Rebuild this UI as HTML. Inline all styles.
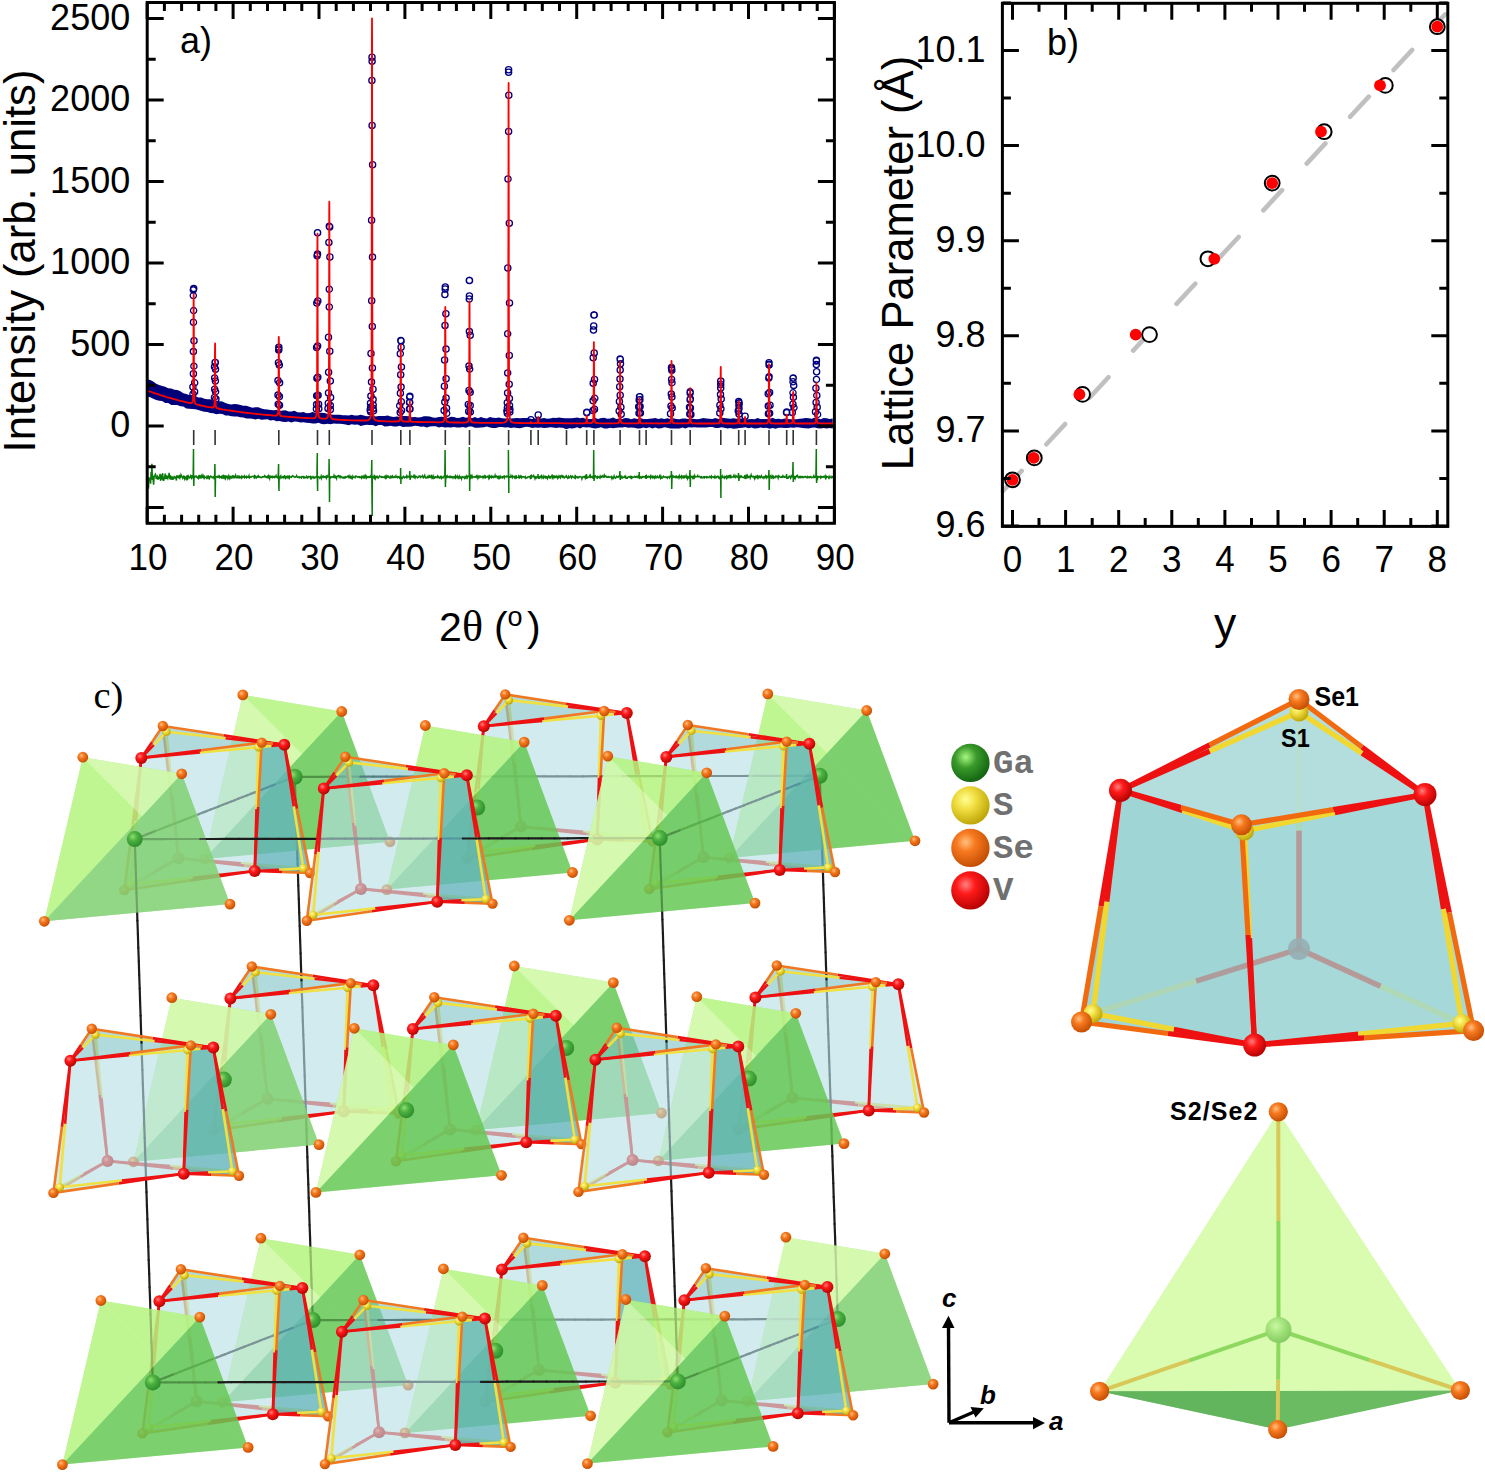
<!DOCTYPE html>
<html><head><meta charset="utf-8"><style>
html,body{margin:0;padding:0;background:#fff;}
svg{display:block;font-family:"Liberation Sans", sans-serif;}
</style></head><body>
<svg width="1485" height="1473" viewBox="0 0 1485 1473">
<defs>
<radialGradient id="gV" cx="0.38" cy="0.35" r="0.7"><stop offset="0" stop-color="#ff8080"/><stop offset="0.35" stop-color="#ff1a1a"/><stop offset="1" stop-color="#b00000"/></radialGradient>
<radialGradient id="gSe" cx="0.38" cy="0.35" r="0.7"><stop offset="0" stop-color="#ffc080"/><stop offset="0.35" stop-color="#f77a20"/><stop offset="1" stop-color="#c04a00"/></radialGradient>
<radialGradient id="gS" cx="0.38" cy="0.35" r="0.7"><stop offset="0" stop-color="#ffff90"/><stop offset="0.4" stop-color="#f0dc40"/><stop offset="1" stop-color="#b8a000"/></radialGradient>
<radialGradient id="gGa" cx="0.38" cy="0.35" r="0.7"><stop offset="0" stop-color="#8de070"/><stop offset="0.4" stop-color="#4cb040"/><stop offset="1" stop-color="#2a8a2a"/></radialGradient>
<radialGradient id="gGaL" cx="0.38" cy="0.35" r="0.7"><stop offset="0" stop-color="#a8f880"/><stop offset="0.4" stop-color="#3a9a2a"/><stop offset="1" stop-color="#106010"/></radialGradient>
<radialGradient id="gGaB" cx="0.4" cy="0.35" r="0.7"><stop offset="0" stop-color="#c8f8a0"/><stop offset="0.5" stop-color="#a0e078"/><stop offset="1" stop-color="#80c860"/></radialGradient>
</defs><g id="pa">
<path d="M147.2,379.2 L150.2,380.1 L153.2,381.6 L156.2,383.7 L159.2,385 L162.2,386.1 L165.2,386.7 L168.2,388.3 L171.3,388.6 L174.3,389.7 L177.3,390 L180.3,391.2 L183.3,393.3 L186.3,393.9 L189.3,395 L192.3,395.1 L195.3,396 L198.3,397.6 L201.3,397.4 L204.3,398.7 L207.3,399.2 L210.3,399.3 L213.3,400.8 L216.3,401 L219.4,401.3 L222.4,401.5 L225.4,402.9 L228.4,403.9 L231.4,404.6 L234.4,404 L237.4,404.3 L240.4,405 L243.4,405.7 L246.4,405.7 L249.4,406.7 L252.4,407.8 L255.4,407.2 L258.4,407.3 L261.4,408.4 L264.5,409.3 L267.5,409.5 L270.5,410 L273.5,410.2 L276.5,410.1 L279.5,410.9 L282.5,410.4 L285.5,410.2 L288.5,411.4 L291.5,411.5 L294.5,410.8 L297.5,412.3 L300.5,412.4 L303.5,412.1 L306.5,413.2 L309.6,412.9 L312.6,412.1 L315.6,413 L318.6,413 L321.6,412.8 L324.6,413 L327.6,413.9 L330.6,414.6 L333.6,414.8 L336.6,414.7 L339.6,414.7 L342.6,415.3 L345.6,415.3 L348.6,415.6 L351.6,414.8 L354.6,415.5 L357.7,415.4 L360.7,414.7 L363.7,415.5 L366.7,416.2 L369.7,415.9 L372.7,415.2 L375.7,416.6 L378.7,415.9 L381.7,415.9 L384.7,416 L387.7,415.6 L390.7,416.6 L393.7,416.9 L396.7,416.4 L399.7,416.8 L402.8,416.1 L405.8,416.1 L408.8,416.2 L411.8,417.2 L414.8,417 L417.8,417.6 L420.8,417.3 L423.8,416.3 L426.8,416.3 L429.8,416.4 L432.8,417.6 L435.8,417.7 L438.8,417 L441.8,416.7 L444.8,417.1 L447.9,418 L450.9,416.8 L453.9,417 L456.9,418 L459.9,417.8 L462.9,416.8 L465.9,417.7 L468.9,417.3 L471.9,418.3 L474.9,417 L477.9,418.3 L480.9,417 L483.9,418 L486.9,418.4 L489.9,417.1 L492.9,417.8 L496,418 L499,417.4 L502,418.3 L505,418.4 L508,418.3 L511,418.6 L514,418.2 L517,417.9 L520,418.2 L523,418.1 L526,418 L529,418.2 L532,418.9 L535,418.6 L538,417.8 L541.1,418.4 L544.1,418.1 L547.1,418.8 L550.1,418.6 L553.1,417.8 L556.1,418.1 L559.1,417.6 L562.1,418.1 L565.1,418.2 L568.1,418.3 L571.1,418.3 L574.1,418 L577.1,417.6 L580.1,418.2 L583.1,417.8 L586.1,418.9 L589.2,419 L592.2,419 L595.2,417.9 L598.2,418.9 L601.2,418.1 L604.2,417.7 L607.2,418.8 L610.2,418.5 L613.2,417.6 L616.2,418.9 L619.2,418.4 L622.2,418.9 L625.2,418 L628.2,418.3 L631.2,419.2 L634.3,418.2 L637.3,419.1 L640.3,418 L643.3,419.1 L646.3,419.2 L649.3,418.8 L652.3,418.6 L655.3,417.9 L658.3,419 L661.3,418.3 L664.3,419.1 L667.3,418.2 L670.3,419.1 L673.3,418.3 L676.3,419.1 L679.4,419.2 L682.4,418.5 L685.4,418.4 L688.4,418.9 L691.4,418.4 L694.4,419.1 L697.4,419.2 L700.4,418.8 L703.4,418.1 L706.4,418.5 L709.4,418.7 L712.4,418.9 L715.4,418.1 L718.4,419 L721.4,417.8 L724.4,418 L727.5,418.5 L730.5,418.7 L733.5,418.2 L736.5,418.8 L739.5,418.2 L742.5,418.7 L745.5,419.2 L748.5,419.2 L751.5,418.9 L754.5,419.2 L757.5,417.9 L760.5,418.9 L763.5,418.9 L766.5,419.1 L769.5,418.9 L772.6,417.8 L775.6,418.9 L778.6,418.8 L781.6,419.3 L784.6,418.6 L787.6,419 L790.6,419.3 L793.6,419.2 L796.6,419.3 L799.6,418.8 L802.6,418.4 L805.6,418.1 L808.6,418.2 L811.6,418.7 L814.6,417.8 L817.6,418.2 L820.7,419.3 L823.7,417.9 L826.7,418.2 L829.7,419.1 L832.7,418.5 L832.7,428.5 L829.7,428 L826.7,428.4 L823.7,428.1 L820.7,428.5 L817.6,428.2 L814.6,427.4 L811.6,427.7 L808.6,428.5 L805.6,428.2 L802.6,428 L799.6,427.5 L796.6,427.2 L793.6,427.8 L790.6,427.6 L787.6,427.9 L784.6,427.9 L781.6,427.7 L778.6,427.7 L775.6,428.7 L772.6,428 L769.5,428.7 L766.5,427.8 L763.5,427.9 L760.5,427.5 L757.5,428.2 L754.5,428.5 L751.5,427.4 L748.5,428.3 L745.5,427.3 L742.5,427.7 L739.5,428.1 L736.5,428.4 L733.5,428.7 L730.5,427.9 L727.5,428.4 L724.4,427.8 L721.4,427.3 L718.4,427.9 L715.4,428 L712.4,427.1 L709.4,427.1 L706.4,427.4 L703.4,427.6 L700.4,427.6 L697.4,427.4 L694.4,427.3 L691.4,427.5 L688.4,427.3 L685.4,428.6 L682.4,427.6 L679.4,428.5 L676.3,428.4 L673.3,428.4 L670.3,428.6 L667.3,427.7 L664.3,427.2 L661.3,428.2 L658.3,428.5 L655.3,427.5 L652.3,428.5 L649.3,427.3 L646.3,428.3 L643.3,427.5 L640.3,428.6 L637.3,428.6 L634.3,427.8 L631.2,427.6 L628.2,427.7 L625.2,427 L622.2,427.5 L619.2,427.5 L616.2,427.7 L613.2,428.3 L610.2,427.8 L607.2,428.5 L604.2,428.5 L601.2,427.2 L598.2,428.1 L595.2,428.4 L592.2,428 L589.2,427.3 L586.1,427.6 L583.1,427.1 L580.1,428.4 L577.1,427.3 L574.1,428.3 L571.1,428.4 L568.1,427.7 L565.1,428 L562.1,427.7 L559.1,427.6 L556.1,428.1 L553.1,427.6 L550.1,427.3 L547.1,427.7 L544.1,428.1 L541.1,427.6 L538,427.7 L535,427.5 L532,428 L529,427 L526,426.8 L523,427.6 L520,428.2 L517,428.1 L514,427.4 L511,428.1 L508,427.3 L505,427.5 L502,427.1 L499,426.9 L496,427.9 L492.9,428 L489.9,427.5 L486.9,426.5 L483.9,427.3 L480.9,427.5 L477.9,427.7 L474.9,427.7 L471.9,426.6 L468.9,426.6 L465.9,427.8 L462.9,426.9 L459.9,427.5 L456.9,427.5 L453.9,426.9 L450.9,427.4 L447.9,427.2 L444.8,427.4 L441.8,426.8 L438.8,427.4 L435.8,426.3 L432.8,426.3 L429.8,426.5 L426.8,427.4 L423.8,426.5 L420.8,426.8 L417.8,426.1 L414.8,425.7 L411.8,426.4 L408.8,426.7 L405.8,426.8 L402.8,427 L399.7,425.7 L396.7,426.5 L393.7,426.5 L390.7,425.7 L387.7,426.2 L384.7,426.6 L381.7,425 L378.7,425.1 L375.7,426.3 L372.7,425 L369.7,425.1 L366.7,424.7 L363.7,425.2 L360.7,425.9 L357.7,424.5 L354.6,424.7 L351.6,424.3 L348.6,425.3 L345.6,424.4 L342.6,424 L339.6,423.7 L336.6,423.7 L333.6,423.5 L330.6,424.2 L327.6,423.7 L324.6,424.2 L321.6,424.1 L318.6,422.7 L315.6,423.5 L312.6,423.4 L309.6,423.1 L306.5,422.7 L303.5,422.2 L300.5,422.4 L297.5,421.8 L294.5,421.5 L291.5,422.5 L288.5,421.5 L285.5,422 L282.5,421.8 L279.5,420.9 L276.5,421.3 L273.5,420.1 L270.5,420.6 L267.5,419.3 L264.5,419.6 L261.4,419.7 L258.4,418.7 L255.4,419.6 L252.4,418.8 L249.4,418.4 L246.4,418.5 L243.4,417.4 L240.4,417.2 L237.4,416.4 L234.4,416.4 L231.4,416.2 L228.4,415.5 L225.4,415.5 L222.4,414 L219.4,413.8 L216.3,414.3 L213.3,413.3 L210.3,413 L207.3,411.9 L204.3,411.8 L201.3,411 L198.3,410 L195.3,409.2 L192.3,409.1 L189.3,408.7 L186.3,408.5 L183.3,406.6 L180.3,406.2 L177.3,405.1 L174.3,404.9 L171.3,405 L168.2,403 L165.2,403.1 L162.2,401.1 L159.2,400.7 L156.2,399.9 L153.2,398.7 L150.2,397.2 L147.2,396.3Z" fill="#00007a" />
<path d="M189.9,393.9a3.1,3.1 0 1,0 6.2,0a3.1,3.1 0 1,0 -6.2,0M189.8,387a3.1,3.1 0 1,0 6.2,0a3.1,3.1 0 1,0 -6.2,0M190.3,373.7a3.1,3.1 0 1,0 6.2,0a3.1,3.1 0 1,0 -6.2,0M190.3,351.6a3.1,3.1 0 1,0 6.2,0a3.1,3.1 0 1,0 -6.2,0M190.4,322.3a3.1,3.1 0 1,0 6.2,0a3.1,3.1 0 1,0 -6.2,0M190.2,295.6a3.1,3.1 0 1,0 6.2,0a3.1,3.1 0 1,0 -6.2,0M190.2,290a3.1,3.1 0 1,0 6.2,0a3.1,3.1 0 1,0 -6.2,0M190.5,310.6a3.1,3.1 0 1,0 6.2,0a3.1,3.1 0 1,0 -6.2,0M190.9,340.7a3.1,3.1 0 1,0 6.2,0a3.1,3.1 0 1,0 -6.2,0M190.8,366.2a3.1,3.1 0 1,0 6.2,0a3.1,3.1 0 1,0 -6.2,0M191.6,382.8a3.1,3.1 0 1,0 6.2,0a3.1,3.1 0 1,0 -6.2,0M191.5,391.7a3.1,3.1 0 1,0 6.2,0a3.1,3.1 0 1,0 -6.2,0M190.6,288.6a3.1,3.1 0 1,0 6.2,0a3.1,3.1 0 1,0 -6.2,0M211.4,397.4a3.1,3.1 0 1,0 6.2,0a3.1,3.1 0 1,0 -6.2,0M211.6,389.2a3.1,3.1 0 1,0 6.2,0a3.1,3.1 0 1,0 -6.2,0M211.6,377.9a3.1,3.1 0 1,0 6.2,0a3.1,3.1 0 1,0 -6.2,0M211.4,366.7a3.1,3.1 0 1,0 6.2,0a3.1,3.1 0 1,0 -6.2,0M212.2,362.5a3.1,3.1 0 1,0 6.2,0a3.1,3.1 0 1,0 -6.2,0M212.4,369.2a3.1,3.1 0 1,0 6.2,0a3.1,3.1 0 1,0 -6.2,0M212.3,381a3.1,3.1 0 1,0 6.2,0a3.1,3.1 0 1,0 -6.2,0M212.5,391.7a3.1,3.1 0 1,0 6.2,0a3.1,3.1 0 1,0 -6.2,0M212.8,398.9a3.1,3.1 0 1,0 6.2,0a3.1,3.1 0 1,0 -6.2,0M212,362.4a3.1,3.1 0 1,0 6.2,0a3.1,3.1 0 1,0 -6.2,0M275.1,404.3a3.1,3.1 0 1,0 6.2,0a3.1,3.1 0 1,0 -6.2,0M274.9,395.1a3.1,3.1 0 1,0 6.2,0a3.1,3.1 0 1,0 -6.2,0M274.9,380.6a3.1,3.1 0 1,0 6.2,0a3.1,3.1 0 1,0 -6.2,0M275.3,362.7a3.1,3.1 0 1,0 6.2,0a3.1,3.1 0 1,0 -6.2,0M275.8,349a3.1,3.1 0 1,0 6.2,0a3.1,3.1 0 1,0 -6.2,0M275.6,350.1a3.1,3.1 0 1,0 6.2,0a3.1,3.1 0 1,0 -6.2,0M276.2,365a3.1,3.1 0 1,0 6.2,0a3.1,3.1 0 1,0 -6.2,0M276.5,382.8a3.1,3.1 0 1,0 6.2,0a3.1,3.1 0 1,0 -6.2,0M276.3,396.6a3.1,3.1 0 1,0 6.2,0a3.1,3.1 0 1,0 -6.2,0M276.4,405.2a3.1,3.1 0 1,0 6.2,0a3.1,3.1 0 1,0 -6.2,0M275.7,347.3a3.1,3.1 0 1,0 6.2,0a3.1,3.1 0 1,0 -6.2,0M313.3,408.9a3.1,3.1 0 1,0 6.2,0a3.1,3.1 0 1,0 -6.2,0M313.5,404.6a3.1,3.1 0 1,0 6.2,0a3.1,3.1 0 1,0 -6.2,0M313.6,395.8a3.1,3.1 0 1,0 6.2,0a3.1,3.1 0 1,0 -6.2,0M313.8,378.3a3.1,3.1 0 1,0 6.2,0a3.1,3.1 0 1,0 -6.2,0M313.5,347.5a3.1,3.1 0 1,0 6.2,0a3.1,3.1 0 1,0 -6.2,0M313.7,303a3.1,3.1 0 1,0 6.2,0a3.1,3.1 0 1,0 -6.2,0M314,255.8a3.1,3.1 0 1,0 6.2,0a3.1,3.1 0 1,0 -6.2,0M314.5,232.7a3.1,3.1 0 1,0 6.2,0a3.1,3.1 0 1,0 -6.2,0M314.4,254.1a3.1,3.1 0 1,0 6.2,0a3.1,3.1 0 1,0 -6.2,0M314.7,301a3.1,3.1 0 1,0 6.2,0a3.1,3.1 0 1,0 -6.2,0M314.5,345.9a3.1,3.1 0 1,0 6.2,0a3.1,3.1 0 1,0 -6.2,0M314.7,377.3a3.1,3.1 0 1,0 6.2,0a3.1,3.1 0 1,0 -6.2,0M315,395.3a3.1,3.1 0 1,0 6.2,0a3.1,3.1 0 1,0 -6.2,0M315.5,404.3a3.1,3.1 0 1,0 6.2,0a3.1,3.1 0 1,0 -6.2,0M315.7,408.7a3.1,3.1 0 1,0 6.2,0a3.1,3.1 0 1,0 -6.2,0M314.4,232.7a3.1,3.1 0 1,0 6.2,0a3.1,3.1 0 1,0 -6.2,0M324.9,408.4a3.1,3.1 0 1,0 6.2,0a3.1,3.1 0 1,0 -6.2,0M325.2,403.3a3.1,3.1 0 1,0 6.2,0a3.1,3.1 0 1,0 -6.2,0M325.4,392.9a3.1,3.1 0 1,0 6.2,0a3.1,3.1 0 1,0 -6.2,0M325.5,372.3a3.1,3.1 0 1,0 6.2,0a3.1,3.1 0 1,0 -6.2,0M325.4,337.3a3.1,3.1 0 1,0 6.2,0a3.1,3.1 0 1,0 -6.2,0M326.2,289.2a3.1,3.1 0 1,0 6.2,0a3.1,3.1 0 1,0 -6.2,0M325.8,242.4a3.1,3.1 0 1,0 6.2,0a3.1,3.1 0 1,0 -6.2,0M326.6,227a3.1,3.1 0 1,0 6.2,0a3.1,3.1 0 1,0 -6.2,0M326.8,257a3.1,3.1 0 1,0 6.2,0a3.1,3.1 0 1,0 -6.2,0M326.2,307a3.1,3.1 0 1,0 6.2,0a3.1,3.1 0 1,0 -6.2,0M326.7,351.3a3.1,3.1 0 1,0 6.2,0a3.1,3.1 0 1,0 -6.2,0M327.2,381a3.1,3.1 0 1,0 6.2,0a3.1,3.1 0 1,0 -6.2,0M327.5,397.4a3.1,3.1 0 1,0 6.2,0a3.1,3.1 0 1,0 -6.2,0M327.2,405.5a3.1,3.1 0 1,0 6.2,0a3.1,3.1 0 1,0 -6.2,0M327.3,409.6a3.1,3.1 0 1,0 6.2,0a3.1,3.1 0 1,0 -6.2,0M326.2,226.2a3.1,3.1 0 1,0 6.2,0a3.1,3.1 0 1,0 -6.2,0M367.5,411.8a3.1,3.1 0 1,0 6.2,0a3.1,3.1 0 1,0 -6.2,0M367.1,409.9a3.1,3.1 0 1,0 6.2,0a3.1,3.1 0 1,0 -6.2,0M367.5,407.2a3.1,3.1 0 1,0 6.2,0a3.1,3.1 0 1,0 -6.2,0M367.4,403.2a3.1,3.1 0 1,0 6.2,0a3.1,3.1 0 1,0 -6.2,0M367.8,396.1a3.1,3.1 0 1,0 6.2,0a3.1,3.1 0 1,0 -6.2,0M368.4,382.1a3.1,3.1 0 1,0 6.2,0a3.1,3.1 0 1,0 -6.2,0M367.9,353.5a3.1,3.1 0 1,0 6.2,0a3.1,3.1 0 1,0 -6.2,0M368.6,300.8a3.1,3.1 0 1,0 6.2,0a3.1,3.1 0 1,0 -6.2,0M368.5,220.2a3.1,3.1 0 1,0 6.2,0a3.1,3.1 0 1,0 -6.2,0M369,125.4a3.1,3.1 0 1,0 6.2,0a3.1,3.1 0 1,0 -6.2,0M369,61.3a3.1,3.1 0 1,0 6.2,0a3.1,3.1 0 1,0 -6.2,0M368.8,80.4a3.1,3.1 0 1,0 6.2,0a3.1,3.1 0 1,0 -6.2,0M369.5,164.8a3.1,3.1 0 1,0 6.2,0a3.1,3.1 0 1,0 -6.2,0M369.4,257.1a3.1,3.1 0 1,0 6.2,0a3.1,3.1 0 1,0 -6.2,0M369.2,326.4a3.1,3.1 0 1,0 6.2,0a3.1,3.1 0 1,0 -6.2,0M369.3,367.9a3.1,3.1 0 1,0 6.2,0a3.1,3.1 0 1,0 -6.2,0M369.9,389.2a3.1,3.1 0 1,0 6.2,0a3.1,3.1 0 1,0 -6.2,0M370,399.6a3.1,3.1 0 1,0 6.2,0a3.1,3.1 0 1,0 -6.2,0M370.1,405.1a3.1,3.1 0 1,0 6.2,0a3.1,3.1 0 1,0 -6.2,0M370.1,408.4a3.1,3.1 0 1,0 6.2,0a3.1,3.1 0 1,0 -6.2,0M370.4,410.8a3.1,3.1 0 1,0 6.2,0a3.1,3.1 0 1,0 -6.2,0M368.9,57.3a3.1,3.1 0 1,0 6.2,0a3.1,3.1 0 1,0 -6.2,0M397.1,412.5a3.1,3.1 0 1,0 6.2,0a3.1,3.1 0 1,0 -6.2,0M396.6,405.7a3.1,3.1 0 1,0 6.2,0a3.1,3.1 0 1,0 -6.2,0M397.3,393.3a3.1,3.1 0 1,0 6.2,0a3.1,3.1 0 1,0 -6.2,0M397.6,374.7a3.1,3.1 0 1,0 6.2,0a3.1,3.1 0 1,0 -6.2,0M397.2,353.7a3.1,3.1 0 1,0 6.2,0a3.1,3.1 0 1,0 -6.2,0M398,341a3.1,3.1 0 1,0 6.2,0a3.1,3.1 0 1,0 -6.2,0M398,347.3a3.1,3.1 0 1,0 6.2,0a3.1,3.1 0 1,0 -6.2,0M398.3,366.9a3.1,3.1 0 1,0 6.2,0a3.1,3.1 0 1,0 -6.2,0M398,387.1a3.1,3.1 0 1,0 6.2,0a3.1,3.1 0 1,0 -6.2,0M398.2,401.8a3.1,3.1 0 1,0 6.2,0a3.1,3.1 0 1,0 -6.2,0M398.4,410.5a3.1,3.1 0 1,0 6.2,0a3.1,3.1 0 1,0 -6.2,0M397.7,340.6a3.1,3.1 0 1,0 6.2,0a3.1,3.1 0 1,0 -6.2,0M406.4,409a3.1,3.1 0 1,0 6.2,0a3.1,3.1 0 1,0 -6.2,0M406.4,402.4a3.1,3.1 0 1,0 6.2,0a3.1,3.1 0 1,0 -6.2,0M406.6,397a3.1,3.1 0 1,0 6.2,0a3.1,3.1 0 1,0 -6.2,0M406.7,397a3.1,3.1 0 1,0 6.2,0a3.1,3.1 0 1,0 -6.2,0M406.7,402.3a3.1,3.1 0 1,0 6.2,0a3.1,3.1 0 1,0 -6.2,0M406.9,409a3.1,3.1 0 1,0 6.2,0a3.1,3.1 0 1,0 -6.2,0M406.8,396.2a3.1,3.1 0 1,0 6.2,0a3.1,3.1 0 1,0 -6.2,0M441,410.4a3.1,3.1 0 1,0 6.2,0a3.1,3.1 0 1,0 -6.2,0M441.7,402.1a3.1,3.1 0 1,0 6.2,0a3.1,3.1 0 1,0 -6.2,0M441.3,386.3a3.1,3.1 0 1,0 6.2,0a3.1,3.1 0 1,0 -6.2,0M441.5,360a3.1,3.1 0 1,0 6.2,0a3.1,3.1 0 1,0 -6.2,0M441.9,325.4a3.1,3.1 0 1,0 6.2,0a3.1,3.1 0 1,0 -6.2,0M441.8,294.6a3.1,3.1 0 1,0 6.2,0a3.1,3.1 0 1,0 -6.2,0M442.1,289a3.1,3.1 0 1,0 6.2,0a3.1,3.1 0 1,0 -6.2,0M442.8,313.8a3.1,3.1 0 1,0 6.2,0a3.1,3.1 0 1,0 -6.2,0M442.9,349.1a3.1,3.1 0 1,0 6.2,0a3.1,3.1 0 1,0 -6.2,0M443,378.8a3.1,3.1 0 1,0 6.2,0a3.1,3.1 0 1,0 -6.2,0M443,397.9a3.1,3.1 0 1,0 6.2,0a3.1,3.1 0 1,0 -6.2,0M443.4,408.3a3.1,3.1 0 1,0 6.2,0a3.1,3.1 0 1,0 -6.2,0M443.6,413.3a3.1,3.1 0 1,0 6.2,0a3.1,3.1 0 1,0 -6.2,0M442.2,287a3.1,3.1 0 1,0 6.2,0a3.1,3.1 0 1,0 -6.2,0M465.6,411.5a3.1,3.1 0 1,0 6.2,0a3.1,3.1 0 1,0 -6.2,0M465.2,404.5a3.1,3.1 0 1,0 6.2,0a3.1,3.1 0 1,0 -6.2,0M465.9,390.5a3.1,3.1 0 1,0 6.2,0a3.1,3.1 0 1,0 -6.2,0M465.9,366.1a3.1,3.1 0 1,0 6.2,0a3.1,3.1 0 1,0 -6.2,0M466.3,331.6a3.1,3.1 0 1,0 6.2,0a3.1,3.1 0 1,0 -6.2,0M466.3,296a3.1,3.1 0 1,0 6.2,0a3.1,3.1 0 1,0 -6.2,0M466.2,280.5a3.1,3.1 0 1,0 6.2,0a3.1,3.1 0 1,0 -6.2,0M466.2,299a3.1,3.1 0 1,0 6.2,0a3.1,3.1 0 1,0 -6.2,0M467.1,335.3a3.1,3.1 0 1,0 6.2,0a3.1,3.1 0 1,0 -6.2,0M466.6,369.1a3.1,3.1 0 1,0 6.2,0a3.1,3.1 0 1,0 -6.2,0M467.1,392.3a3.1,3.1 0 1,0 6.2,0a3.1,3.1 0 1,0 -6.2,0M467.1,405.5a3.1,3.1 0 1,0 6.2,0a3.1,3.1 0 1,0 -6.2,0M467.3,412a3.1,3.1 0 1,0 6.2,0a3.1,3.1 0 1,0 -6.2,0M466.4,280.4a3.1,3.1 0 1,0 6.2,0a3.1,3.1 0 1,0 -6.2,0M504.2,413.2a3.1,3.1 0 1,0 6.2,0a3.1,3.1 0 1,0 -6.2,0M503.8,411a3.1,3.1 0 1,0 6.2,0a3.1,3.1 0 1,0 -6.2,0M504.3,407.8a3.1,3.1 0 1,0 6.2,0a3.1,3.1 0 1,0 -6.2,0M504.2,402.7a3.1,3.1 0 1,0 6.2,0a3.1,3.1 0 1,0 -6.2,0M504.5,392.9a3.1,3.1 0 1,0 6.2,0a3.1,3.1 0 1,0 -6.2,0M504.6,372.9a3.1,3.1 0 1,0 6.2,0a3.1,3.1 0 1,0 -6.2,0M504.6,333.8a3.1,3.1 0 1,0 6.2,0a3.1,3.1 0 1,0 -6.2,0M504.7,267.9a3.1,3.1 0 1,0 6.2,0a3.1,3.1 0 1,0 -6.2,0M504.9,178.9a3.1,3.1 0 1,0 6.2,0a3.1,3.1 0 1,0 -6.2,0M505.7,95.2a3.1,3.1 0 1,0 6.2,0a3.1,3.1 0 1,0 -6.2,0M505.5,72.3a3.1,3.1 0 1,0 6.2,0a3.1,3.1 0 1,0 -6.2,0M505.5,131.5a3.1,3.1 0 1,0 6.2,0a3.1,3.1 0 1,0 -6.2,0M506.2,223.3a3.1,3.1 0 1,0 6.2,0a3.1,3.1 0 1,0 -6.2,0M506.4,302.9a3.1,3.1 0 1,0 6.2,0a3.1,3.1 0 1,0 -6.2,0M506.2,355.5a3.1,3.1 0 1,0 6.2,0a3.1,3.1 0 1,0 -6.2,0M506.1,384.2a3.1,3.1 0 1,0 6.2,0a3.1,3.1 0 1,0 -6.2,0M506.3,398.4a3.1,3.1 0 1,0 6.2,0a3.1,3.1 0 1,0 -6.2,0M506.4,405.5a3.1,3.1 0 1,0 6.2,0a3.1,3.1 0 1,0 -6.2,0M506.8,409.5a3.1,3.1 0 1,0 6.2,0a3.1,3.1 0 1,0 -6.2,0M506.7,412.1a3.1,3.1 0 1,0 6.2,0a3.1,3.1 0 1,0 -6.2,0M505.5,69.7a3.1,3.1 0 1,0 6.2,0a3.1,3.1 0 1,0 -6.2,0M527.8,419.8a3.1,3.1 0 1,0 6.2,0a3.1,3.1 0 1,0 -6.2,0M535.1,414.9a3.1,3.1 0 1,0 6.2,0a3.1,3.1 0 1,0 -6.2,0M563.4,425.2a3.1,3.1 0 1,0 6.2,0a3.1,3.1 0 1,0 -6.2,0M583.7,412.8a3.1,3.1 0 1,0 6.2,0a3.1,3.1 0 1,0 -6.2,0M583.6,412.5a3.1,3.1 0 1,0 6.2,0a3.1,3.1 0 1,0 -6.2,0M583.6,412.3a3.1,3.1 0 1,0 6.2,0a3.1,3.1 0 1,0 -6.2,0M589.9,410.5a3.1,3.1 0 1,0 6.2,0a3.1,3.1 0 1,0 -6.2,0M590,400.7a3.1,3.1 0 1,0 6.2,0a3.1,3.1 0 1,0 -6.2,0M590.1,383.3a3.1,3.1 0 1,0 6.2,0a3.1,3.1 0 1,0 -6.2,0M590.1,357.8a3.1,3.1 0 1,0 6.2,0a3.1,3.1 0 1,0 -6.2,0M590.4,330a3.1,3.1 0 1,0 6.2,0a3.1,3.1 0 1,0 -6.2,0M591.1,315.1a3.1,3.1 0 1,0 6.2,0a3.1,3.1 0 1,0 -6.2,0M590.6,326a3.1,3.1 0 1,0 6.2,0a3.1,3.1 0 1,0 -6.2,0M591.1,352.9a3.1,3.1 0 1,0 6.2,0a3.1,3.1 0 1,0 -6.2,0M591.4,379.4a3.1,3.1 0 1,0 6.2,0a3.1,3.1 0 1,0 -6.2,0M591.7,398.3a3.1,3.1 0 1,0 6.2,0a3.1,3.1 0 1,0 -6.2,0M591.4,409.2a3.1,3.1 0 1,0 6.2,0a3.1,3.1 0 1,0 -6.2,0M590.8,315a3.1,3.1 0 1,0 6.2,0a3.1,3.1 0 1,0 -6.2,0M616.1,411a3.1,3.1 0 1,0 6.2,0a3.1,3.1 0 1,0 -6.2,0M616.3,401.4a3.1,3.1 0 1,0 6.2,0a3.1,3.1 0 1,0 -6.2,0M616.6,386.8a3.1,3.1 0 1,0 6.2,0a3.1,3.1 0 1,0 -6.2,0M617.1,370.1a3.1,3.1 0 1,0 6.2,0a3.1,3.1 0 1,0 -6.2,0M617.2,359.5a3.1,3.1 0 1,0 6.2,0a3.1,3.1 0 1,0 -6.2,0M617.4,363.8a3.1,3.1 0 1,0 6.2,0a3.1,3.1 0 1,0 -6.2,0M616.9,379.1a3.1,3.1 0 1,0 6.2,0a3.1,3.1 0 1,0 -6.2,0M617.1,395.3a3.1,3.1 0 1,0 6.2,0a3.1,3.1 0 1,0 -6.2,0M617.8,407.2a3.1,3.1 0 1,0 6.2,0a3.1,3.1 0 1,0 -6.2,0M618.1,414.3a3.1,3.1 0 1,0 6.2,0a3.1,3.1 0 1,0 -6.2,0M617,359a3.1,3.1 0 1,0 6.2,0a3.1,3.1 0 1,0 -6.2,0M635.9,413.2a3.1,3.1 0 1,0 6.2,0a3.1,3.1 0 1,0 -6.2,0M635.6,406.8a3.1,3.1 0 1,0 6.2,0a3.1,3.1 0 1,0 -6.2,0M636.1,400a3.1,3.1 0 1,0 6.2,0a3.1,3.1 0 1,0 -6.2,0M636.7,396.7a3.1,3.1 0 1,0 6.2,0a3.1,3.1 0 1,0 -6.2,0M636.8,399.7a3.1,3.1 0 1,0 6.2,0a3.1,3.1 0 1,0 -6.2,0M637,406.4a3.1,3.1 0 1,0 6.2,0a3.1,3.1 0 1,0 -6.2,0M637.3,412.9a3.1,3.1 0 1,0 6.2,0a3.1,3.1 0 1,0 -6.2,0M636.4,396.7a3.1,3.1 0 1,0 6.2,0a3.1,3.1 0 1,0 -6.2,0M643,423.1a3.1,3.1 0 1,0 6.2,0a3.1,3.1 0 1,0 -6.2,0M667.4,413.7a3.1,3.1 0 1,0 6.2,0a3.1,3.1 0 1,0 -6.2,0M667.9,406a3.1,3.1 0 1,0 6.2,0a3.1,3.1 0 1,0 -6.2,0M668.2,394.1a3.1,3.1 0 1,0 6.2,0a3.1,3.1 0 1,0 -6.2,0M668.5,379.5a3.1,3.1 0 1,0 6.2,0a3.1,3.1 0 1,0 -6.2,0M668.5,368.8a3.1,3.1 0 1,0 6.2,0a3.1,3.1 0 1,0 -6.2,0M668.7,370.3a3.1,3.1 0 1,0 6.2,0a3.1,3.1 0 1,0 -6.2,0M668.9,382.7a3.1,3.1 0 1,0 6.2,0a3.1,3.1 0 1,0 -6.2,0M668.8,397a3.1,3.1 0 1,0 6.2,0a3.1,3.1 0 1,0 -6.2,0M669.1,408.1a3.1,3.1 0 1,0 6.2,0a3.1,3.1 0 1,0 -6.2,0M668.4,367.6a3.1,3.1 0 1,0 6.2,0a3.1,3.1 0 1,0 -6.2,0M686.7,414a3.1,3.1 0 1,0 6.2,0a3.1,3.1 0 1,0 -6.2,0M686.4,407.3a3.1,3.1 0 1,0 6.2,0a3.1,3.1 0 1,0 -6.2,0M687.2,399.1a3.1,3.1 0 1,0 6.2,0a3.1,3.1 0 1,0 -6.2,0M687.1,392.6a3.1,3.1 0 1,0 6.2,0a3.1,3.1 0 1,0 -6.2,0M687,393a3.1,3.1 0 1,0 6.2,0a3.1,3.1 0 1,0 -6.2,0M687,399.7a3.1,3.1 0 1,0 6.2,0a3.1,3.1 0 1,0 -6.2,0M687.3,407.9a3.1,3.1 0 1,0 6.2,0a3.1,3.1 0 1,0 -6.2,0M687.8,414.4a3.1,3.1 0 1,0 6.2,0a3.1,3.1 0 1,0 -6.2,0M687.1,391.8a3.1,3.1 0 1,0 6.2,0a3.1,3.1 0 1,0 -6.2,0M716.7,413a3.1,3.1 0 1,0 6.2,0a3.1,3.1 0 1,0 -6.2,0M716.8,405.2a3.1,3.1 0 1,0 6.2,0a3.1,3.1 0 1,0 -6.2,0M717.4,394.6a3.1,3.1 0 1,0 6.2,0a3.1,3.1 0 1,0 -6.2,0M717.6,384.4a3.1,3.1 0 1,0 6.2,0a3.1,3.1 0 1,0 -6.2,0M717.6,381.2a3.1,3.1 0 1,0 6.2,0a3.1,3.1 0 1,0 -6.2,0M717.6,388a3.1,3.1 0 1,0 6.2,0a3.1,3.1 0 1,0 -6.2,0M718.1,399a3.1,3.1 0 1,0 6.2,0a3.1,3.1 0 1,0 -6.2,0M717.8,408.7a3.1,3.1 0 1,0 6.2,0a3.1,3.1 0 1,0 -6.2,0M717.7,381a3.1,3.1 0 1,0 6.2,0a3.1,3.1 0 1,0 -6.2,0M735.2,410.9a3.1,3.1 0 1,0 6.2,0a3.1,3.1 0 1,0 -6.2,0M735.8,405.2a3.1,3.1 0 1,0 6.2,0a3.1,3.1 0 1,0 -6.2,0M735.7,401.7a3.1,3.1 0 1,0 6.2,0a3.1,3.1 0 1,0 -6.2,0M736.1,403.3a3.1,3.1 0 1,0 6.2,0a3.1,3.1 0 1,0 -6.2,0M735.9,408.6a3.1,3.1 0 1,0 6.2,0a3.1,3.1 0 1,0 -6.2,0M735.9,414.1a3.1,3.1 0 1,0 6.2,0a3.1,3.1 0 1,0 -6.2,0M735.6,401.6a3.1,3.1 0 1,0 6.2,0a3.1,3.1 0 1,0 -6.2,0M742,416.2a3.1,3.1 0 1,0 6.2,0a3.1,3.1 0 1,0 -6.2,0M765.3,413.8a3.1,3.1 0 1,0 6.2,0a3.1,3.1 0 1,0 -6.2,0M765.2,406.1a3.1,3.1 0 1,0 6.2,0a3.1,3.1 0 1,0 -6.2,0M765.1,393.7a3.1,3.1 0 1,0 6.2,0a3.1,3.1 0 1,0 -6.2,0M765.7,378a3.1,3.1 0 1,0 6.2,0a3.1,3.1 0 1,0 -6.2,0M766,365a3.1,3.1 0 1,0 6.2,0a3.1,3.1 0 1,0 -6.2,0M765.9,364.4a3.1,3.1 0 1,0 6.2,0a3.1,3.1 0 1,0 -6.2,0M766,376.8a3.1,3.1 0 1,0 6.2,0a3.1,3.1 0 1,0 -6.2,0M766.5,392.6a3.1,3.1 0 1,0 6.2,0a3.1,3.1 0 1,0 -6.2,0M766.9,405.3a3.1,3.1 0 1,0 6.2,0a3.1,3.1 0 1,0 -6.2,0M766.5,413.3a3.1,3.1 0 1,0 6.2,0a3.1,3.1 0 1,0 -6.2,0M765.9,362.8a3.1,3.1 0 1,0 6.2,0a3.1,3.1 0 1,0 -6.2,0M783.4,412.5a3.1,3.1 0 1,0 6.2,0a3.1,3.1 0 1,0 -6.2,0M783.7,412.6a3.1,3.1 0 1,0 6.2,0a3.1,3.1 0 1,0 -6.2,0M783.6,412.1a3.1,3.1 0 1,0 6.2,0a3.1,3.1 0 1,0 -6.2,0M789.2,412.4a3.1,3.1 0 1,0 6.2,0a3.1,3.1 0 1,0 -6.2,0M789.8,404.2a3.1,3.1 0 1,0 6.2,0a3.1,3.1 0 1,0 -6.2,0M789.9,392.8a3.1,3.1 0 1,0 6.2,0a3.1,3.1 0 1,0 -6.2,0M789.9,381.8a3.1,3.1 0 1,0 6.2,0a3.1,3.1 0 1,0 -6.2,0M789.9,378.3a3.1,3.1 0 1,0 6.2,0a3.1,3.1 0 1,0 -6.2,0M790.6,385.4a3.1,3.1 0 1,0 6.2,0a3.1,3.1 0 1,0 -6.2,0M790.3,397.2a3.1,3.1 0 1,0 6.2,0a3.1,3.1 0 1,0 -6.2,0M790.9,407.6a3.1,3.1 0 1,0 6.2,0a3.1,3.1 0 1,0 -6.2,0M790.1,378.1a3.1,3.1 0 1,0 6.2,0a3.1,3.1 0 1,0 -6.2,0M812.4,411.7a3.1,3.1 0 1,0 6.2,0a3.1,3.1 0 1,0 -6.2,0M813,402.4a3.1,3.1 0 1,0 6.2,0a3.1,3.1 0 1,0 -6.2,0M812.8,388.3a3.1,3.1 0 1,0 6.2,0a3.1,3.1 0 1,0 -6.2,0M813.5,371.8a3.1,3.1 0 1,0 6.2,0a3.1,3.1 0 1,0 -6.2,0M813.3,360.9a3.1,3.1 0 1,0 6.2,0a3.1,3.1 0 1,0 -6.2,0M813.2,364.6a3.1,3.1 0 1,0 6.2,0a3.1,3.1 0 1,0 -6.2,0M813.4,379.4a3.1,3.1 0 1,0 6.2,0a3.1,3.1 0 1,0 -6.2,0M813.7,395.4a3.1,3.1 0 1,0 6.2,0a3.1,3.1 0 1,0 -6.2,0M814.1,407.3a3.1,3.1 0 1,0 6.2,0a3.1,3.1 0 1,0 -6.2,0M814.5,414.4a3.1,3.1 0 1,0 6.2,0a3.1,3.1 0 1,0 -6.2,0M813.3,360.3a3.1,3.1 0 1,0 6.2,0a3.1,3.1 0 1,0 -6.2,0" fill="none" stroke="#000080" stroke-width="1.3"/>
<polyline points="147.2,390.5 149.3,391.3 151.5,392 153.6,392.8 155.8,393.5 157.9,394.2 160.1,395 162.2,395.6 164.4,396.3 166.5,397 168.7,397.6 170.8,398.2 173,398.8 175.1,399.4 177.3,400 179.4,400.6 181.6,401.1 183.7,401.6 185.9,402.1 188,402.6 190.1,403 191.1,403 191.2,403 191.2,403 191.3,403 191.4,403 191.4,402.9 191.5,402.9 191.5,402.9 191.6,402.9 191.7,402.9 191.7,402.8 191.8,402.8 191.9,402.8 191.9,402.7 192,402.6 192.1,402.6 192.1,402.5 192.2,402.4 192.3,402.3 192.3,402.3 192.3,402.2 192.4,402.1 192.4,401.9 192.5,401.8 192.6,401.5 192.6,401.3 192.7,401 192.8,400.6 192.8,400.2 192.9,399.6 193,398.8 193,397.6 193.1,395.9 193.2,393.1 193.2,388.4 193.3,381 193.3,370 193.4,354.9 193.5,336.4 193.5,316.8 193.6,300.7 193.7,294.3 193.7,300.8 193.8,316.9 193.9,336.5 193.9,355.1 194,370.2 194.1,381.2 194.1,388.6 194.2,393.3 194.3,396.2 194.3,397.9 194.4,399.1 194.4,399.9 194.5,400.5 194.6,401 194.6,401.4 194.7,401.7 194.8,402 194.8,402.3 194.9,402.5 195,402.7 195,402.8 195.1,403 195.2,403.1 195.2,403.2 195.3,403.3 195.3,403.4 195.4,403.5 195.5,403.5 195.5,403.6 195.6,403.7 195.7,403.7 195.7,403.8 195.8,403.8 195.9,403.9 195.9,403.9 196,404 196.1,404 196.1,404.1 196.2,404.1 196.2,404.1 196.6,404.3 198.7,405 200.9,405.5 203,405.9 205.2,406.3 207.3,406.8 209.5,407.1 211.6,407.4 212.5,407.5 212.5,407.5 212.6,407.5 212.7,407.5 212.7,407.5 212.8,407.5 212.9,407.5 212.9,407.5 213,407.4 213.1,407.4 213.1,407.4 213.2,407.4 213.3,407.4 213.3,407.4 213.4,407.3 213.5,407.3 213.5,407.3 213.6,407.2 213.6,407.2 213.7,407.1 213.8,407 213.8,406.9 213.9,406.8 214,406.7 214,406.6 214.1,406.4 214.2,406.2 214.2,405.9 214.3,405.5 214.4,405.1 214.4,404.4 214.5,403.4 214.5,401.7 214.6,399 214.7,394.6 214.7,388.1 214.8,379.2 214.9,368.3 214.9,356.7 215,347.2 215.1,343.4 215.1,347.2 215.2,356.7 215.3,368.3 215.3,379.3 215.4,388.2 215.4,394.7 215.5,399.1 215.6,401.9 215.6,403.6 215.7,404.6 215.8,405.3 215.8,405.8 215.9,406.2 215.9,406.3 216,406.5 216,406.7 216.1,406.9 216.2,407.1 216.2,407.2 216.3,407.4 216.3,407.5 216.4,407.6 216.5,407.6 216.5,407.7 216.6,407.8 216.7,407.9 216.7,407.9 216.8,408 216.9,408 216.9,408.1 217,408.1 217.1,408.1 217.1,408.2 217.2,408.2 217.3,408.2 217.3,408.3 217.4,408.3 217.4,408.3 217.5,408.3 217.6,408.4 217.6,408.4 218.1,408.5 220.2,409 222.4,409.4 224.5,409.7 226.7,410.1 228.8,410.4 231,410.7 233.1,411 235.2,411.3 237.4,411.6 239.5,411.9 241.7,412.2 243.8,412.5 246,412.7 248.1,413 250.3,413.2 252.4,413.5 254.6,413.7 256.7,414 258.9,414.2 261,414.4 263.2,414.6 265.3,414.8 267.5,415 269.6,415.2 271.8,415.4 273.9,415.6 276,415.6 276.2,415.6 276.3,415.6 276.4,415.5 276.4,415.5 276.5,415.5 276.5,415.5 276.6,415.5 276.7,415.5 276.7,415.4 276.8,415.4 276.9,415.4 276.9,415.4 277,415.3 277.1,415.3 277.1,415.2 277.2,415.2 277.3,415.1 277.3,415.1 277.4,415 277.4,414.9 277.5,414.8 277.6,414.7 277.6,414.6 277.7,414.4 277.8,414.2 277.8,414 277.9,413.7 278,413.4 278,412.9 278.1,412.4 278.2,411.5 278.2,410.8 278.2,410.3 278.3,408.2 278.3,404.9 278.4,399.5 278.5,391.6 278.5,380.7 278.6,367.3 278.7,353.1 278.7,341.5 278.8,336.8 278.9,341.5 278.9,353.1 279,367.3 279.1,380.7 279.1,391.6 279.2,399.6 279.2,405 279.3,408.3 279.4,410.4 279.4,411.7 279.5,412.5 279.6,413.1 279.6,413.5 279.7,413.9 279.8,414.1 279.8,414.4 279.9,414.6 280,414.8 280,414.9 280.1,415 280.2,415.1 280.2,415.2 280.3,415.3 280.3,415.4 280.4,415.5 280.5,415.5 280.5,415.6 280.6,415.6 280.7,415.7 280.7,415.7 280.8,415.8 280.9,415.8 280.9,415.8 281,415.9 281.1,415.9 281.1,415.9 281.2,415.9 281.2,416 281.3,416 281.4,416 282.5,416.2 284.6,416.5 286.8,416.7 288.9,416.9 291.1,417 293.2,417.2 295.4,417.4 297.5,417.5 299.7,417.6 301.8,417.8 304,417.9 306.1,418 308.3,418.1 310.4,418.2 312.6,418.3 314.7,418 314.9,417.9 314.9,417.9 315,417.8 315.1,417.8 315.1,417.7 315.2,417.7 315.3,417.6 315.3,417.6 315.4,417.5 315.5,417.5 315.5,417.4 315.6,417.3 315.6,417.2 315.7,417.1 315.8,417 315.8,416.9 315.9,416.7 316,416.6 316,416.4 316.1,416.2 316.2,415.9 316.2,415.7 316.3,415.3 316.4,415 316.4,414.5 316.5,413.9 316.6,413.3 316.6,412.5 316.7,411.5 316.7,410.1 316.8,408.2 316.9,406.4 316.9,405.2 316.9,400.4 317,392.6 317.1,380.1 317.1,361.5 317.2,336 317.3,304.8 317.3,271.7 317.4,244.5 317.5,233.6 317.5,244.5 317.6,271.7 317.6,304.8 317.7,336.1 317.8,361.5 317.8,380.1 317.9,392.6 318,400.5 318,405.3 318.1,408.3 318.2,410.2 318.2,411.5 318.3,412.6 318.4,413.4 318.4,414 318.5,414.6 318.5,415 318.6,415.4 318.7,415.8 318.7,416 318.8,416.3 318.9,416.5 318.9,416.7 319,416.9 319.1,417 319.1,417.1 319.2,417.3 319.3,417.4 319.3,417.5 319.4,417.5 319.5,417.6 319.5,417.7 319.6,417.8 319.6,417.8 319.7,417.9 319.8,417.9 319.8,418 319.9,418 320,418.1 320,418.1 321.1,418.5 323.3,418.7 325.4,418.7 326.7,418.3 326.8,418.3 326.9,418.3 326.9,418.2 327,418.2 327.1,418.1 327.1,418 327.2,418 327.2,417.9 327.3,417.8 327.4,417.7 327.4,417.7 327.5,417.5 327.6,417.4 327.6,417.4 327.6,417.3 327.7,417.1 327.8,417 327.8,416.8 327.9,416.6 328,416.3 328,416 328.1,415.7 328.1,415.3 328.2,414.9 328.3,414.4 328.3,413.7 328.4,413 328.5,412 328.5,410.8 328.6,409.2 328.7,407 328.7,403.5 328.8,397.8 328.9,388.6 328.9,373.9 329,352 329.1,322.1 329.1,285.4 329.2,246.4 329.2,214.5 329.3,201.7 329.4,214.5 329.4,246.4 329.5,285.4 329.6,322.1 329.6,352.1 329.7,374 329.7,384.5 329.8,388.7 329.8,397.9 329.9,403.5 330,407 330,409.3 330.1,410.9 330.1,412.1 330.2,413.1 330.3,413.8 330.3,414.5 330.4,415 330.5,415.5 330.5,415.9 330.6,416.2 330.7,416.5 330.7,416.8 330.8,417 330.9,417.2 330.9,417.3 331,417.5 331,417.6 331.1,417.8 331.2,417.9 331.2,418 331.3,418.1 331.4,418.2 331.4,418.2 331.5,418.3 331.6,418.4 331.6,418.4 331.7,418.5 331.8,418.5 331.8,418.6 331.9,418.6 334,419.3 336.2,419.5 338.3,419.7 340.5,419.8 342.6,419.9 344.8,420 346.9,420.1 349.1,420.2 351.2,420.3 353.4,420.3 355.5,420.4 357.7,420.5 359.8,420.5 361.9,420.5 364.1,420.5 366.2,420.5 368.4,420.1 369.4,419.4 369.5,419.3 369.6,419.2 369.6,419.1 369.7,419 369.7,418.9 369.8,418.8 369.9,418.7 369.9,418.5 370,418.4 370.1,418.2 370.1,418 370.2,417.8 370.3,417.6 370.3,417.4 370.4,417.1 370.5,416.8 370.5,416.4 370.5,416.3 370.6,416 370.6,415.5 370.7,415 370.8,414.4 370.8,413.7 370.9,412.9 371,411.9 371,410.7 371.1,409.3 371.2,407.5 371.2,405.3 371.3,402.4 371.4,398.2 371.4,391.7 371.5,381.3 371.5,364.2 371.6,337.1 371.7,296.6 371.7,241.2 371.8,173.3 371.9,101.3 371.9,42.2 372,18.5 372.1,42.2 372.1,101.3 372.2,173.3 372.3,241.2 372.3,296.6 372.4,337.1 372.5,364.3 372.5,381.4 372.6,391.8 372.6,398.2 372.7,401.2 372.7,402.4 372.8,405.4 372.8,407.6 372.9,409.3 373,410.8 373,411.9 373.1,412.9 373.2,413.8 373.2,414.5 373.3,415.1 373.4,415.6 373.4,416.1 373.5,416.5 373.5,416.9 373.6,417.2 373.7,417.5 373.7,417.7 373.8,417.9 373.9,418.2 373.9,418.3 374,418.5 374.1,418.7 374.1,418.8 374.2,418.9 374.3,419 374.3,419.2 374.4,419.3 374.4,419.3 374.5,419.4 374.6,419.5 374.8,419.8 377,420.7 379.1,421 381.3,421.1 383.4,421.2 385.6,421.3 387.7,421.4 389.9,421.4 392,421.5 394.2,421.5 396.3,421.5 398.2,421.3 398.3,421.3 398.3,421.3 398.4,421.3 398.5,421.3 398.5,421.2 398.6,421.2 398.7,421.2 398.7,421.2 398.8,421.1 398.8,421.1 398.9,421.1 399,421 399,421 399.1,421 399.2,420.9 399.2,420.8 399.3,420.8 399.4,420.7 399.4,420.6 399.5,420.5 399.6,420.4 399.6,420.3 399.7,420.1 399.7,419.9 399.8,419.7 399.9,419.4 399.9,419.1 400,418.7 400.1,418.1 400.1,417.3 400.2,416.1 400.3,414.1 400.3,410.8 400.4,405.6 400.5,397.9 400.5,387.3 400.6,374.4 400.6,369.7 400.6,360.6 400.7,349.3 400.8,344.8 400.8,349.3 400.9,360.6 401,374.4 401,387.4 401.1,397.9 401.2,405.7 401.2,410.8 401.3,414.1 401.4,416.1 401.4,417.3 401.5,418.1 401.5,418.7 401.6,419.1 401.7,419.5 401.7,419.7 401.8,420 401.9,420.1 401.9,420.3 402,420.4 402.1,420.6 402.1,420.7 402.2,420.8 402.3,420.8 402.3,420.9 402.4,421 402.5,421 402.5,421.1 402.6,421.1 402.6,421.2 402.7,421.2 402.8,421.2 402.8,421.2 402.8,421.3 402.9,421.3 403,421.3 403,421.3 403.1,421.4 403.2,421.4 403.2,421.4 403.3,421.4 403.4,421.4 404.9,421.6 407,421.7 407.3,421.7 407.4,421.7 407.4,421.7 407.5,421.7 407.6,421.7 407.6,421.7 407.7,421.7 407.8,421.7 407.8,421.7 407.9,421.7 407.9,421.6 408,421.6 408.1,421.6 408.1,421.6 408.2,421.6 408.3,421.6 408.3,421.6 408.4,421.6 408.5,421.5 408.5,421.5 408.6,421.5 408.7,421.5 408.7,421.4 408.8,421.4 408.9,421.4 408.9,421.3 409,421.2 409,421.1 409.1,421 409.2,420.9 409.2,420.8 409.2,420.7 409.3,420.3 409.4,419.8 409.4,419 409.5,417.6 409.6,415.6 409.6,412.8 409.7,409.3 409.8,405.7 409.8,402.7 409.9,401.5 409.9,402.7 410,405.7 410.1,409.3 410.1,412.8 410.2,415.6 410.3,417.6 410.3,419 410.4,419.8 410.5,420.4 410.5,420.7 410.6,420.9 410.7,421.1 410.7,421.2 410.8,421.3 410.8,421.3 410.9,421.4 411,421.5 411,421.5 411.1,421.5 411.2,421.6 411.2,421.6 411.3,421.6 411.3,421.6 411.4,421.6 411.4,421.7 411.5,421.7 411.6,421.7 411.6,421.7 411.7,421.7 411.8,421.7 411.8,421.7 411.9,421.8 411.9,421.8 412,421.8 412.1,421.8 412.1,421.8 412.2,421.8 412.3,421.8 412.3,421.8 412.4,421.8 412.5,421.8 413.5,421.9 415.6,421.9 417.8,422 419.9,422 422.1,422.1 424.2,422.1 426.4,422.1 428.5,422.2 430.7,422.2 432.8,422.2 435,422.2 437.1,422.3 439.3,422.3 441.4,422.2 442.7,421.9 442.8,421.9 442.8,421.9 442.9,421.9 443,421.9 443,421.8 443.1,421.8 443.1,421.8 443.2,421.7 443.3,421.7 443.3,421.6 443.4,421.6 443.5,421.5 443.5,421.5 443.6,421.4 443.6,421.4 443.7,421.3 443.7,421.2 443.8,421.1 443.9,421 443.9,420.9 444,420.7 444,420.5 444.1,420.3 444.2,420.1 444.2,419.8 444.3,419.5 444.4,419.1 444.4,418.6 444.5,417.9 444.6,417.1 444.6,415.9 444.7,414 444.8,411 444.8,406.2 444.9,398.4 445,386.8 445,370.9 445.1,351.4 445.1,330.7 445.2,313.8 445.3,307 445.3,313.8 445.4,330.7 445.5,351.4 445.5,370.9 445.6,386.8 445.7,398.4 445.7,403.9 445.7,406.2 445.8,411.1 445.9,414.1 445.9,415.9 446,417.1 446,418 446.1,418.6 446.2,419.1 446.2,419.5 446.3,419.8 446.4,420.1 446.4,420.4 446.5,420.6 446.6,420.7 446.6,420.9 446.7,421 446.8,421.1 446.8,421.3 446.9,421.3 446.9,421.4 447,421.5 447.1,421.6 447.1,421.6 447.2,421.7 447.3,421.7 447.3,421.8 447.4,421.8 447.5,421.8 447.5,421.9 447.6,421.9 447.7,421.9 447.7,422 447.8,422 447.8,422 450,422.3 452.1,422.4 454.3,422.5 456.4,422.5 458.6,422.5 460.7,422.6 462.9,422.6 465,422.5 466.9,422.2 467,422.2 467,422.2 467.1,422.1 467.2,422.1 467.2,422.1 467.3,422 467.4,422 467.4,422 467.5,421.9 467.6,421.9 467.6,421.8 467.7,421.7 467.8,421.7 467.8,421.6 467.9,421.5 468,421.4 468,421.3 468.1,421.2 468.1,421.1 468.2,420.9 468.3,420.7 468.3,420.5 468.4,420.2 468.5,420 468.5,419.6 468.6,419.2 468.7,418.6 468.7,418 468.8,417.1 468.9,415.8 468.9,413.9 469,410.7 469,405.6 469.1,397.4 469.2,385.2 469.2,368.5 469.3,348 469.3,340.7 469.4,326.3 469.4,308.4 469.5,301.3 469.6,308.4 469.6,326.3 469.7,348 469.8,368.5 469.8,385.2 469.9,397.4 469.9,405.6 470,410.7 470.1,413.9 470.1,415.8 470.2,417.1 470.3,418 470.3,418.7 470.4,419.2 470.5,419.6 470.5,420 470.6,420.3 470.7,420.5 470.7,420.7 470.8,420.9 470.8,421.1 470.9,421.2 471,421.3 471,421.5 471.1,421.6 471.2,421.6 471.2,421.7 471.3,421.8 471.4,421.8 471.4,421.9 471.5,421.9 471.5,422 471.6,422 471.6,422 471.7,422.1 471.8,422.1 471.8,422.2 471.9,422.2 471.9,422.2 472,422.2 472.1,422.3 473.6,422.5 475.8,422.7 477.9,422.7 480.1,422.8 482.2,422.8 484.4,422.8 486.5,422.8 488.7,422.9 490.8,422.9 492.9,422.9 495.1,422.9 497.2,422.9 499.4,422.8 501.5,422.8 503.7,422.6 505.8,421.9 506,421.7 506.1,421.6 506.1,421.6 506.2,421.5 506.3,421.4 506.3,421.3 506.4,421.2 506.5,421.1 506.5,421 506.6,420.9 506.6,420.7 506.7,420.6 506.8,420.4 506.8,420.2 506.9,420 507,419.8 507,419.5 507.1,419.2 507.2,418.9 507.2,418.5 507.3,418 507.4,417.5 507.4,416.9 507.5,416.2 507.6,415.4 507.6,414.4 507.7,413.2 507.7,411.7 507.8,409.8 507.9,407.3 507.9,403.8 508,400.4 508,398.3 508.1,389.5 508.1,375.1 508.2,352.2 508.3,318 508.3,271.2 508.4,213.8 508.5,153 508.5,103 508.6,83 508.6,103 508.7,153 508.8,213.8 508.8,271.2 508.9,318 509,352.2 509,375.1 509.1,389.5 509.2,398.4 509.2,403.8 509.3,407.3 509.4,409.8 509.4,411.7 509.5,413.2 509.5,414.4 509.6,415.4 509.7,416.2 509.7,416.9 509.8,417.5 509.9,418 509.9,418.5 510,418.9 510.1,419.2 510.1,419.5 510.2,419.8 510.3,420 510.3,420.2 510.4,420.4 510.4,420.6 510.5,420.8 510.6,420.9 510.6,421 510.7,421.1 510.8,421.3 510.8,421.4 510.9,421.4 511,421.5 511,421.6 511.1,421.7 511.2,421.7 512.3,422.4 514.4,422.8 516.6,422.9 518.7,423 520.9,423 523,423.1 525.2,423.1 527.3,423.1 528.3,423.1 528.4,423.1 528.5,423.1 528.5,423.1 528.6,423.1 528.7,423.1 528.7,423.1 528.8,423.1 528.9,423.1 528.9,423.1 529,423.1 529,423.1 529.1,423.1 529.2,423.1 529.2,423.1 529.3,423.1 529.4,423.1 529.4,423.1 529.5,423.1 529.5,423.1 529.6,423.1 529.6,423.1 529.7,423.1 529.8,423.1 529.8,423.1 529.9,423.1 529.9,423.1 530,423.1 530.1,423.1 530.1,423.1 530.2,423.1 530.3,423 530.3,423 530.4,423 530.5,422.9 530.5,422.9 530.6,422.7 530.7,422.6 530.7,422.4 530.8,422.2 530.9,422 530.9,421.9 531,422 531,422.2 531.1,422.4 531.2,422.6 531.2,422.8 531.3,422.9 531.4,423 531.4,423 531.5,423 531.6,423.1 531.6,423.1 531.6,423.1 531.7,423.1 531.8,423.1 531.8,423.1 531.9,423.1 531.9,423.1 532,423.1 532.1,423.1 532.1,423.1 532.2,423.1 532.3,423.1 532.3,423.1 532.4,423.1 532.5,423.1 532.5,423.1 532.6,423.1 532.7,423.1 532.7,423.1 532.8,423.1 532.8,423.1 532.9,423.1 533,423.1 533,423.1 533.1,423.1 533.2,423.1 533.2,423.1 533.3,423.1 533.4,423.1 533.4,423.1 533.5,423.1 533.8,423.1 535.6,423.1 535.7,423.1 535.8,423.1 535.8,423.1 535.9,423.1 536,423.1 536,423.1 536.1,423.1 536.2,423.1 536.2,423.1 536.3,423.1 536.3,423.1 536.4,423.1 536.5,423.1 536.5,423.1 536.6,423.1 536.7,423.1 536.7,423.1 536.8,423.1 536.9,423.1 536.9,423.1 537,423.1 537.1,423 537.1,423 537.2,423 537.3,423 537.3,423 537.4,422.9 537.4,422.9 537.5,422.9 537.6,422.8 537.6,422.7 537.7,422.6 537.8,422.3 537.8,421.9 537.9,421.3 538,420.4 538,419.4 538,419 538.1,418.3 538.2,417.4 538.2,417 538.3,417.4 538.3,418.3 538.4,419.4 538.5,420.4 538.5,421.3 538.6,421.9 538.7,422.3 538.7,422.6 538.8,422.7 538.9,422.8 538.9,422.9 539,422.9 539.1,423 539.1,423 539.2,423 539.2,423 539.3,423 539.4,423.1 539.4,423.1 539.5,423.1 539.6,423.1 539.6,423.1 539.7,423.1 539.8,423.1 539.8,423.1 539.9,423.1 540,423.1 540,423.1 540.1,423.1 540.1,423.1 540.2,423.1 540.2,423.1 540.3,423.1 540.3,423.1 540.4,423.1 540.5,423.1 540.5,423.1 540.6,423.1 540.7,423.1 540.7,423.1 540.8,423.1 542.3,423.2 544.5,423.2 546.6,423.2 548.8,423.2 550.9,423.2 553.1,423.2 555.2,423.2 557.4,423.2 559.5,423.2 561.7,423.2 563.8,423.3 563.9,423.3 564,423.3 564,423.3 564.1,423.3 564.2,423.3 564.2,423.3 564.3,423.3 564.4,423.3 564.4,423.3 564.5,423.3 564.5,423.3 564.6,423.3 564.7,423.3 564.7,423.3 564.8,423.3 564.9,423.3 564.9,423.3 565,423.3 565.1,423.3 565.1,423.3 565.2,423.3 565.3,423.3 565.3,423.3 565.4,423.3 565.4,423.3 565.5,423.3 565.6,423.3 565.6,423.3 565.7,423.3 565.8,423.3 565.8,423.3 565.9,423.3 566,423.3 566,423.3 566.1,423.3 566.2,423.3 566.2,423.3 566.3,423.3 566.3,423.3 566.4,423.3 566.5,423.3 566.5,423.3 566.6,423.3 566.7,423.3 566.7,423.3 566.8,423.3 566.9,423.3 566.9,423.3 567,423.3 567.1,423.3 567.1,423.3 567.2,423.3 567.3,423.3 567.3,423.3 567.4,423.3 567.4,423.3 567.5,423.3 567.6,423.3 567.6,423.3 567.7,423.3 567.8,423.3 567.8,423.3 567.9,423.3 568,423.3 568,423.3 568.1,423.3 568.1,423.3 568.2,423.3 568.2,423.3 568.3,423.3 568.3,423.3 568.4,423.3 568.5,423.3 568.5,423.3 568.6,423.3 568.7,423.3 568.7,423.3 568.8,423.3 568.9,423.3 568.9,423.3 569,423.3 569.1,423.3 570.3,423.3 572.4,423.3 574.6,423.3 576.7,423.3 578.8,423.3 581,423.3 583.1,423.3 584.1,423.3 584.2,423.3 584.2,423.3 584.3,423.3 584.3,423.3 584.4,423.3 584.5,423.3 584.5,423.3 584.6,423.3 584.7,423.2 584.7,423.2 584.8,423.2 584.9,423.2 584.9,423.2 585,423.2 585.1,423.2 585.1,423.2 585.2,423.2 585.2,423.2 585.3,423.2 585.3,423.2 585.4,423.2 585.4,423.2 585.5,423.2 585.6,423.1 585.6,423.1 585.7,423.1 585.8,423.1 585.8,423 585.9,423 586,422.9 586,422.9 586.1,422.8 586.1,422.6 586.2,422.2 586.3,421.7 586.3,421 586.4,420 586.5,418.7 586.5,417.4 586.6,416.3 586.7,415.9 586.7,416.3 586.8,417.4 586.9,418.7 586.9,420 587,421 587.1,421.7 587.1,422.2 587.2,422.5 587.2,422.7 587.3,422.9 587.4,422.9 587.4,423 587.5,423 587.6,423.1 587.6,423.1 587.7,423.1 587.8,423.1 587.8,423.1 587.9,423.2 588,423.2 588,423.2 588.1,423.2 588.1,423.2 588.2,423.2 588.3,423.2 588.3,423.2 588.4,423.2 588.5,423.2 588.5,423.2 588.6,423.2 588.7,423.2 588.7,423.2 588.8,423.2 588.9,423.2 588.9,423.2 589,423.2 589,423.2 589.1,423.2 589.2,423.2 589.2,423.2 589.6,423.2 591.3,423 591.4,423 591.4,423 591.5,423 591.6,423 591.6,422.9 591.7,422.9 591.7,422.9 591.8,422.9 591.8,422.9 591.9,422.8 591.9,422.8 592,422.8 592.1,422.7 592.1,422.7 592.2,422.6 592.3,422.6 592.3,422.5 592.4,422.4 592.5,422.3 592.5,422.3 592.6,422.1 592.7,422 592.7,421.9 592.8,421.7 592.8,421.5 592.9,421.3 593,421 593,420.6 593.1,420.2 593.2,419.6 593.2,418.7 593.3,417.4 593.4,415.3 593.4,411.9 593.5,406.4 593.6,398.2 593.6,387 593.7,373.3 593.8,358.8 593.8,346.8 593.9,342.1 593.9,346.8 594,358.8 594.1,373.3 594.1,387 594.2,398.2 594.3,406.4 594.3,411.9 594.4,415.3 594.5,417.4 594.5,418.7 594.6,419.6 594.7,420.2 594.7,420.6 594.8,421 594.8,421.3 594.9,421.5 595,421.7 595,421.9 595.1,422 595.2,422.2 595.2,422.3 595.3,422.4 595.4,422.4 595.4,422.5 595.5,422.6 595.6,422.6 595.6,422.7 595.7,422.7 595.7,422.8 595.8,422.8 595.9,422.8 595.9,422.9 596,422.9 596,422.9 596.1,422.9 596.1,422.9 596.2,423 596.3,423 596.3,423 596.4,423 596.5,423 598.2,423.2 600.3,423.3 602.5,423.3 604.6,423.3 606.8,423.4 608.9,423.4 611.1,423.4 613.2,423.4 615.4,423.3 617.5,423.2 617.6,423.1 617.6,423.1 617.7,423.1 617.8,423.1 617.8,423.1 617.9,423.1 618,423.1 618,423 618.1,423 618.1,423 618.2,423 618.3,422.9 618.3,422.9 618.4,422.9 618.5,422.8 618.5,422.8 618.6,422.7 618.7,422.6 618.7,422.6 618.8,422.5 618.9,422.4 618.9,422.3 619,422.2 619,422 619.1,421.8 619.2,421.6 619.2,421.3 619.3,421 619.4,420.5 619.4,419.9 619.5,418.9 619.6,417.3 619.6,414.7 619.6,413.5 619.7,410.5 619.8,404.3 619.8,395.7 619.9,385.3 620,374.2 620,365.1 620.1,361.5 620.1,365.1 620.2,374.2 620.3,385.3 620.3,395.7 620.4,404.3 620.5,410.5 620.5,414.7 620.6,417.3 620.7,418.9 620.7,419.9 620.8,420.5 620.9,421 620.9,421.3 621,421.6 621,421.8 621.1,422 621.2,422.2 621.2,422.3 621.3,422.4 621.4,422.5 621.4,422.6 621.5,422.6 621.6,422.7 621.6,422.8 621.7,422.8 621.8,422.9 621.8,422.9 621.8,422.9 621.9,422.9 621.9,423 622,423 622.1,423 622.1,423 622.2,423.1 622.3,423.1 622.3,423.1 622.4,423.1 622.5,423.1 622.5,423.1 622.6,423.2 622.7,423.2 623.9,423.3 626.1,423.4 628.2,423.4 630.4,423.4 632.5,423.4 634.7,423.4 636.8,423.3 636.9,423.3 637,423.3 637,423.3 637.1,423.3 637.2,423.3 637.2,423.3 637.3,423.3 637.4,423.3 637.4,423.3 637.5,423.3 637.6,423.3 637.6,423.2 637.7,423.2 637.8,423.2 637.8,423.2 637.9,423.2 637.9,423.2 638,423.1 638.1,423.1 638.1,423.1 638.2,423.1 638.3,423 638.3,423 638.4,422.9 638.5,422.9 638.5,422.8 638.6,422.7 638.7,422.6 638.7,422.5 638.8,422.3 638.8,422 638.9,421.6 639,421 639,419.9 639.1,418.2 639.2,415.7 639.2,412.3 639.3,408.1 639.4,403.6 639.4,399.9 639.5,398.5 639.6,399.9 639.6,403.6 639.7,408.1 639.8,412.3 639.8,415.7 639.9,418.2 639.9,419.9 640,421 640.1,421.6 640.1,422 640.2,422.3 640.3,422.5 640.3,422.6 640.4,422.7 640.5,422.8 640.5,422.9 640.6,422.9 640.7,423 640.7,423 640.8,423.1 640.8,423.1 640.9,423.1 641,423.2 641,423.2 641.1,423.2 641.1,423.2 641.2,423.2 641.2,423.2 641.3,423.2 641.4,423.3 641.4,423.3 641.5,423.3 641.6,423.3 641.6,423.3 641.7,423.3 641.7,423.3 641.8,423.3 641.9,423.3 641.9,423.3 642,423.3 642.1,423.3 643.3,423.4 643.5,423.4 643.6,423.4 643.7,423.4 643.7,423.4 643.8,423.4 643.9,423.4 643.9,423.4 644,423.4 644,423.4 644.1,423.4 644.2,423.4 644.2,423.4 644.3,423.4 644.4,423.4 644.4,423.4 644.5,423.4 644.6,423.4 644.6,423.4 644.7,423.4 644.8,423.4 644.8,423.4 644.9,423.4 644.9,423.4 645,423.4 645.1,423.4 645.1,423.4 645.2,423.4 645.3,423.4 645.3,423.4 645.4,423.4 645.4,423.4 645.5,423.4 645.5,423.4 645.6,423.4 645.7,423.4 645.7,423.3 645.8,423.3 645.8,423.3 645.9,423.2 646,423.1 646,423.1 646.1,423.1 646.2,423.1 646.2,423.1 646.3,423.2 646.4,423.3 646.4,423.3 646.5,423.3 646.6,423.4 646.6,423.4 646.7,423.4 646.8,423.4 646.8,423.4 646.9,423.4 646.9,423.4 647,423.4 647.1,423.4 647.1,423.4 647.2,423.4 647.3,423.4 647.3,423.4 647.4,423.4 647.5,423.4 647.5,423.4 647.6,423.4 647.6,423.4 647.7,423.4 647.7,423.4 647.8,423.4 647.8,423.4 647.9,423.4 648,423.4 648,423.4 648.1,423.4 648.2,423.4 648.2,423.4 648.3,423.4 648.4,423.4 648.4,423.4 648.5,423.4 648.6,423.4 648.6,423.4 648.7,423.4 649.7,423.4 651.9,423.4 654,423.4 656.2,423.4 658.3,423.5 660.5,423.4 662.6,423.4 664.7,423.4 666.9,423.4 669,423.2 669,423.2 669,423.2 669.1,423.2 669.1,423.2 669.2,423.2 669.3,423.2 669.3,423.1 669.4,423.1 669.5,423.1 669.5,423.1 669.6,423.1 669.7,423 669.7,423 669.8,423 669.9,422.9 669.9,422.9 670,422.8 670.1,422.8 670.1,422.7 670.2,422.6 670.2,422.6 670.3,422.5 670.4,422.3 670.4,422.2 670.5,422.1 670.6,421.9 670.6,421.7 670.7,421.4 670.8,421 670.8,420.6 670.9,419.9 671,418.9 671,417.3 671.1,414.7 671.1,410.4 671.2,406.5 671.2,404.2 671.3,395.6 671.3,385 671.4,373.8 671.5,364.6 671.5,361 671.6,364.6 671.7,373.8 671.7,385 671.8,395.6 671.9,404.2 671.9,410.4 672,414.7 672,417.3 672.1,418.9 672.2,419.9 672.2,420.6 672.3,421 672.4,421.4 672.4,421.7 672.5,421.9 672.6,422.1 672.6,422.2 672.7,422.3 672.8,422.5 672.8,422.6 672.9,422.6 673,422.7 673,422.8 673.1,422.8 673.1,422.9 673.2,422.9 673.3,423 673.3,423 673.4,423 673.5,423.1 673.5,423.1 673.6,423.1 673.7,423.1 673.7,423.1 673.8,423.2 673.9,423.2 673.9,423.2 674,423.2 674,423.2 674.1,423.2 675.5,423.4 677.6,423.4 679.8,423.4 681.9,423.4 684.1,423.4 686.2,423.4 687.6,423.3 687.7,423.3 687.7,423.3 687.8,423.3 687.9,423.3 687.9,423.3 688,423.3 688,423.3 688.1,423.3 688.2,423.3 688.2,423.2 688.3,423.2 688.4,423.2 688.4,423.2 688.5,423.2 688.6,423.1 688.6,423.1 688.7,423.1 688.8,423.1 688.8,423 688.9,423 688.9,422.9 689,422.8 689.1,422.8 689.1,422.7 689.2,422.6 689.3,422.5 689.3,422.3 689.4,422.1 689.5,421.9 689.5,421.5 689.6,420.9 689.7,420 689.7,418.5 689.8,416.1 689.9,412.6 689.9,407.7 690,401.8 690,395.4 690.1,390.3 690.2,388.2 690.2,390.3 690.3,395.4 690.4,401.8 690.4,407.7 690.5,412.6 690.5,413.9 690.6,416.1 690.6,418.5 690.7,420 690.8,420.9 690.8,421.5 690.9,421.9 690.9,422.1 691,422.3 691.1,422.5 691.1,422.6 691.2,422.7 691.3,422.8 691.3,422.9 691.4,422.9 691.5,423 691.5,423 691.6,423.1 691.7,423.1 691.7,423.1 691.8,423.2 691.8,423.2 691.9,423.2 692,423.2 692,423.2 692.1,423.3 692.2,423.3 692.2,423.3 692.3,423.3 692.4,423.3 692.4,423.3 692.5,423.3 692.6,423.3 692.6,423.3 692.7,423.3 692.7,423.3 692.8,423.4 694.8,423.4 697,423.5 699.1,423.5 701.3,423.5 703.4,423.5 705.5,423.5 707.7,423.5 709.8,423.5 712,423.5 714.1,423.5 716.3,423.4 718.2,423.3 718.2,423.3 718.3,423.3 718.4,423.3 718.4,423.2 718.5,423.2 718.6,423.2 718.6,423.2 718.7,423.2 718.8,423.2 718.8,423.1 718.9,423.1 719,423.1 719,423 719.1,423 719.1,423 719.2,422.9 719.3,422.9 719.3,422.8 719.4,422.7 719.5,422.7 719.5,422.6 719.6,422.5 719.7,422.4 719.7,422.2 719.8,422.1 719.9,421.9 719.9,421.6 720,421.3 720,420.9 720.1,420.3 720.2,419.4 720.2,417.9 720.3,415.5 720.4,411.7 720.4,406 720.5,398.2 720.6,388.6 720.6,385.2 720.6,378.5 720.7,370.2 720.8,366.8 720.8,370.2 720.9,378.5 720.9,388.6 721,398.2 721.1,406 721.1,411.7 721.2,415.5 721.3,417.9 721.3,419.4 721.4,420.3 721.5,420.9 721.5,421.3 721.6,421.6 721.7,421.9 721.7,422.1 721.8,422.2 721.8,422.4 721.9,422.5 722,422.6 722,422.7 722.1,422.8 722.2,422.8 722.2,422.9 722.3,422.9 722.4,423 722.4,423 722.5,423 722.6,423.1 722.6,423.1 722.7,423.1 722.7,423.1 722.8,423.2 722.8,423.2 722.9,423.2 722.9,423.2 723,423.2 723.1,423.2 723.1,423.3 723.2,423.3 723.3,423.3 723.3,423.3 724.9,423.4 727,423.5 729.2,423.5 731.3,423.5 733.5,423.5 735.6,423.5 736.1,423.4 736.2,423.4 736.3,423.4 736.3,423.4 736.4,423.4 736.5,423.4 736.5,423.4 736.6,423.4 736.6,423.4 736.7,423.4 736.8,423.4 736.8,423.4 736.9,423.3 737,423.3 737,423.3 737.1,423.3 737.2,423.3 737.2,423.3 737.3,423.2 737.4,423.2 737.4,423.2 737.5,423.2 737.5,423.1 737.6,423.1 737.7,423 737.7,423 737.8,422.9 737.8,422.9 737.9,422.8 737.9,422.7 738,422.5 738.1,422.3 738.1,421.9 738.2,421.3 738.3,420.4 738.3,418.9 738.4,416.7 738.4,413.7 738.5,410 738.6,406.1 738.6,402.8 738.7,401.5 738.8,402.8 738.8,406.1 738.9,410 739,413.7 739,416.7 739.1,418.9 739.2,420.4 739.2,421.3 739.3,421.9 739.4,422.3 739.4,422.5 739.5,422.7 739.5,422.8 739.6,422.9 739.7,423 739.7,423 739.8,423.1 739.9,423.1 739.9,423.1 739.9,423.2 740,423.2 740.1,423.2 740.1,423.2 740.2,423.3 740.3,423.3 740.3,423.3 740.4,423.3 740.4,423.3 740.5,423.3 740.6,423.4 740.6,423.4 740.7,423.4 740.8,423.4 740.8,423.4 740.9,423.4 741,423.4 741,423.4 741.1,423.4 741.2,423.4 741.2,423.4 741.3,423.4 742.1,423.4 742.5,423.5 742.6,423.5 742.6,423.5 742.7,423.5 742.7,423.5 742.8,423.5 742.9,423.5 742.9,423.4 743,423.4 743.1,423.4 743.1,423.4 743.2,423.4 743.3,423.4 743.3,423.4 743.4,423.4 743.5,423.4 743.5,423.4 743.6,423.4 743.6,423.4 743.7,423.4 743.8,423.4 743.8,423.4 743.9,423.4 744,423.4 744,423.4 744.1,423.3 744.2,423.3 744.2,423.3 744.2,423.3 744.3,423.2 744.4,423.2 744.4,423.1 744.5,423 744.5,422.9 744.6,422.6 744.7,422.2 744.7,421.5 744.8,420.6 744.9,419.5 744.9,418.4 745,417.4 745.1,417 745.1,417.4 745.2,418.4 745.3,419.5 745.3,420.6 745.4,421.5 745.5,422.2 745.5,422.6 745.6,422.9 745.6,423 745.7,423.1 745.8,423.2 745.8,423.3 745.9,423.3 746,423.3 746,423.3 746.1,423.4 746.2,423.4 746.2,423.4 746.3,423.4 746.4,423.4 746.4,423.4 746.5,423.4 746.5,423.4 746.6,423.4 746.7,423.4 746.7,423.5 746.8,423.5 746.9,423.5 746.9,423.5 747,423.5 747.1,423.5 747.1,423.5 747.2,423.5 747.3,423.5 747.3,423.5 747.4,423.5 747.4,423.5 747.5,423.5 747.6,423.5 747.6,423.5 748.5,423.5 750.6,423.5 752.8,423.5 754.9,423.5 757.1,423.5 759.2,423.5 761.4,423.5 763.5,423.5 765.7,423.4 766.5,423.3 766.5,423.3 766.6,423.3 766.6,423.3 766.7,423.3 766.8,423.2 766.8,423.2 766.9,423.2 767,423.2 767,423.2 767.1,423.1 767.2,423.1 767.2,423.1 767.3,423 767.4,423 767.4,423 767.5,422.9 767.5,422.9 767.6,422.8 767.7,422.7 767.7,422.7 767.8,422.6 767.8,422.5 767.9,422.5 767.9,422.3 768,422.2 768.1,422 768.1,421.8 768.2,421.5 768.3,421.2 768.3,420.8 768.4,420.2 768.5,419.2 768.5,417.7 768.6,415.1 768.6,411.1 768.7,405.2 768.8,397 768.8,386.9 768.9,376.3 769,367.6 769,364.1 769.1,367.6 769.2,376.3 769.2,386.9 769.3,397 769.4,405.2 769.4,411.1 769.5,415.1 769.5,417.7 769.6,419.2 769.7,420.2 769.7,420.8 769.8,421.2 769.9,421.5 769.9,421.8 770,422 770,422 770.1,422.2 770.1,422.3 770.2,422.5 770.3,422.6 770.3,422.7 770.4,422.7 770.4,422.8 770.5,422.9 770.6,422.9 770.6,423 770.7,423 770.8,423 770.8,423.1 770.9,423.1 771,423.1 771,423.2 771.1,423.2 771.2,423.2 771.2,423.2 771.3,423.2 771.3,423.3 771.4,423.3 771.5,423.3 771.5,423.3 771.6,423.3 772.1,423.4 774.3,423.5 776.4,423.5 778.6,423.5 780.7,423.5 782.9,423.5 784.1,423.5 784.2,423.5 784.3,423.5 784.3,423.5 784.4,423.5 784.5,423.5 784.5,423.5 784.6,423.5 784.7,423.5 784.7,423.5 784.8,423.5 784.9,423.5 784.9,423.5 785,423.4 785,423.4 785.1,423.4 785.1,423.4 785.2,423.4 785.2,423.4 785.3,423.4 785.4,423.4 785.4,423.4 785.5,423.4 785.6,423.4 785.6,423.3 785.7,423.3 785.8,423.3 785.8,423.3 785.9,423.2 786,423.2 786,423.1 786.1,423 786.1,422.9 786.2,422.6 786.3,422.3 786.3,421.7 786.4,420.8 786.5,419.5 786.5,418 786.6,416.4 786.7,415.1 786.7,414.6 786.8,415.1 786.9,416.4 786.9,418 787,419.5 787,420.7 787.1,421.6 787.2,422.1 787.2,422.2 787.2,422.6 787.3,422.9 787.4,423 787.4,423.1 787.5,423.2 787.6,423.2 787.6,423.2 787.7,423.3 787.8,423.3 787.8,423.3 787.9,423.3 787.9,423.4 788,423.4 788.1,423.4 788.1,423.4 788.2,423.4 788.3,423.4 788.3,423.4 788.4,423.4 788.5,423.4 788.5,423.4 788.6,423.4 788.7,423.4 788.7,423.4 788.8,423.4 788.9,423.4 788.9,423.4 789,423.4 789,423.4 789.1,423.4 789.2,423.4 789.2,423.4 789.3,423.4 790.6,423.4 790.7,423.4 790.7,423.4 790.8,423.4 790.8,423.4 790.9,423.4 791,423.4 791,423.3 791.1,423.3 791.2,423.3 791.2,423.3 791.3,423.3 791.4,423.3 791.4,423.3 791.5,423.3 791.5,423.2 791.6,423.2 791.6,423.2 791.7,423.2 791.8,423.1 791.8,423.1 791.9,423.1 791.9,423 792,423 792.1,422.9 792.1,422.8 792.2,422.7 792.3,422.6 792.3,422.5 792.4,422.3 792.5,422.1 792.5,421.7 792.6,421.2 792.7,420.4 792.7,419.1 792.8,416.9 792.8,413.7 792.9,409.3 793,404 793,398.3 793.1,393.6 793.2,391.8 793.2,393.6 793.3,398.3 793.4,404 793.4,409.3 793.5,413.7 793.6,416.9 793.6,418.4 793.6,419.1 793.7,420.4 793.7,421.2 793.8,421.7 793.9,422.1 793.9,422.3 794,422.5 794.1,422.6 794.1,422.7 794.2,422.8 794.3,422.9 794.3,423 794.4,423 794.5,423.1 794.5,423.1 794.6,423.1 794.6,423.2 794.7,423.2 794.8,423.2 794.8,423.3 794.9,423.3 795,423.3 795,423.3 795.1,423.3 795.2,423.3 795.2,423.3 795.3,423.4 795.4,423.4 795.4,423.4 795.5,423.4 795.6,423.4 795.6,423.4 795.7,423.4 795.7,423.4 797.9,423.5 800,423.5 802.2,423.5 804.3,423.5 806.5,423.5 808.6,423.5 810.8,423.5 812.9,423.5 813.9,423.4 813.9,423.4 814,423.4 814.1,423.4 814.1,423.3 814.2,423.3 814.3,423.3 814.3,423.3 814.4,423.3 814.4,423.3 814.5,423.3 814.6,423.2 814.6,423.2 814.7,423.2 814.8,423.2 814.8,423.2 814.9,423.1 815,423.1 815,423 815.1,423 815.1,423 815.2,422.9 815.2,422.9 815.3,422.8 815.4,422.7 815.4,422.6 815.5,422.5 815.5,422.4 815.6,422.2 815.7,422 815.7,421.7 815.8,421.2 815.9,420.6 815.9,419.5 816,417.8 816.1,415.1 816.1,411 816.2,405.3 816.3,398.5 816.3,391.2 816.4,385.2 816.4,382.8 816.5,385.2 816.6,391.2 816.6,398.5 816.7,405.3 816.8,411 816.8,415.1 816.9,417.8 817,419.5 817,420.6 817.1,421.2 817.2,421.7 817.2,422 817.3,422.2 817.3,422.4 817.4,422.5 817.5,422.6 817.5,422.7 817.6,422.8 817.7,422.9 817.7,422.9 817.8,423 817.9,423 817.9,423.1 818,423.1 818.1,423.2 818.1,423.2 818.2,423.2 818.3,423.2 818.3,423.2 818.4,423.3 818.4,423.3 818.5,423.3 818.6,423.3 818.6,423.3 818.7,423.3 818.8,423.4 818.8,423.4 818.9,423.4 819,423.4 819,423.4 819.4,423.4 821.5,423.5 823.7,423.5 825.8,423.5 828,423.5 830.1,423.5 832.3,423.5 834.4,423.5" fill="none" stroke="#ff0000" stroke-width="1.8" stroke-linejoin="round"/>
<path d="M193.7,430V445M215.1,430V445M278.8,430V445M317.5,430V445M329.3,430V445M372,430V445M400.8,430V445M409.9,430V445M445.3,430V445M469.5,430V445M508.6,430V445M530.9,430V445M538.2,430V445M566.5,430V445M586.7,430V445M593.9,430V445M620.1,430V445M639.5,430V445M646.1,430V445M671.5,430V445M690.2,430V445M720.8,430V445M738.7,430V445M745.1,430V445M769,430V445M786.7,430V445M793.2,430V445M816.4,430V445" stroke="#333" stroke-width="1.6"/>
<polyline points="147.2,479.9 147.6,480.7 148.1,479.8 148.5,488.7 148.9,477.9 149.3,478.1 149.8,480.9 150.2,478.5 150.6,483.7 151.1,472.1 151.5,475.5 151.9,463.8 152.4,480 152.8,475.6 153.2,480.3 153.6,484.6 154.1,477 154.5,476.1 154.9,475.3 155.4,474.2 155.8,475 156.2,479 156.6,477.1 157.1,477.2 157.5,476.5 157.9,479.7 158.4,478.4 158.8,476.6 159.2,478.9 159.7,476.6 160.1,473.9 160.5,480.8 160.9,478.2 161.4,474.6 161.8,479.7 162.2,477.9 162.7,473.2 163.1,480.8 163.5,477.8 164,479.1 164.4,477.4 164.8,476.7 165.2,473.6 165.7,479.1 166.1,477.1 166.5,476.4 167,477.7 167.4,477.2 167.8,478.3 168.2,476.3 168.7,476.9 169.1,472.9 169.5,476.2 170,478.2 170.4,479.4 170.8,476.3 171.3,476.8 171.7,479.7 172.1,476.4 172.5,478.2 173,479.8 173.4,477.1 173.8,479 174.3,475.9 174.7,477.3 175.1,476.9 175.5,477.2 176,478.7 176.4,480.5 176.8,476 177.3,476.2 177.7,477.7 178.1,475.5 178.6,477.7 179,477.8 179.4,476.6 179.8,477.7 180.3,475 180.7,478 181.1,475 181.6,476.1 182,476.3 182.4,476.5 182.8,478.1 183.3,477.1 183.7,476.5 184.1,477.6 184.6,478.9 185,477 185.4,477.4 185.9,478.4 186.3,477.3 186.7,475.6 187.1,479.7 187.6,479.4 188,474.9 188.4,477 188.9,477.4 189.3,478 189.7,477.7 190.2,476.7 190.6,475.9 191,477.1 191.4,478 191.9,475.9 192.3,476 192.7,477 193.2,475.1 193.5,449 193.6,476.8 193.8,486 194,476.6 194.4,477.4 194.9,476.3 195.3,476.2 195.7,476.6 196.2,477 196.6,476.4 197,477 197.5,477.7 197.9,478.1 198.3,478.5 198.7,476.3 199.2,476.6 199.6,474.9 200,478.6 200.5,476.4 200.9,477 201.3,477.4 201.7,475.9 202.2,477.4 202.6,477 203,475.5 203.5,477.2 203.9,478 204.3,475.5 204.8,477.6 205.2,477.2 205.6,477.4 206,477.3 206.5,478 206.9,476.8 207.3,477.7 207.8,476.7 208.2,477.6 208.6,476.4 209,476.9 209.5,478.3 209.9,477.3 210.3,476.9 210.8,476.1 211.2,476.4 211.6,477.1 212.1,477.7 212.5,477.3 212.9,477.4 213.3,477 213.8,478 214.2,476.7 214.6,476.6 214.9,464 215.1,477.6 215.2,497 215.5,477 215.9,476.8 216.3,476.6 216.8,476.8 217.2,477.4 217.6,477.2 218.1,476.2 218.5,477.3 218.9,477.1 219.4,476.3 219.8,477.5 220.2,476.8 220.6,476.8 221.1,477.5 221.5,477.9 221.9,476.5 222.4,477.3 222.8,476.4 223.2,478.6 223.7,476.7 224.1,477.8 224.5,476.6 224.9,477.5 225.4,478.5 225.8,475.3 226.2,476.7 226.7,477.3 227.1,476.9 227.5,476.6 227.9,478.4 228.4,477.1 228.8,475.9 229.2,477.6 229.7,475.9 230.1,477.8 230.5,476.6 231,477.1 231.4,477.8 231.8,477.1 232.2,476.1 232.7,475.9 233.1,477.8 233.5,477.5 234,476.5 234.4,477.6 234.8,477.3 235.2,477.4 235.7,475.5 236.1,476.8 236.5,477.6 237,477.5 237.4,477.6 237.8,475.4 238.3,477.1 238.7,477.3 239.1,478.6 239.5,476.4 240,476.8 240.4,477 240.8,477.6 241.3,476.7 241.7,477.7 242.1,476.5 242.5,477.2 243,476.7 243.4,477.1 243.8,476.6 244.3,476 244.7,477.7 245.1,477.2 245.6,476.6 246,477.1 246.4,477.6 246.8,476.4 247.3,476.9 247.7,477.3 248.1,477.3 248.6,476.8 249,475.7 249.4,477.8 249.9,477.2 250.3,477 250.7,476.8 251.1,477.2 251.6,476.7 252,476.4 252.4,476.5 252.9,476.6 253.3,476.6 253.7,476.3 254.1,477.4 254.6,476.2 255,477.4 255.4,476.4 255.9,477.2 256.3,477.8 256.7,477.1 257.2,476.5 257.6,477 258,477.1 258.4,475.9 258.9,476.6 259.3,477.1 259.7,476.7 260.2,477 260.6,477.5 261,477.5 261.4,477.6 261.9,477.4 262.3,476.8 262.7,477 263.2,476.8 263.6,476.8 264,476.9 264.5,475.9 264.9,476.8 265.3,477 265.7,476.4 266.2,477 266.6,477.3 267,476.9 267.5,478.3 267.9,475.4 268.3,476.9 268.7,475.9 269.2,477.6 269.6,478.6 270,475.5 270.5,477.1 270.9,477.3 271.3,476.8 271.8,477.3 272.2,475.6 272.6,477.5 273,477.2 273.5,477 273.9,476.6 274.3,477.4 274.8,476.7 275.2,477.1 275.6,476.7 276.1,475.6 276.5,477 276.9,477.1 277.3,477.5 277.8,476.5 278.2,477 278.6,464 278.6,477.4 279,491 279.1,477.1 279.5,477.8 279.9,478.2 280.3,476.4 280.8,475.8 281.2,477.5 281.6,477.9 282.1,477.6 282.5,477.5 282.9,476.6 283.4,476.6 283.8,477.5 284.2,476.4 284.6,475.9 285.1,476.4 285.5,478.5 285.9,478.2 286.4,476.6 286.8,476.6 287.2,477.1 287.6,476.5 288.1,477.8 288.5,477 288.9,476.3 289.4,477.8 289.8,476.6 290.2,477.1 290.7,477 291.1,476.8 291.5,477.2 291.9,476.6 292.4,475.9 292.8,475.7 293.2,476.2 293.7,476.5 294.1,477 294.5,477 294.9,477.3 295.4,477.1 295.8,476.5 296.2,476.6 296.7,475.7 297.1,476.9 297.5,477.3 298,477.3 298.4,476.9 298.8,476.9 299.2,477.6 299.7,477 300.1,477.4 300.5,477.4 301,477.1 301.4,477.8 301.8,476.7 302.2,476.8 302.7,476.5 303.1,476.5 303.5,477.9 304,478.1 304.4,477 304.8,477.3 305.3,477.7 305.7,477.5 306.1,477.7 306.5,476.2 307,476.6 307.4,477.3 307.8,477.9 308.3,477.1 308.7,476.5 309.1,476.8 309.6,476.6 310,476.5 310.4,477.9 310.8,476.6 311.3,477 311.7,478.3 312.1,477.7 312.6,477.2 313,476.6 313.4,477.2 313.8,478 314.3,477.4 314.7,477.8 315.1,477.1 315.6,477.3 316,476.9 316.4,477.3 316.9,477.8 317.3,453 317.3,476.1 317.6,491 317.7,477 318.1,477.1 318.6,476.7 319,476.8 319.4,477.5 319.9,478.2 320.3,477.4 320.7,477.2 321.1,476.1 321.6,478.2 322,477 322.4,477 322.9,476.3 323.3,477 323.7,476.3 324.2,477 324.6,477.3 325,477 325.4,477.2 325.9,476.5 326.3,477.9 326.7,476.6 327.2,475.9 327.6,476.9 328,476.5 328.4,476.4 328.9,476.8 329.1,459 329.3,477.2 329.5,502 329.7,476.3 330.2,476.9 330.6,477.9 331,477.4 331.5,476.9 331.9,477.1 332.3,476.9 332.7,477 333.2,477.4 333.6,476.9 334,475.5 334.5,477 334.9,476.5 335.3,477.4 335.8,476.6 336.2,477.1 336.6,478.3 337,476.4 337.5,476.3 337.9,476.1 338.3,475.6 338.8,475.9 339.2,477.2 339.6,476.6 340,475.9 340.5,476.1 340.9,477.4 341.3,476.5 341.8,476.8 342.2,477.2 342.6,477.8 343.1,478.2 343.5,477.6 343.9,477.1 344.3,477.1 344.8,478.1 345.2,477.9 345.6,476.8 346.1,477.3 346.5,477.2 346.9,477 347.3,476.7 347.8,476.2 348.2,476.7 348.6,476.1 349.1,477.7 349.5,477.3 349.9,476.3 350.4,477.8 350.8,477.5 351.2,475.8 351.6,478.1 352.1,477.5 352.5,478.2 352.9,476.3 353.4,477.3 353.8,477.3 354.2,477.1 354.6,477.1 355.1,477.6 355.5,476.1 355.9,476.2 356.4,476.2 356.8,476.7 357.2,476.6 357.7,477.2 358.1,477.2 358.5,477 358.9,476.6 359.4,476.7 359.8,477.6 360.2,477.5 360.7,477.1 361.1,476.8 361.5,477.9 362,476.6 362.4,477.4 362.8,477.7 363.2,476.8 363.7,477.5 364.1,476.3 364.5,477.6 365,477.1 365.4,476 365.8,477.4 366.2,476.5 366.7,477.8 367.1,476.6 367.5,476.9 368,477.2 368.4,476.8 368.8,477.2 369.3,476.7 369.7,477.4 370.1,477 370.5,477.1 371,475.3 371.4,477.7 371.8,460 371.8,477 372.2,516 372.3,475.9 372.7,477.1 373.1,477.3 373.5,477.6 374,476.3 374.4,477.9 374.8,476.9 375.3,478.4 375.7,476.9 376.1,477.4 376.6,476.8 377,476.3 377.4,477.7 377.8,477.5 378.3,477.9 378.7,477.5 379.1,476.7 379.6,476 380,476.6 380.4,476.6 380.8,476.5 381.3,477.4 381.7,477.2 382.1,476.8 382.6,477.1 383,476.9 383.4,477.1 383.9,477.5 384.3,477.6 384.7,476.6 385.1,476.1 385.6,477.9 386,477.1 386.4,477.7 386.9,476 387.3,476.8 387.7,477 388.1,476.1 388.6,476.7 389,477.4 389.4,477.7 389.9,478 390.3,476.5 390.7,476.2 391.2,477.3 391.6,477.6 392,477.1 392.4,476.2 392.9,477.5 393.3,477.5 393.7,477.3 394.2,476.7 394.6,477.2 395,477.5 395.5,476.7 395.9,475.9 396.3,477.2 396.7,477.3 397.2,477 397.6,477.5 398,476.6 398.5,477 398.9,476.8 399.3,477.3 399.7,478 400.2,476.8 400.6,478.2 400.6,468 400.9,484 401,477.9 401.5,477.5 401.9,477.4 402.3,478.1 402.8,476.9 403.2,476.9 403.6,476.4 404,477.3 404.5,477.8 404.9,477.3 405.3,477.3 405.8,476.9 406.2,477.1 406.6,476.1 407,477.6 407.5,476.8 407.9,476.3 408.3,476.5 408.8,476.5 409.2,477.5 409.6,477.6 409.7,471 410.1,476.2 410.1,480 410.5,477.6 410.9,477.5 411.3,476.6 411.8,476.1 412.2,476.5 412.6,476.6 413.1,477.2 413.5,476.8 413.9,475.8 414.3,477.1 414.8,476.1 415.2,477.5 415.6,476.3 416.1,476.6 416.5,476.5 416.9,476.7 417.4,477.8 417.8,477.5 418.2,477.4 418.6,477.2 419.1,476.1 419.5,476.7 419.9,476.7 420.4,476.4 420.8,477.3 421.2,476.6 421.7,476.6 422.1,476.4 422.5,475.8 422.9,477.4 423.4,477.8 423.8,477.1 424.2,476.4 424.7,475.4 425.1,477.1 425.5,477.7 425.9,477.2 426.4,477.6 426.8,477.9 427.2,477.7 427.7,476.7 428.1,477.6 428.5,477.5 429,476.1 429.4,476.8 429.8,476.1 430.2,476.9 430.7,477.3 431.1,476.4 431.5,475.8 432,477.8 432.4,477.2 432.8,477.9 433.2,476.2 433.7,477.6 434.1,478.3 434.5,478.2 435,476.9 435.4,477.2 435.8,476.9 436.3,477.6 436.7,477.6 437.1,477.1 437.5,476.2 438,477.4 438.4,476.7 438.8,477.4 439.3,477.2 439.7,478 440.1,477.7 440.5,476.7 441,477.2 441.4,478.1 441.8,476.7 442.3,477.3 442.7,477.7 443.1,477.8 443.6,477.3 444,476.2 444.4,476.2 444.8,477.1 445.1,450 445.3,477.2 445.4,487 445.7,478.5 446.1,476.5 446.6,477.7 447,477.5 447.4,476 447.8,476.5 448.3,477.1 448.7,476.7 449.1,476.9 449.6,477.3 450,476.5 450.4,477.3 450.9,476.6 451.3,476.7 451.7,477.3 452.1,476.7 452.6,477.2 453,478 453.4,477 453.9,476.9 454.3,477.4 454.7,476.8 455.2,477.7 455.6,476.2 456,477.4 456.4,476.7 456.9,476.5 457.3,478.1 457.7,476.5 458.2,478.1 458.6,477.4 459,477.9 459.4,476.4 459.9,477.7 460.3,477.9 460.7,476.9 461.2,476.9 461.6,478.5 462,477.1 462.5,476.7 462.9,476.6 463.3,477.3 463.7,477.2 464.2,477.1 464.6,478 465,476.8 465.5,477.3 465.9,477.9 466.3,476.4 466.7,477.6 467.2,478.1 467.6,476.2 468,476.3 468.5,476.4 468.9,475.9 469.3,477.3 469.3,447 469.7,491 469.8,475.9 470.2,477.3 470.6,477.9 471,476 471.5,476.8 471.9,475.8 472.3,477.5 472.8,476.6 473.2,476.8 473.6,477 474,477.3 474.5,476.8 474.9,477 475.3,476.7 475.8,477.1 476.2,476.3 476.6,477 477.1,475.8 477.5,476.7 477.9,478.2 478.3,477 478.8,476.2 479.2,477.2 479.6,476.4 480.1,476 480.5,476.6 480.9,477.4 481.4,477.2 481.8,476.9 482.2,476.4 482.6,476.3 483.1,477.8 483.5,477.1 483.9,476.4 484.4,475.7 484.8,476.2 485.2,478.5 485.6,476.3 486.1,477 486.5,477.1 486.9,476.9 487.4,476.8 487.8,476.2 488.2,476.4 488.7,478 489.1,476.5 489.5,477.5 489.9,476 490.4,476.8 490.8,477.2 491.2,477.6 491.7,476.3 492.1,477.4 492.5,477.2 492.9,476.6 493.4,477.3 493.8,476.5 494.2,476.5 494.7,477 495.1,475.4 495.5,476.9 496,476.4 496.4,476.1 496.8,476.7 497.2,477.5 497.7,476.8 498.1,477.8 498.5,476.3 499,476.2 499.4,477.9 499.8,477.2 500.2,477.6 500.7,476.5 501.1,477.5 501.5,477.2 502,477.4 502.4,477 502.8,477.7 503.3,476.6 503.7,476.4 504.1,476.1 504.5,477.7 505,476.6 505.4,476.4 505.8,476.4 506.3,476.7 506.7,476.2 507.1,476.8 507.6,476.6 508,476.7 508.4,476.4 508.4,450 508.8,493 508.8,477 509.3,476.7 509.7,477.1 510.1,477.2 510.6,477.2 511,475.7 511.4,476.7 511.8,476.5 512.3,477.5 512.7,476 513.1,476.6 513.6,476.8 514,476.8 514.4,477.6 514.9,476.7 515.3,477.6 515.7,476.1 516.1,475.9 516.6,477.7 517,477.3 517.4,477.3 517.9,477.1 518.3,477.3 518.7,476.3 519.1,477.6 519.6,476.7 520,477.6 520.4,477.1 520.9,475.8 521.3,476.2 521.7,477.7 522.2,476.9 522.6,476.8 523,477.1 523.4,476.7 523.9,476.7 524.3,477.1 524.7,477.1 525.2,477.9 525.6,477 526,478.1 526.4,478.1 526.9,478 527.3,477.6 527.7,477.1 528.2,477.1 528.6,476.9 529,476.6 529.5,477 529.9,476.6 530.3,478 530.7,477.3 530.7,475 531.1,479 531.2,476.7 531.6,475.8 532,477 532.5,476.7 532.9,476.3 533.3,476.3 533.7,475.6 534.2,477.3 534.6,477 535,478.6 535.5,477 535.9,476.9 536.3,477.9 536.8,477.1 537.2,477.1 537.6,476.8 538,476.6 538,474 538.4,479 538.5,477.9 538.9,477.6 539.3,478 539.8,476.8 540.2,477 540.6,476.5 541.1,477.6 541.5,476.2 541.9,477.3 542.3,477.7 542.8,477.9 543.2,476.4 543.6,477.7 544.1,476.6 544.5,476.5 544.9,476.2 545.3,477.7 545.8,478 546.2,476.6 546.6,476.5 547.1,476.8 547.5,478.5 547.9,477.6 548.4,476.7 548.8,475.9 549.2,476.6 549.6,477.7 550.1,478.1 550.5,476.8 550.9,476.6 551.4,476.7 551.8,475.9 552.2,477.5 552.6,476.3 553.1,477.6 553.5,476 553.9,476.2 554.4,477.2 554.8,476.5 555.2,477.5 555.7,477 556.1,476.3 556.5,477.4 556.9,477.5 557.4,475.8 557.8,478.1 558.2,477.3 558.7,477.5 559.1,475.9 559.5,476.6 559.9,476.8 560.4,477.7 560.8,476.1 561.2,476.5 561.7,475.8 562.1,476.9 562.5,477.2 563,476 563.4,476.6 563.8,477.3 564.2,478 564.7,477.4 565.1,476.8 565.5,476.3 566,476.4 566.3,476 566.4,476.6 566.6,478 566.8,477.1 567.3,477 567.7,478 568.1,477.2 568.5,476.4 569,477.9 569.4,477.6 569.8,477.1 570.3,476.6 570.7,475.9 571.1,476.4 571.5,477.6 572,476.5 572.4,476.2 572.8,477.1 573.3,477.1 573.7,477.4 574.1,477.4 574.6,477.9 575,476.5 575.4,477.6 575.8,476.4 576.3,477.4 576.7,477.1 577.1,477.1 577.6,477.6 578,477 578.4,477.7 578.8,477.5 579.3,477.1 579.7,476.7 580.1,476.5 580.6,476.7 581,476.9 581.4,477 581.9,478.8 582.3,477.4 582.7,477.5 583.1,476.5 583.6,476.6 584,476.8 584.4,477.1 584.9,476.4 585.3,478 585.7,476.7 586.1,477.7 586.5,474 586.6,475.6 586.8,479 587,477 587.4,477.2 587.9,477.1 588.3,477.4 588.7,477.2 589.2,477.1 589.6,475.9 590,476.6 590.4,475.6 590.9,477.4 591.3,477.2 591.7,476.9 592.2,476.5 592.6,476.6 593,478.1 593.5,478 593.7,450 593.9,477 594.1,481 594.3,477.8 594.7,476 595.2,475.8 595.6,476.7 596,476.5 596.5,476.7 596.9,477.1 597.3,478.8 597.7,476.6 598.2,477 598.6,477.2 599,477 599.5,477.6 599.9,478.1 600.3,476.2 600.8,477.1 601.2,476.8 601.6,477.2 602,476.1 602.5,475.9 602.9,475.6 603.3,477.3 603.8,477.1 604.2,477 604.6,475.6 605,476.8 605.5,476.5 605.9,476.1 606.3,476.4 606.8,477.4 607.2,477.3 607.6,477 608.1,477.3 608.5,476.6 608.9,477 609.3,477 609.8,477.3 610.2,477 610.6,476.9 611.1,476.9 611.5,476.6 611.9,478.4 612.3,477.3 612.8,477.3 613.2,478.4 613.6,477.8 614.1,476.1 614.5,477.4 614.9,477.5 615.4,478.1 615.8,477.8 616.2,477.5 616.6,476.3 617.1,476.5 617.5,477.2 617.9,477.3 618.4,476.4 618.8,476.8 619.2,476.8 619.6,477 619.9,471 620.1,477.2 620.3,480 620.5,476.8 620.9,476.3 621.4,477.8 621.8,478 622.2,476.9 622.7,477.6 623.1,477.3 623.5,477.4 623.9,477.3 624.4,476.5 624.8,477.3 625.2,477.6 625.7,476.5 626.1,478.2 626.5,478.3 627,478.1 627.4,478.2 627.8,477.4 628.2,476.8 628.7,476.6 629.1,476.5 629.5,477.1 630,477 630.4,477.4 630.8,475.8 631.2,478.4 631.7,478.4 632.1,477 632.5,477.4 633,477.3 633.4,477.2 633.8,476.9 634.3,476.9 634.7,476.5 635.1,477.1 635.5,477 636,477.2 636.4,476.5 636.8,477 637.3,477 637.7,477.4 638.1,476.4 638.5,477.3 639,477.6 639.3,472 639.4,477.4 639.7,479 639.8,476.8 640.3,476.7 640.7,476.9 641.1,477.4 641.6,477.9 642,476.9 642.4,476.6 642.8,477.2 643.3,477.1 643.7,476.5 644.1,476.6 644.6,476.9 645,477.4 645.4,476.3 645.8,476.4 645.9,475 646.3,477.3 646.3,479 646.7,476.3 647.1,477.1 647.6,477.2 648,476.9 648.4,476.4 648.9,477 649.3,476.8 649.7,477.2 650.1,476.5 650.6,477.7 651,476 651.4,476.9 651.9,477 652.3,477.6 652.7,476.6 653.2,477.3 653.6,476.7 654,477.4 654.4,478.1 654.9,476.8 655.3,477.3 655.7,476.4 656.2,477.6 656.6,477.7 657,477 657.4,476.3 657.9,477.2 658.3,477.7 658.7,477.7 659.2,477.5 659.6,475.9 660,476.6 660.5,477.9 660.9,476.3 661.3,477.7 661.7,478.1 662.2,477.5 662.6,477.7 663,476.8 663.5,476.3 663.9,476.9 664.3,476.9 664.7,477 665.2,477.4 665.6,476.9 666,477.1 666.5,477.3 666.9,477 667.3,478.1 667.8,477.3 668.2,477.1 668.6,476.9 669,476.6 669.5,477.8 669.9,477.1 670.3,476.3 670.8,476.7 671.2,476.9 671.4,471 671.6,476.7 671.7,489 672,477.7 672.5,476.3 672.9,477.3 673.3,477.1 673.8,476.3 674.2,477 674.6,476.9 675.1,477.3 675.5,476.7 675.9,477.2 676.3,476 676.8,476.3 677.2,477.5 677.6,477.6 678.1,477 678.5,476.6 678.9,477.7 679.4,475.7 679.8,476.5 680.2,477.4 680.6,477.4 681.1,476.4 681.5,475.9 681.9,477.9 682.4,477.1 682.8,476.5 683.2,477 683.6,477.5 684.1,475.4 684.5,477.7 684.9,477.4 685.4,475.7 685.8,477.5 686.2,475.9 686.7,477.7 687.1,477.2 687.5,478.4 687.9,476.6 688.4,477 688.8,477.6 689.2,476.6 689.7,476.6 690,470 690.1,476.8 690.3,487 690.5,477 690.9,476.3 691.4,477.3 691.8,477.3 692.2,477 692.7,478 693.1,476.8 693.5,477.8 694,476.7 694.4,477.5 694.8,475.8 695.2,477.1 695.7,476.9 696.1,476.7 696.5,476.6 697,476.8 697.4,476.6 697.8,475.7 698.2,476.6 698.7,476.7 699.1,476.7 699.5,476.4 700,476.9 700.4,477.5 700.8,476.8 701.3,476.7 701.7,477.8 702.1,477.6 702.5,477.6 703,477.7 703.4,476.8 703.8,476.9 704.3,477.7 704.7,476.7 705.1,476.9 705.5,477.2 706,477.2 706.4,476.8 706.8,477.6 707.3,476.9 707.7,477.4 708.1,477.6 708.6,477.4 709,477.4 709.4,476.3 709.8,476.2 710.3,476.6 710.7,477.3 711.1,477.9 711.6,476.3 712,477.2 712.4,476.5 712.9,476.6 713.3,476.8 713.7,477.4 714.1,477.1 714.6,477.7 715,476.4 715.4,477.5 715.9,477.6 716.3,477 716.7,477.3 717.1,476.7 717.6,476.3 718,476.8 718.4,476.6 718.9,478.7 719.3,476.7 719.7,478 720.2,477.1 720.6,477.2 720.6,469 720.9,498 721,477.4 721.4,476.5 721.9,477.6 722.3,477.2 722.7,476.1 723.2,477.4 723.6,477.3 724,477.3 724.4,478 724.9,476.7 725.3,477.3 725.7,477.5 726.2,476.5 726.6,477.7 727,476.1 727.5,476.2 727.9,477.3 728.3,476.3 728.7,476.9 729.2,476 729.6,477 730,476.3 730.5,477.2 730.9,476.1 731.3,477.3 731.7,476.8 732.2,477 732.6,477 733,477.1 733.5,476.2 733.9,475.4 734.3,477 734.8,476.4 735.2,476.7 735.6,477.3 736,475.8 736.5,476.5 736.9,476.6 737.3,476.4 737.8,477.2 738.2,476.9 738.5,473 738.6,476.5 738.9,481 739.1,476.4 739.5,477.5 739.9,476.6 740.3,477.4 740.8,477.3 741.2,475.9 741.6,476.3 742.1,477 742.5,477.2 742.9,477.5 743.3,477.5 743.8,477.6 744.2,476.8 744.6,476.9 744.9,475 745.1,477.5 745.2,479 745.5,476.7 745.9,477.6 746.4,476 746.8,477.4 747.2,476.9 747.6,475.8 748.1,477.6 748.5,477.2 748.9,477 749.4,476.3 749.8,476.7 750.2,477.9 750.6,476.5 751.1,474.9 751.5,476.5 751.9,476.3 752.4,476.9 752.8,476.8 753.2,476.4 753.7,476.5 754.1,477.6 754.5,476.1 754.9,478.2 755.4,476.7 755.8,476.3 756.2,477.5 756.7,477.3 757.1,476.4 757.5,477.5 757.9,475.9 758.4,476.4 758.8,477.7 759.2,476.8 759.7,476.2 760.1,477.3 760.5,477.6 761,477 761.4,475.9 761.8,476.8 762.2,477.3 762.7,477.5 763.1,478.1 763.5,476.8 764,476.7 764.4,477 764.8,477.7 765.3,476.4 765.7,477.8 766.1,475.3 766.5,477.5 767,476.6 767.4,477.3 767.8,477.4 768.3,476.3 768.7,476.9 768.9,470 769.1,477.1 769.2,490 769.5,477.4 770,476.4 770.4,476.4 770.8,475.8 771.3,478.5 771.7,476.9 772.1,476.9 772.6,476.1 773,477.6 773.4,476.7 773.8,477.9 774.3,477.5 774.7,477 775.1,477.4 775.6,476.3 776,476.8 776.4,476.7 776.8,476.2 777.3,477 777.7,476.9 778.1,477.9 778.6,475 779,476.6 779.4,476.4 779.9,476.7 780.3,477.3 780.7,477.2 781.1,477 781.6,476.7 782,477.3 782.4,477.2 782.9,475.9 783.3,476.8 783.7,476.2 784.1,476.3 784.6,477.1 785,477 785.4,477.1 785.9,476.5 786.3,476.9 786.6,474 786.7,476.4 786.9,479 787.2,477.2 787.6,477.4 788,478.1 788.4,477.8 788.9,476.5 789.3,476.7 789.7,476.4 790.2,477.2 790.6,478.2 791,477.4 791.4,475.7 791.9,476.2 792.3,476.2 792.7,477.3 793,462 793.2,477 793.3,482 793.6,477.2 794,478.1 794.5,476.5 794.9,476.5 795.3,478.2 795.7,477.2 796.2,476.5 796.6,475.8 797,476.1 797.5,475.5 797.9,477 798.3,477 798.8,477.6 799.2,476.9 799.6,476.6 800,476.6 800.5,478.2 800.9,475.9 801.3,477.1 801.8,477 802.2,477.4 802.6,476.8 803,477.3 803.5,477.5 803.9,476.9 804.3,476.7 804.8,476.9 805.2,476.4 805.6,476.9 806.1,476.8 806.5,477.1 806.9,477.8 807.3,477.8 807.8,476.7 808.2,477.4 808.6,477.2 809.1,477.5 809.5,477 809.9,477.2 810.3,476.7 810.8,476.5 811.2,477.5 811.6,477.8 812.1,477.4 812.5,477.3 812.9,477.2 813.4,476.7 813.8,475.9 814.2,477.4 814.6,477.1 815.1,476.7 815.5,476.4 815.9,477.8 816.3,449 816.4,475.9 816.6,483 816.8,478.1 817.2,477.4 817.6,478.4 818.1,476.6 818.5,477 818.9,476.7 819.4,477.1 819.8,476.9 820.2,476.5 820.7,477.7 821.1,476.5 821.5,476.7 821.9,477.3 822.4,476.7 822.8,476.7 823.2,477.2 823.7,476.8 824.1,476.2 824.5,476.9 825,476.9 825.4,478 825.8,476.3 826.2,477.6 826.7,476.5 827.1,476.8 827.5,476.8 828,477.2 828.4,477.5 828.8,478.1 829.2,476.6 829.7,477.8 830.1,477.6 830.5,477.5 831,476.5 831.4,477.5 831.8,476.9 832.3,477.2 832.7,476.8 833.1,477.4 833.5,477.7 834,477.7 834.4,476.9" fill="none" stroke="#0a7a0a" stroke-width="1.5"/>
<path d="M147.2,523.3V506.8M147.2,2.5V19M164.4,523.3V514.8M164.4,2.5V11M181.6,523.3V514.8M181.6,2.5V11M198.7,523.3V514.8M198.7,2.5V11M215.9,523.3V514.8M215.9,2.5V11M233.1,523.3V506.8M233.1,2.5V19M250.3,523.3V514.8M250.3,2.5V11M267.5,523.3V514.8M267.5,2.5V11M284.6,523.3V514.8M284.6,2.5V11M301.8,523.3V514.8M301.8,2.5V11M319,523.3V506.8M319,2.5V19M336.2,523.3V514.8M336.2,2.5V11M353.4,523.3V514.8M353.4,2.5V11M370.5,523.3V514.8M370.5,2.5V11M387.7,523.3V514.8M387.7,2.5V11M404.9,523.3V506.8M404.9,2.5V19M422.1,523.3V514.8M422.1,2.5V11M439.3,523.3V514.8M439.3,2.5V11M456.4,523.3V514.8M456.4,2.5V11M473.6,523.3V514.8M473.6,2.5V11M490.8,523.3V506.8M490.8,2.5V19M508,523.3V514.8M508,2.5V11M525.2,523.3V514.8M525.2,2.5V11M542.3,523.3V514.8M542.3,2.5V11M559.5,523.3V514.8M559.5,2.5V11M576.7,523.3V506.8M576.7,2.5V19M593.9,523.3V514.8M593.9,2.5V11M611.1,523.3V514.8M611.1,2.5V11M628.2,523.3V514.8M628.2,2.5V11M645.4,523.3V514.8M645.4,2.5V11M662.6,523.3V506.8M662.6,2.5V19M679.8,523.3V514.8M679.8,2.5V11M697,523.3V514.8M697,2.5V11M714.1,523.3V514.8M714.1,2.5V11M731.3,523.3V514.8M731.3,2.5V11M748.5,523.3V506.8M748.5,2.5V19M765.7,523.3V514.8M765.7,2.5V11M782.9,523.3V514.8M782.9,2.5V11M800,523.3V514.8M800,2.5V11M817.2,523.3V514.8M817.2,2.5V11M834.4,523.3V506.8M834.4,2.5V19M147.2,507.5H163.7M834.4,507.5H817.9M147.2,466.8H155.7M834.4,466.8H825.9M147.2,426H163.7M834.4,426H817.9M147.2,385.2H155.7M834.4,385.2H825.9M147.2,344.5H163.7M834.4,344.5H817.9M147.2,303.8H155.7M834.4,303.8H825.9M147.2,263H163.7M834.4,263H817.9M147.2,222.2H155.7M834.4,222.2H825.9M147.2,181.5H163.7M834.4,181.5H817.9M147.2,140.8H155.7M834.4,140.8H825.9M147.2,100H163.7M834.4,100H817.9M147.2,59.2H155.7M834.4,59.2H825.9M147.2,18.5H163.7M834.4,18.5H817.9" stroke="#000" stroke-width="3"/>
<rect x="147.2" y="2.5" width="687.2" height="520.8" fill="none" stroke="#000" stroke-width="3"/>
<text transform="translate(130.2,437.2) scale(1,1.05)" text-anchor="end" font-size="36">0</text>
<text transform="translate(130.2,355.7) scale(1,1.05)" text-anchor="end" font-size="36">500</text>
<text transform="translate(130.2,274.2) scale(1,1.05)" text-anchor="end" font-size="36">1000</text>
<text transform="translate(130.2,192.7) scale(1,1.05)" text-anchor="end" font-size="36">1500</text>
<text transform="translate(130.2,111.2) scale(1,1.05)" text-anchor="end" font-size="36">2000</text>
<text transform="translate(130.2,29.7) scale(1,1.05)" text-anchor="end" font-size="36">2500</text>
<text transform="translate(148,569.8) scale(1,1.05)" text-anchor="middle" font-size="35">10</text>
<text transform="translate(233.9,569.8) scale(1,1.05)" text-anchor="middle" font-size="35">20</text>
<text transform="translate(319.8,569.8) scale(1,1.05)" text-anchor="middle" font-size="35">30</text>
<text transform="translate(405.7,569.8) scale(1,1.05)" text-anchor="middle" font-size="35">40</text>
<text transform="translate(491.6,569.8) scale(1,1.05)" text-anchor="middle" font-size="35">50</text>
<text transform="translate(577.5,569.8) scale(1,1.05)" text-anchor="middle" font-size="35">60</text>
<text transform="translate(663.4,569.8) scale(1,1.05)" text-anchor="middle" font-size="35">70</text>
<text transform="translate(749.3,569.8) scale(1,1.05)" text-anchor="middle" font-size="35">80</text>
<text transform="translate(835.2,569.8) scale(1,1.05)" text-anchor="middle" font-size="35">90</text>
<text x="180" y="52.5" font-size="36">a)</text>
<text transform="translate(34.5,261) rotate(-90)" text-anchor="middle" font-size="43.6">Intensity (arb. units)</text>
<text x="439" y="640.5" font-size="41">2</text><text x="462" y="640.5" font-size="44" font-family="Liberation Serif">θ</text><text x="494" y="640.5" font-size="41">(</text><text x="507.5" y="626" font-size="27">o</text><text x="527" y="640.5" font-size="41">)</text>
</g>
<g id="pb">
<line x1="1003" y1="491" x2="1445" y2="14.5" stroke="#c0c0c0" stroke-width="4.6" stroke-linecap="round" stroke-dasharray="27.5,36.3"/>
<circle cx="1012.5" cy="479.8" r="7.4" fill="#fff" stroke="#000" stroke-width="2"/>
<circle cx="1034.3" cy="457.9" r="7.4" fill="#fff" stroke="#000" stroke-width="2"/>
<circle cx="1082.6" cy="394.4" r="7.4" fill="#fff" stroke="#000" stroke-width="2"/>
<circle cx="1149.5" cy="334.6" r="7.4" fill="#fff" stroke="#000" stroke-width="2"/>
<circle cx="1207.9" cy="258.8" r="7.4" fill="#fff" stroke="#000" stroke-width="2"/>
<circle cx="1272.2" cy="183.1" r="7.4" fill="#fff" stroke="#000" stroke-width="2"/>
<circle cx="1324.2" cy="131.7" r="7.4" fill="#fff" stroke="#000" stroke-width="2"/>
<circle cx="1385.3" cy="85.4" r="7.4" fill="#fff" stroke="#000" stroke-width="2"/>
<circle cx="1437.3" cy="26.7" r="7.4" fill="#fff" stroke="#000" stroke-width="2"/>
<circle cx="1012.5" cy="479.8" r="5.9" fill="#f00"/>
<circle cx="1033.7" cy="457.9" r="5.9" fill="#f00"/>
<circle cx="1079.4" cy="394.4" r="5.9" fill="#f00"/>
<circle cx="1135.7" cy="334.6" r="5.9" fill="#f00"/>
<circle cx="1214.3" cy="258.8" r="5.9" fill="#f00"/>
<circle cx="1272.2" cy="183.1" r="5.9" fill="#f00"/>
<circle cx="1321" cy="131.7" r="5.9" fill="#f00"/>
<circle cx="1380" cy="85.4" r="5.9" fill="#f00"/>
<circle cx="1437.3" cy="26.7" r="5.9" fill="#f00"/>
<path d="M1012.5,526.4V509.9M1012.5,3.3V19.8M1039,526.4V517.9M1039,3.3V11.8M1065.6,526.4V509.9M1065.6,3.3V19.8M1092.2,526.4V517.9M1092.2,3.3V11.8M1118.7,526.4V509.9M1118.7,3.3V19.8M1145.2,526.4V517.9M1145.2,3.3V11.8M1171.8,526.4V509.9M1171.8,3.3V19.8M1198.3,526.4V517.9M1198.3,3.3V11.8M1224.9,526.4V509.9M1224.9,3.3V19.8M1251.5,526.4V517.9M1251.5,3.3V11.8M1278,526.4V509.9M1278,3.3V19.8M1304.5,526.4V517.9M1304.5,3.3V11.8M1331.1,526.4V509.9M1331.1,3.3V19.8M1357.7,526.4V517.9M1357.7,3.3V11.8M1384.2,526.4V509.9M1384.2,3.3V19.8M1410.8,526.4V517.9M1410.8,3.3V11.8M1437.3,526.4V509.9M1437.3,3.3V19.8M1002.4,526H1018.9M1447.8,526H1431.3M1002.4,478.4H1010.9M1447.8,478.4H1439.3M1002.4,430.9H1018.9M1447.8,430.9H1431.3M1002.4,383.3H1010.9M1447.8,383.3H1439.3M1002.4,335.8H1018.9M1447.8,335.8H1431.3M1002.4,288.2H1010.9M1447.8,288.2H1439.3M1002.4,240.7H1018.9M1447.8,240.7H1431.3M1002.4,193.2H1010.9M1447.8,193.2H1439.3M1002.4,145.6H1018.9M1447.8,145.6H1431.3M1002.4,98.1H1010.9M1447.8,98.1H1439.3M1002.4,50.5H1018.9M1447.8,50.5H1431.3M1002.4,2.9H1010.9M1447.8,2.9H1439.3" stroke="#000" stroke-width="3"/>
<rect x="1002.4" y="3.3" width="445.4" height="523.1" fill="none" stroke="#000" stroke-width="3"/>
<text transform="translate(985.5,537.2) scale(1,1.05)" text-anchor="end" font-size="36">9.6</text>
<text transform="translate(985.5,442.1) scale(1,1.05)" text-anchor="end" font-size="36">9.7</text>
<text transform="translate(985.5,347) scale(1,1.05)" text-anchor="end" font-size="36">9.8</text>
<text transform="translate(985.5,251.9) scale(1,1.05)" text-anchor="end" font-size="36">9.9</text>
<text transform="translate(985.5,156.8) scale(1,1.05)" text-anchor="end" font-size="36">10.0</text>
<text transform="translate(985.5,61.7) scale(1,1.05)" text-anchor="end" font-size="36">10.1</text>
<text transform="translate(1012.5,571.8) scale(1,1.05)" text-anchor="middle" font-size="35">0</text>
<text transform="translate(1065.6,571.8) scale(1,1.05)" text-anchor="middle" font-size="35">1</text>
<text transform="translate(1118.7,571.8) scale(1,1.05)" text-anchor="middle" font-size="35">2</text>
<text transform="translate(1171.8,571.8) scale(1,1.05)" text-anchor="middle" font-size="35">3</text>
<text transform="translate(1224.9,571.8) scale(1,1.05)" text-anchor="middle" font-size="35">4</text>
<text transform="translate(1278,571.8) scale(1,1.05)" text-anchor="middle" font-size="35">5</text>
<text transform="translate(1331.1,571.8) scale(1,1.05)" text-anchor="middle" font-size="35">6</text>
<text transform="translate(1384.2,571.8) scale(1,1.05)" text-anchor="middle" font-size="35">7</text>
<text transform="translate(1437.3,571.8) scale(1,1.05)" text-anchor="middle" font-size="35">8</text>
<text x="1047" y="54.5" font-size="36">b)</text>
<text transform="translate(913,263) rotate(-90)" text-anchor="middle" font-size="43.6">Lattice Parameter (Å)</text>
<text x="1225" y="638.5" text-anchor="middle" font-size="44.5">y</text>
</g>
<g id="pc">
<polygon points="260.9,1238.2 359.8,1254.8 408.1,1385.1" fill="#69da44" fill-opacity="0.5"/>
<polygon points="260.9,1238.2 408.1,1385.1 222.4,1402.3" fill="#69da44" fill-opacity="0.5"/>
<g opacity="0.9"><line x1="267.6" y1="1098.7" x2="261.5" y2="1035.5" stroke="#ee1111" stroke-width="2.6"/><line x1="261.5" y1="1035.5" x2="255.5" y2="972.3" stroke="#f0e040" stroke-width="2.6"/><line x1="267.6" y1="1098.7" x2="259.7" y2="1032.6" stroke="#ee1111" stroke-width="2.6"/><line x1="259.7" y1="1032.6" x2="251.8" y2="966.5" stroke="#f07820" stroke-width="2.6"/><line x1="267.6" y1="1098.7" x2="330" y2="1103.8" stroke="#ee1111" stroke-width="2.6"/><line x1="330" y1="1103.8" x2="392.4" y2="1108.9" stroke="#f0e040" stroke-width="2.6"/><line x1="267.6" y1="1098.7" x2="333.3" y2="1106.1" stroke="#ee1111" stroke-width="2.6"/><line x1="333.3" y1="1106.1" x2="399" y2="1113.5" stroke="#f07820" stroke-width="2.6"/><line x1="267.6" y1="1098.7" x2="243.6" y2="1111.8" stroke="#ee1111" stroke-width="2.6"/><line x1="243.6" y1="1111.8" x2="219.7" y2="1124.9" stroke="#f0e040" stroke-width="2.6"/><line x1="267.6" y1="1098.7" x2="240.5" y2="1114.7" stroke="#ee1111" stroke-width="2.6"/><line x1="240.5" y1="1114.7" x2="213.4" y2="1130.6" stroke="#f07820" stroke-width="2.6"/></g>
<circle cx="267.6" cy="1098.7" r="6" fill="url(#gV)"/>
<line x1="310.1" y1="1238.6" x2="310.5" y2="1252.2" stroke="#1c1c1c" stroke-width="2.2" stroke-linecap="round"/>
<line x1="309.6" y1="1225" x2="310.1" y2="1238.6" stroke="#1c1c1c" stroke-width="2.2" stroke-linecap="round"/>
<line x1="309.2" y1="1211.4" x2="309.6" y2="1225" stroke="#1c1c1c" stroke-width="2.2" stroke-linecap="round"/>
<line x1="308.7" y1="1197.9" x2="309.2" y2="1211.4" stroke="#1c1c1c" stroke-width="2.2" stroke-linecap="round"/>
<line x1="308.3" y1="1184.3" x2="308.7" y2="1197.9" stroke="#1c1c1c" stroke-width="2.2" stroke-linecap="round"/>
<line x1="307.8" y1="1170.7" x2="308.3" y2="1184.3" stroke="#1c1c1c" stroke-width="2.2" stroke-linecap="round"/>
<line x1="307.4" y1="1157.1" x2="307.8" y2="1170.7" stroke="#1c1c1c" stroke-width="2.2" stroke-linecap="round"/>
<line x1="306.9" y1="1143.5" x2="307.4" y2="1157.1" stroke="#1c1c1c" stroke-width="2.2" stroke-linecap="round"/>
<line x1="312.8" y1="1320.1" x2="325.9" y2="1320.1" stroke="#1c1c1c" stroke-width="2.2" stroke-linecap="round"/>
<line x1="325.9" y1="1320.1" x2="339.1" y2="1320.1" stroke="#1c1c1c" stroke-width="2.2" stroke-linecap="round"/>
<line x1="339.1" y1="1320.1" x2="352.2" y2="1320" stroke="#1c1c1c" stroke-width="2.2" stroke-linecap="round"/>
<line x1="352.2" y1="1320" x2="365.3" y2="1320" stroke="#1c1c1c" stroke-width="2.2" stroke-linecap="round"/>
<line x1="365.3" y1="1320" x2="378.4" y2="1320" stroke="#1c1c1c" stroke-width="2.2" stroke-linecap="round"/>
<line x1="292.8" y1="1327.9" x2="296.8" y2="1326.3" stroke="#1c1c1c" stroke-width="2.2" stroke-linecap="round"/>
<line x1="296.8" y1="1326.3" x2="300.8" y2="1324.8" stroke="#1c1c1c" stroke-width="2.2" stroke-linecap="round"/>
<line x1="300.8" y1="1324.8" x2="304.8" y2="1323.2" stroke="#1c1c1c" stroke-width="2.2" stroke-linecap="round"/>
<line x1="304.8" y1="1323.2" x2="308.8" y2="1321.7" stroke="#1c1c1c" stroke-width="2.2" stroke-linecap="round"/>
<line x1="308.8" y1="1321.7" x2="312.8" y2="1320.1" stroke="#1c1c1c" stroke-width="2.2" stroke-linecap="round"/>
<line x1="310.5" y1="1252.2" x2="311" y2="1265.8" stroke="#1c1c1c" stroke-width="2.2" stroke-linecap="round"/>
<line x1="311" y1="1265.8" x2="311.4" y2="1279.4" stroke="#1c1c1c" stroke-width="2.2" stroke-linecap="round"/>
<line x1="311.4" y1="1279.4" x2="311.9" y2="1292.9" stroke="#1c1c1c" stroke-width="2.2" stroke-linecap="round"/>
<line x1="311.9" y1="1292.9" x2="312.3" y2="1306.5" stroke="#1c1c1c" stroke-width="2.2" stroke-linecap="round"/>
<line x1="312.3" y1="1306.5" x2="312.8" y2="1320.1" stroke="#1c1c1c" stroke-width="2.2" stroke-linecap="round"/>
<polygon points="260.9,1238.2 359.8,1254.8 222.4,1402.3" fill="#c4fb8b" fill-opacity="0.7"/>
<polygon points="359.8,1254.8 408.1,1385.1 222.4,1402.3" fill="#65c458" fill-opacity="0.7"/>
<line x1="306.5" y1="1129.9" x2="306.9" y2="1143.5" stroke="#1c1c1c" stroke-width="2.2" stroke-linecap="round"/>
<line x1="378.4" y1="1320" x2="391.6" y2="1320" stroke="#1c1c1c" stroke-width="2.2" stroke-linecap="round"/>
<polygon points="260.9,1238.2 222.4,1402.3 320.2,1297.4" fill="#f4ffe0" fill-opacity="0.38"/>
<line x1="306" y1="1116.4" x2="306.5" y2="1129.9" stroke="#1c1c1c" stroke-width="2.2" stroke-linecap="round"/>
<circle cx="312.8" cy="1320.1" r="8" fill="url(#gGa)"/>
<line x1="391.6" y1="1320" x2="404.7" y2="1319.9" stroke="#1c1c1c" stroke-width="2.2" stroke-linecap="round"/>
<circle cx="260.9" cy="1238.2" r="5.4" fill="url(#gSe)"/>
<circle cx="408.1" cy="1385.1" r="5.4" fill="url(#gSe)"/>
<line x1="404.7" y1="1319.9" x2="417.8" y2="1319.9" stroke="#1c1c1c" stroke-width="2.2" stroke-linecap="round"/>
<g opacity="0.9"><line x1="539.1" y1="1369.9" x2="533.1" y2="1306.7" stroke="#ee1111" stroke-width="2.6"/><line x1="533.1" y1="1306.7" x2="527" y2="1243.4" stroke="#f0e040" stroke-width="2.6"/><line x1="539.1" y1="1369.9" x2="531.2" y2="1303.8" stroke="#ee1111" stroke-width="2.6"/><line x1="531.2" y1="1303.8" x2="523.4" y2="1237.7" stroke="#f07820" stroke-width="2.6"/><line x1="539.1" y1="1369.9" x2="601.5" y2="1375" stroke="#ee1111" stroke-width="2.6"/><line x1="601.5" y1="1375" x2="663.9" y2="1380.1" stroke="#f0e040" stroke-width="2.6"/><line x1="539.1" y1="1369.9" x2="604.8" y2="1377.3" stroke="#ee1111" stroke-width="2.6"/><line x1="604.8" y1="1377.3" x2="670.6" y2="1384.6" stroke="#f07820" stroke-width="2.6"/><line x1="539.1" y1="1369.9" x2="515.2" y2="1383" stroke="#ee1111" stroke-width="2.6"/><line x1="515.2" y1="1383" x2="491.3" y2="1396" stroke="#f0e040" stroke-width="2.6"/><line x1="539.1" y1="1369.9" x2="512" y2="1385.8" stroke="#ee1111" stroke-width="2.6"/><line x1="512" y1="1385.8" x2="484.9" y2="1401.8" stroke="#f07820" stroke-width="2.6"/></g>
<circle cx="539.1" cy="1369.9" r="6" fill="url(#gV)"/>
<line x1="417.8" y1="1319.9" x2="430.9" y2="1319.9" stroke="#1c1c1c" stroke-width="2.2" stroke-linecap="round"/>
<line x1="301.5" y1="980.5" x2="301.9" y2="994.1" stroke="#1c1c1c" stroke-width="2.2" stroke-linecap="round"/>
<line x1="301.9" y1="994.1" x2="302.4" y2="1007.7" stroke="#1c1c1c" stroke-width="2.2" stroke-linecap="round"/>
<line x1="302.4" y1="1007.7" x2="302.8" y2="1021.3" stroke="#1c1c1c" stroke-width="2.2" stroke-linecap="round"/>
<line x1="302.8" y1="1021.3" x2="303.3" y2="1034.9" stroke="#1c1c1c" stroke-width="2.2" stroke-linecap="round"/>
<line x1="303.3" y1="1034.9" x2="303.8" y2="1048.5" stroke="#1c1c1c" stroke-width="2.2" stroke-linecap="round"/>
<line x1="303.8" y1="1048.5" x2="304.2" y2="1062" stroke="#1c1c1c" stroke-width="2.2" stroke-linecap="round"/>
<line x1="304.2" y1="1062" x2="304.7" y2="1075.6" stroke="#1c1c1c" stroke-width="2.2" stroke-linecap="round"/>
<line x1="304.7" y1="1075.6" x2="305.1" y2="1089.2" stroke="#1c1c1c" stroke-width="2.2" stroke-linecap="round"/>
<line x1="305.1" y1="1089.2" x2="305.6" y2="1102.8" stroke="#1c1c1c" stroke-width="2.2" stroke-linecap="round"/>
<line x1="305.6" y1="1102.8" x2="306" y2="1116.4" stroke="#1c1c1c" stroke-width="2.2" stroke-linecap="round"/>
<polygon points="230.4,998.4 350.8,983.1 343.7,1111.5 213.4,1130.6" fill="#b4dfe4" fill-opacity="0.62"/>
<polygon points="350.8,983.1 373.3,985.2 399,1113.5 343.7,1111.5" fill="#b4dfe4" fill-opacity="0.62"/>
<polygon points="230.4,998.4 350.8,983.1 373.3,985.2 251.8,966.5" fill="#7bc1c3" fill-opacity="0.6"/>
<line x1="430.9" y1="1319.9" x2="444.1" y2="1319.8" stroke="#1c1c1c" stroke-width="2.2" stroke-linecap="round"/>
<line x1="301" y1="967" x2="301.5" y2="980.5" stroke="#1c1c1c" stroke-width="2.2" stroke-linecap="round"/>
<line x1="444.1" y1="1319.8" x2="457.2" y2="1319.8" stroke="#1c1c1c" stroke-width="2.2" stroke-linecap="round"/>
<line x1="300.6" y1="953.4" x2="301" y2="967" stroke="#1c1c1c" stroke-width="2.2" stroke-linecap="round"/>
<polygon points="242.8,694.9 341.7,711.5 390,841.8" fill="#69da44" fill-opacity="0.5"/>
<line x1="343.7" y1="1111.5" x2="345.6" y2="1049.6" stroke="#ee1111" stroke-width="2.6"/><line x1="345.6" y1="1049.6" x2="347.5" y2="987.7" stroke="#f0e040" stroke-width="2.6"/><line x1="343.7" y1="1111.5" x2="347.2" y2="1047.3" stroke="#ee1111" stroke-width="2.6"/><line x1="347.2" y1="1047.3" x2="350.8" y2="983.1" stroke="#f07820" stroke-width="2.6"/><line x1="343.7" y1="1111.5" x2="368" y2="1110.2" stroke="#ee1111" stroke-width="2.6"/><line x1="368" y1="1110.2" x2="392.4" y2="1108.9" stroke="#f0e040" stroke-width="2.6"/><line x1="343.7" y1="1111.5" x2="371.4" y2="1112.5" stroke="#ee1111" stroke-width="2.6"/><line x1="371.4" y1="1112.5" x2="399" y2="1113.5" stroke="#f07820" stroke-width="2.6"/><line x1="343.7" y1="1111.5" x2="281.7" y2="1118.2" stroke="#ee1111" stroke-width="2.6"/><line x1="281.7" y1="1118.2" x2="219.7" y2="1124.9" stroke="#f0e040" stroke-width="2.6"/><line x1="343.7" y1="1111.5" x2="278.6" y2="1121.1" stroke="#ee1111" stroke-width="2.6"/><line x1="278.6" y1="1121.1" x2="213.4" y2="1130.6" stroke="#f07820" stroke-width="2.6"/><line x1="230.4" y1="998.4" x2="242.9" y2="985.3" stroke="#ee1111" stroke-width="2.6"/><line x1="242.9" y1="985.3" x2="255.5" y2="972.3" stroke="#f0e040" stroke-width="2.6"/><line x1="230.4" y1="998.4" x2="241.1" y2="982.4" stroke="#ee1111" stroke-width="2.6"/><line x1="241.1" y1="982.4" x2="251.8" y2="966.5" stroke="#f07820" stroke-width="2.6"/><line x1="230.4" y1="998.4" x2="288.9" y2="993" stroke="#ee1111" stroke-width="2.6"/><line x1="288.9" y1="993" x2="347.5" y2="987.7" stroke="#f0e040" stroke-width="2.6"/><line x1="230.4" y1="998.4" x2="290.6" y2="990.8" stroke="#ee1111" stroke-width="2.6"/><line x1="290.6" y1="990.8" x2="350.8" y2="983.1" stroke="#f07820" stroke-width="2.6"/><line x1="230.4" y1="998.4" x2="225.1" y2="1061.6" stroke="#ee1111" stroke-width="2.6"/><line x1="225.1" y1="1061.6" x2="219.7" y2="1124.9" stroke="#f0e040" stroke-width="2.6"/><line x1="230.4" y1="998.4" x2="221.9" y2="1064.5" stroke="#ee1111" stroke-width="2.6"/><line x1="221.9" y1="1064.5" x2="213.4" y2="1130.6" stroke="#f07820" stroke-width="2.6"/><line x1="373.3" y1="985.2" x2="314.4" y2="978.7" stroke="#ee1111" stroke-width="2.6"/><line x1="314.4" y1="978.7" x2="255.5" y2="972.3" stroke="#f0e040" stroke-width="2.6"/><line x1="373.3" y1="985.2" x2="312.6" y2="975.8" stroke="#ee1111" stroke-width="2.6"/><line x1="312.6" y1="975.8" x2="251.8" y2="966.5" stroke="#f07820" stroke-width="2.6"/><line x1="373.3" y1="985.2" x2="360.4" y2="986.4" stroke="#ee1111" stroke-width="2.6"/><line x1="360.4" y1="986.4" x2="347.5" y2="987.7" stroke="#f0e040" stroke-width="2.6"/><line x1="373.3" y1="985.2" x2="362" y2="984.1" stroke="#ee1111" stroke-width="2.6"/><line x1="362" y1="984.1" x2="350.8" y2="983.1" stroke="#f07820" stroke-width="2.6"/><line x1="373.3" y1="985.2" x2="382.8" y2="1047" stroke="#ee1111" stroke-width="2.6"/><line x1="382.8" y1="1047" x2="392.4" y2="1108.9" stroke="#f0e040" stroke-width="2.6"/><line x1="373.3" y1="985.2" x2="386.2" y2="1049.3" stroke="#ee1111" stroke-width="2.6"/><line x1="386.2" y1="1049.3" x2="399" y2="1113.5" stroke="#f07820" stroke-width="2.6"/>
<polygon points="242.8,694.9 390,841.8 204.3,859" fill="#69da44" fill-opacity="0.5"/>
<line x1="300.1" y1="939.8" x2="300.6" y2="953.4" stroke="#1c1c1c" stroke-width="2.2" stroke-linecap="round"/>
<circle cx="222.4" cy="1402.3" r="5.4" fill="url(#gSe)"/>
<line x1="299.7" y1="926.2" x2="300.1" y2="939.8" stroke="#1c1c1c" stroke-width="2.2" stroke-linecap="round"/>
<line x1="457.2" y1="1319.8" x2="470.3" y2="1319.8" stroke="#1c1c1c" stroke-width="2.2" stroke-linecap="round"/>
<line x1="299.2" y1="912.6" x2="299.7" y2="926.2" stroke="#1c1c1c" stroke-width="2.2" stroke-linecap="round"/>
<circle cx="255.5" cy="972.3" r="4.3" fill="url(#gS)"/><circle cx="347.5" cy="987.7" r="4.3" fill="url(#gS)"/><circle cx="392.4" cy="1108.9" r="4.3" fill="url(#gS)"/><circle cx="219.7" cy="1124.9" r="4.3" fill="url(#gS)"/><circle cx="251.8" cy="966.5" r="5.2" fill="url(#gSe)"/><circle cx="350.8" cy="983.1" r="5.2" fill="url(#gSe)"/><circle cx="399" cy="1113.5" r="5.2" fill="url(#gSe)"/><circle cx="213.4" cy="1130.6" r="5.2" fill="url(#gSe)"/><circle cx="343.7" cy="1111.5" r="6" fill="url(#gV)"/><circle cx="230.4" cy="998.4" r="6" fill="url(#gV)"/><circle cx="373.3" cy="985.2" r="6" fill="url(#gV)"/>
<line x1="298.8" y1="899" x2="299.2" y2="912.6" stroke="#1c1c1c" stroke-width="2.2" stroke-linecap="round"/>
<line x1="470.3" y1="1319.8" x2="483.4" y2="1319.8" stroke="#1c1c1c" stroke-width="2.2" stroke-linecap="round"/>
<line x1="298.3" y1="885.5" x2="298.8" y2="899" stroke="#1c1c1c" stroke-width="2.2" stroke-linecap="round"/>
<line x1="297.9" y1="871.9" x2="298.3" y2="885.5" stroke="#1c1c1c" stroke-width="2.2" stroke-linecap="round"/>
<line x1="297.4" y1="858.3" x2="297.9" y2="871.9" stroke="#1c1c1c" stroke-width="2.2" stroke-linecap="round"/>
<line x1="483.4" y1="1319.8" x2="496.6" y2="1319.8" stroke="#1c1c1c" stroke-width="2.2" stroke-linecap="round"/>
<line x1="297" y1="844.7" x2="297.4" y2="858.3" stroke="#1c1c1c" stroke-width="2.2" stroke-linecap="round"/>
<line x1="496.6" y1="1319.8" x2="509.7" y2="1319.7" stroke="#1c1c1c" stroke-width="2.2" stroke-linecap="round"/>
<line x1="288.8" y1="1329.4" x2="292.8" y2="1327.9" stroke="#1c1c1c" stroke-width="2.2" stroke-linecap="round"/>
<line x1="294.7" y1="776.8" x2="307.8" y2="776.8" stroke="#1c1c1c" stroke-width="2.2" stroke-linecap="round"/>
<line x1="307.8" y1="776.8" x2="320.9" y2="776.8" stroke="#1c1c1c" stroke-width="2.2" stroke-linecap="round"/>
<line x1="320.9" y1="776.8" x2="334.1" y2="776.7" stroke="#1c1c1c" stroke-width="2.2" stroke-linecap="round"/>
<line x1="334.1" y1="776.7" x2="347.2" y2="776.7" stroke="#1c1c1c" stroke-width="2.2" stroke-linecap="round"/>
<line x1="347.2" y1="776.7" x2="360.3" y2="776.7" stroke="#1c1c1c" stroke-width="2.2" stroke-linecap="round"/>
<line x1="509.7" y1="1319.7" x2="522.8" y2="1319.7" stroke="#1c1c1c" stroke-width="2.2" stroke-linecap="round"/>
<line x1="522.8" y1="1319.7" x2="535.9" y2="1319.7" stroke="#1c1c1c" stroke-width="2.2" stroke-linecap="round"/>
<line x1="535.9" y1="1319.7" x2="549.1" y2="1319.7" stroke="#1c1c1c" stroke-width="2.2" stroke-linecap="round"/>
<line x1="549.1" y1="1319.7" x2="562.2" y2="1319.6" stroke="#1c1c1c" stroke-width="2.2" stroke-linecap="round"/>
<line x1="562.2" y1="1319.6" x2="575.3" y2="1319.6" stroke="#1c1c1c" stroke-width="2.2" stroke-linecap="round"/>
<line x1="575.3" y1="1319.6" x2="588.4" y2="1319.6" stroke="#1c1c1c" stroke-width="2.2" stroke-linecap="round"/>
<line x1="588.4" y1="1319.6" x2="601.6" y2="1319.6" stroke="#1c1c1c" stroke-width="2.2" stroke-linecap="round"/>
<line x1="601.6" y1="1319.6" x2="614.7" y2="1319.5" stroke="#1c1c1c" stroke-width="2.2" stroke-linecap="round"/>
<line x1="614.7" y1="1319.5" x2="627.8" y2="1319.5" stroke="#1c1c1c" stroke-width="2.2" stroke-linecap="round"/>
<line x1="627.8" y1="1319.5" x2="640.9" y2="1319.5" stroke="#1c1c1c" stroke-width="2.2" stroke-linecap="round"/>
<line x1="274.7" y1="784.6" x2="278.7" y2="783" stroke="#1c1c1c" stroke-width="2.2" stroke-linecap="round"/>
<line x1="278.7" y1="783" x2="282.7" y2="781.5" stroke="#1c1c1c" stroke-width="2.2" stroke-linecap="round"/>
<line x1="282.7" y1="781.5" x2="286.7" y2="779.9" stroke="#1c1c1c" stroke-width="2.2" stroke-linecap="round"/>
<line x1="286.7" y1="779.9" x2="290.7" y2="778.4" stroke="#1c1c1c" stroke-width="2.2" stroke-linecap="round"/>
<line x1="290.7" y1="778.4" x2="294.7" y2="776.8" stroke="#1c1c1c" stroke-width="2.2" stroke-linecap="round"/>
<line x1="294.7" y1="776.8" x2="295.2" y2="790.4" stroke="#1c1c1c" stroke-width="2.2" stroke-linecap="round"/>
<line x1="295.2" y1="790.4" x2="295.6" y2="804" stroke="#1c1c1c" stroke-width="2.2" stroke-linecap="round"/>
<line x1="295.6" y1="804" x2="296.1" y2="817.5" stroke="#1c1c1c" stroke-width="2.2" stroke-linecap="round"/>
<line x1="296.1" y1="817.5" x2="296.5" y2="831.1" stroke="#1c1c1c" stroke-width="2.2" stroke-linecap="round"/>
<line x1="296.5" y1="831.1" x2="297" y2="844.7" stroke="#1c1c1c" stroke-width="2.2" stroke-linecap="round"/>
<polygon points="242.8,694.9 341.7,711.5 204.3,859" fill="#c4fb8b" fill-opacity="0.7"/>
<polygon points="341.7,711.5 390,841.8 204.3,859" fill="#65c458" fill-opacity="0.7"/>
<polygon points="501.9,1269.5 622.3,1254.3 615.3,1382.7 484.9,1401.8" fill="#b4dfe4" fill-opacity="0.62"/>
<polygon points="622.3,1254.3 644.9,1256.3 670.6,1384.6 615.3,1382.7" fill="#62b4bc" fill-opacity="0.8"/>
<polygon points="501.9,1269.5 622.3,1254.3 644.9,1256.3 523.4,1237.7" fill="#7bc1c3" fill-opacity="0.6"/>
<line x1="360.3" y1="776.7" x2="373.4" y2="776.7" stroke="#1c1c1c" stroke-width="2.2" stroke-linecap="round"/>
<polygon points="242.8,694.9 204.3,859 302.1,754.1" fill="#f4ffe0" fill-opacity="0.38"/>
<circle cx="294.7" cy="776.8" r="8" fill="url(#gGa)"/>
<line x1="284.8" y1="1331" x2="288.8" y2="1329.4" stroke="#1c1c1c" stroke-width="2.2" stroke-linecap="round"/>
<line x1="373.4" y1="776.7" x2="386.6" y2="776.6" stroke="#1c1c1c" stroke-width="2.2" stroke-linecap="round"/>
<polygon points="514.3,966 613.3,982.6 661.5,1113" fill="#69da44" fill-opacity="0.5"/>
<circle cx="242.8" cy="694.9" r="5.4" fill="url(#gSe)"/>
<circle cx="390" cy="841.8" r="5.4" fill="url(#gSe)"/>
<line x1="615.3" y1="1382.7" x2="617.1" y2="1320.8" stroke="#ee1111" stroke-width="2.6"/><line x1="617.1" y1="1320.8" x2="619" y2="1258.9" stroke="#f0e040" stroke-width="2.6"/><line x1="615.3" y1="1382.7" x2="618.8" y2="1318.5" stroke="#ee1111" stroke-width="2.6"/><line x1="618.8" y1="1318.5" x2="622.3" y2="1254.3" stroke="#f07820" stroke-width="2.6"/><line x1="615.3" y1="1382.7" x2="639.6" y2="1381.4" stroke="#ee1111" stroke-width="2.6"/><line x1="639.6" y1="1381.4" x2="663.9" y2="1380.1" stroke="#f0e040" stroke-width="2.6"/><line x1="615.3" y1="1382.7" x2="642.9" y2="1383.7" stroke="#ee1111" stroke-width="2.6"/><line x1="642.9" y1="1383.7" x2="670.6" y2="1384.6" stroke="#f07820" stroke-width="2.6"/><line x1="615.3" y1="1382.7" x2="553.3" y2="1389.4" stroke="#ee1111" stroke-width="2.6"/><line x1="553.3" y1="1389.4" x2="491.3" y2="1396" stroke="#f0e040" stroke-width="2.6"/><line x1="615.3" y1="1382.7" x2="550.1" y2="1392.2" stroke="#ee1111" stroke-width="2.6"/><line x1="550.1" y1="1392.2" x2="484.9" y2="1401.8" stroke="#f07820" stroke-width="2.6"/><line x1="501.9" y1="1269.5" x2="514.5" y2="1256.5" stroke="#ee1111" stroke-width="2.6"/><line x1="514.5" y1="1256.5" x2="527" y2="1243.4" stroke="#f0e040" stroke-width="2.6"/><line x1="501.9" y1="1269.5" x2="512.7" y2="1253.6" stroke="#ee1111" stroke-width="2.6"/><line x1="512.7" y1="1253.6" x2="523.4" y2="1237.7" stroke="#f07820" stroke-width="2.6"/><line x1="501.9" y1="1269.5" x2="560.5" y2="1264.2" stroke="#ee1111" stroke-width="2.6"/><line x1="560.5" y1="1264.2" x2="619" y2="1258.9" stroke="#f0e040" stroke-width="2.6"/><line x1="501.9" y1="1269.5" x2="562.1" y2="1261.9" stroke="#ee1111" stroke-width="2.6"/><line x1="562.1" y1="1261.9" x2="622.3" y2="1254.3" stroke="#f07820" stroke-width="2.6"/><line x1="501.9" y1="1269.5" x2="496.6" y2="1332.8" stroke="#ee1111" stroke-width="2.6"/><line x1="496.6" y1="1332.8" x2="491.3" y2="1396" stroke="#f0e040" stroke-width="2.6"/><line x1="501.9" y1="1269.5" x2="493.4" y2="1335.7" stroke="#ee1111" stroke-width="2.6"/><line x1="493.4" y1="1335.7" x2="484.9" y2="1401.8" stroke="#f07820" stroke-width="2.6"/><line x1="644.9" y1="1256.3" x2="586" y2="1249.9" stroke="#ee1111" stroke-width="2.6"/><line x1="586" y1="1249.9" x2="527" y2="1243.4" stroke="#f0e040" stroke-width="2.6"/><line x1="644.9" y1="1256.3" x2="584.1" y2="1247" stroke="#ee1111" stroke-width="2.6"/><line x1="584.1" y1="1247" x2="523.4" y2="1237.7" stroke="#f07820" stroke-width="2.6"/><line x1="644.9" y1="1256.3" x2="631.9" y2="1257.6" stroke="#ee1111" stroke-width="2.6"/><line x1="631.9" y1="1257.6" x2="619" y2="1258.9" stroke="#f0e040" stroke-width="2.6"/><line x1="644.9" y1="1256.3" x2="633.6" y2="1255.3" stroke="#ee1111" stroke-width="2.6"/><line x1="633.6" y1="1255.3" x2="622.3" y2="1254.3" stroke="#f07820" stroke-width="2.6"/><line x1="644.9" y1="1256.3" x2="654.4" y2="1318.2" stroke="#ee1111" stroke-width="2.6"/><line x1="654.4" y1="1318.2" x2="663.9" y2="1380.1" stroke="#f0e040" stroke-width="2.6"/><line x1="644.9" y1="1256.3" x2="657.7" y2="1320.5" stroke="#ee1111" stroke-width="2.6"/><line x1="657.7" y1="1320.5" x2="670.6" y2="1384.6" stroke="#f07820" stroke-width="2.6"/>
<polygon points="514.3,966 661.5,1113 475.9,1130.1" fill="#69da44" fill-opacity="0.5"/>
<line x1="386.6" y1="776.6" x2="399.7" y2="776.6" stroke="#1c1c1c" stroke-width="2.2" stroke-linecap="round"/>
<g opacity="0.9"><line x1="521" y1="826.6" x2="515" y2="763.4" stroke="#ee1111" stroke-width="2.6"/><line x1="515" y1="763.4" x2="508.9" y2="700.1" stroke="#f0e040" stroke-width="2.6"/><line x1="521" y1="826.6" x2="513.1" y2="760.5" stroke="#ee1111" stroke-width="2.6"/><line x1="513.1" y1="760.5" x2="505.3" y2="694.4" stroke="#f07820" stroke-width="2.6"/><line x1="521" y1="826.6" x2="583.4" y2="831.7" stroke="#ee1111" stroke-width="2.6"/><line x1="583.4" y1="831.7" x2="645.8" y2="836.8" stroke="#f0e040" stroke-width="2.6"/><line x1="521" y1="826.6" x2="586.7" y2="834" stroke="#ee1111" stroke-width="2.6"/><line x1="586.7" y1="834" x2="652.5" y2="841.3" stroke="#f07820" stroke-width="2.6"/><line x1="521" y1="826.6" x2="497.1" y2="839.7" stroke="#ee1111" stroke-width="2.6"/><line x1="497.1" y1="839.7" x2="473.2" y2="852.7" stroke="#f0e040" stroke-width="2.6"/><line x1="521" y1="826.6" x2="493.9" y2="842.5" stroke="#ee1111" stroke-width="2.6"/><line x1="493.9" y1="842.5" x2="466.8" y2="858.5" stroke="#f07820" stroke-width="2.6"/></g>
<circle cx="527" cy="1243.4" r="4.3" fill="url(#gS)"/><circle cx="619" cy="1258.9" r="4.3" fill="url(#gS)"/><circle cx="663.9" cy="1380.1" r="4.3" fill="url(#gS)"/><circle cx="491.3" cy="1396" r="4.3" fill="url(#gS)"/><circle cx="523.4" cy="1237.7" r="5.2" fill="url(#gSe)"/><circle cx="622.3" cy="1254.3" r="5.2" fill="url(#gSe)"/><circle cx="670.6" cy="1384.6" r="5.2" fill="url(#gSe)"/><circle cx="484.9" cy="1401.8" r="5.2" fill="url(#gSe)"/><circle cx="615.3" cy="1382.7" r="6" fill="url(#gV)"/><circle cx="501.9" cy="1269.5" r="6" fill="url(#gV)"/><circle cx="644.9" cy="1256.3" r="6" fill="url(#gV)"/>
<circle cx="521" cy="826.6" r="6" fill="url(#gV)"/>
<line x1="399.7" y1="776.6" x2="412.8" y2="776.6" stroke="#1c1c1c" stroke-width="2.2" stroke-linecap="round"/>
<line x1="412.8" y1="776.6" x2="425.9" y2="776.6" stroke="#1c1c1c" stroke-width="2.2" stroke-linecap="round"/>
<line x1="640.9" y1="1319.5" x2="654.1" y2="1319.5" stroke="#1c1c1c" stroke-width="2.2" stroke-linecap="round"/>
<line x1="280.8" y1="1332.6" x2="284.8" y2="1331" stroke="#1c1c1c" stroke-width="2.2" stroke-linecap="round"/>
<circle cx="359.8" cy="1254.8" r="5.4" fill="url(#gSe)"/>
<line x1="425.9" y1="776.6" x2="439.1" y2="776.5" stroke="#1c1c1c" stroke-width="2.2" stroke-linecap="round"/>
<line x1="654.1" y1="1319.5" x2="667.2" y2="1319.4" stroke="#1c1c1c" stroke-width="2.2" stroke-linecap="round"/>
<circle cx="204.3" cy="859" r="5.4" fill="url(#gSe)"/>
<line x1="439.1" y1="776.5" x2="452.2" y2="776.5" stroke="#1c1c1c" stroke-width="2.2" stroke-linecap="round"/>
<line x1="667.2" y1="1319.4" x2="680.3" y2="1319.4" stroke="#1c1c1c" stroke-width="2.2" stroke-linecap="round"/>
<line x1="452.2" y1="776.5" x2="465.3" y2="776.5" stroke="#1c1c1c" stroke-width="2.2" stroke-linecap="round"/>
<line x1="680.3" y1="1319.4" x2="693.4" y2="1319.4" stroke="#1c1c1c" stroke-width="2.2" stroke-linecap="round"/>
<line x1="276.8" y1="1334.1" x2="280.8" y2="1332.6" stroke="#1c1c1c" stroke-width="2.2" stroke-linecap="round"/>
<line x1="465.3" y1="776.5" x2="478.4" y2="776.5" stroke="#1c1c1c" stroke-width="2.2" stroke-linecap="round"/>
<line x1="693.4" y1="1319.4" x2="706.6" y2="1319.3" stroke="#1c1c1c" stroke-width="2.2" stroke-linecap="round"/>
<line x1="478.4" y1="776.5" x2="491.6" y2="776.4" stroke="#1c1c1c" stroke-width="2.2" stroke-linecap="round"/>
<line x1="706.6" y1="1319.3" x2="719.7" y2="1319.3" stroke="#1c1c1c" stroke-width="2.2" stroke-linecap="round"/>
<line x1="719.7" y1="1319.3" x2="732.8" y2="1319.3" stroke="#1c1c1c" stroke-width="2.2" stroke-linecap="round"/>
<line x1="732.8" y1="1319.3" x2="745.9" y2="1319.3" stroke="#1c1c1c" stroke-width="2.2" stroke-linecap="round"/>
<line x1="272.8" y1="1335.7" x2="276.8" y2="1334.1" stroke="#1c1c1c" stroke-width="2.2" stroke-linecap="round"/>
<polygon points="514.3,966 613.3,982.6 475.9,1130.1" fill="#c4fb8b" fill-opacity="0.7"/>
<polygon points="613.3,982.6 661.5,1113 475.9,1130.1" fill="#65c458" fill-opacity="0.7"/>
<line x1="745.9" y1="1319.3" x2="759.1" y2="1319.2" stroke="#1c1c1c" stroke-width="2.2" stroke-linecap="round"/>
<polygon points="514.3,966 613.3,982.6 573.6,1025.2" fill="#f4ffe0" fill-opacity="0.38"/>
<circle cx="566.2" cy="1048" r="8" fill="url(#gGa)"/>
<line x1="759.1" y1="1319.2" x2="772.2" y2="1319.2" stroke="#1c1c1c" stroke-width="2.2" stroke-linecap="round"/>
<circle cx="514.3" cy="966" r="5.4" fill="url(#gSe)"/>
<circle cx="661.5" cy="1113" r="5.4" fill="url(#gSe)"/>
<polygon points="785.9,1237.2 884.8,1253.8 933.1,1384.1" fill="#69da44" fill-opacity="0.5"/>
<polygon points="785.9,1237.2 933.1,1384.1 747.4,1401.3" fill="#69da44" fill-opacity="0.5"/>
<line x1="270.7" y1="786.1" x2="274.7" y2="784.6" stroke="#1c1c1c" stroke-width="2.2" stroke-linecap="round"/>
<g opacity="0.9"><line x1="792.6" y1="1097.7" x2="786.5" y2="1034.5" stroke="#ee1111" stroke-width="2.6"/><line x1="786.5" y1="1034.5" x2="780.5" y2="971.3" stroke="#f0e040" stroke-width="2.6"/><line x1="792.6" y1="1097.7" x2="784.7" y2="1031.6" stroke="#ee1111" stroke-width="2.6"/><line x1="784.7" y1="1031.6" x2="776.8" y2="965.5" stroke="#f07820" stroke-width="2.6"/><line x1="792.6" y1="1097.7" x2="855" y2="1102.8" stroke="#ee1111" stroke-width="2.6"/><line x1="855" y1="1102.8" x2="917.4" y2="1107.9" stroke="#f0e040" stroke-width="2.6"/><line x1="792.6" y1="1097.7" x2="858.3" y2="1105.1" stroke="#ee1111" stroke-width="2.6"/><line x1="858.3" y1="1105.1" x2="924" y2="1112.5" stroke="#f07820" stroke-width="2.6"/><line x1="792.6" y1="1097.7" x2="768.6" y2="1110.8" stroke="#ee1111" stroke-width="2.6"/><line x1="768.6" y1="1110.8" x2="744.7" y2="1123.9" stroke="#f0e040" stroke-width="2.6"/><line x1="792.6" y1="1097.7" x2="765.5" y2="1113.7" stroke="#ee1111" stroke-width="2.6"/><line x1="765.5" y1="1113.7" x2="738.4" y2="1129.6" stroke="#f07820" stroke-width="2.6"/></g>
<line x1="268.8" y1="1337.2" x2="272.8" y2="1335.7" stroke="#1c1c1c" stroke-width="2.2" stroke-linecap="round"/>
<circle cx="792.6" cy="1097.7" r="6" fill="url(#gV)"/>
<line x1="491.6" y1="776.4" x2="504.7" y2="776.4" stroke="#1c1c1c" stroke-width="2.2" stroke-linecap="round"/>
<line x1="504.7" y1="776.4" x2="517.8" y2="776.4" stroke="#1c1c1c" stroke-width="2.2" stroke-linecap="round"/>
<line x1="517.8" y1="776.4" x2="531" y2="776.4" stroke="#1c1c1c" stroke-width="2.2" stroke-linecap="round"/>
<line x1="531" y1="776.4" x2="544.1" y2="776.3" stroke="#1c1c1c" stroke-width="2.2" stroke-linecap="round"/>
<line x1="544.1" y1="776.3" x2="557.2" y2="776.3" stroke="#1c1c1c" stroke-width="2.2" stroke-linecap="round"/>
<line x1="557.2" y1="776.3" x2="570.3" y2="776.3" stroke="#1c1c1c" stroke-width="2.2" stroke-linecap="round"/>
<line x1="570.3" y1="776.3" x2="583.5" y2="776.3" stroke="#1c1c1c" stroke-width="2.2" stroke-linecap="round"/>
<line x1="583.5" y1="776.3" x2="596.6" y2="776.2" stroke="#1c1c1c" stroke-width="2.2" stroke-linecap="round"/>
<line x1="596.6" y1="776.2" x2="609.7" y2="776.2" stroke="#1c1c1c" stroke-width="2.2" stroke-linecap="round"/>
<line x1="609.7" y1="776.2" x2="622.8" y2="776.2" stroke="#1c1c1c" stroke-width="2.2" stroke-linecap="round"/>
<polygon points="483.8,726.2 604.2,711 597.2,839.4 466.8,858.5" fill="#b4dfe4" fill-opacity="0.62"/>
<polygon points="604.2,711 626.8,713 652.5,841.3 597.2,839.4" fill="#b4dfe4" fill-opacity="0.62"/>
<polygon points="483.8,726.2 604.2,711 626.8,713 505.3,694.4" fill="#7bc1c3" fill-opacity="0.6"/>
<line x1="266.7" y1="787.7" x2="270.7" y2="786.1" stroke="#1c1c1c" stroke-width="2.2" stroke-linecap="round"/>
<line x1="597.2" y1="839.4" x2="599" y2="777.5" stroke="#ee1111" stroke-width="2.6"/><line x1="599" y1="777.5" x2="600.9" y2="715.6" stroke="#f0e040" stroke-width="2.6"/><line x1="597.2" y1="839.4" x2="600.7" y2="775.2" stroke="#ee1111" stroke-width="2.6"/><line x1="600.7" y1="775.2" x2="604.2" y2="711" stroke="#f07820" stroke-width="2.6"/><line x1="597.2" y1="839.4" x2="621.5" y2="838.1" stroke="#ee1111" stroke-width="2.6"/><line x1="621.5" y1="838.1" x2="645.8" y2="836.8" stroke="#f0e040" stroke-width="2.6"/><line x1="597.2" y1="839.4" x2="624.8" y2="840.4" stroke="#ee1111" stroke-width="2.6"/><line x1="624.8" y1="840.4" x2="652.5" y2="841.3" stroke="#f07820" stroke-width="2.6"/><line x1="597.2" y1="839.4" x2="535.2" y2="846.1" stroke="#ee1111" stroke-width="2.6"/><line x1="535.2" y1="846.1" x2="473.2" y2="852.7" stroke="#f0e040" stroke-width="2.6"/><line x1="597.2" y1="839.4" x2="532" y2="848.9" stroke="#ee1111" stroke-width="2.6"/><line x1="532" y1="848.9" x2="466.8" y2="858.5" stroke="#f07820" stroke-width="2.6"/><line x1="483.8" y1="726.2" x2="496.4" y2="713.2" stroke="#ee1111" stroke-width="2.6"/><line x1="496.4" y1="713.2" x2="508.9" y2="700.1" stroke="#f0e040" stroke-width="2.6"/><line x1="483.8" y1="726.2" x2="494.6" y2="710.3" stroke="#ee1111" stroke-width="2.6"/><line x1="494.6" y1="710.3" x2="505.3" y2="694.4" stroke="#f07820" stroke-width="2.6"/><line x1="483.8" y1="726.2" x2="542.4" y2="720.9" stroke="#ee1111" stroke-width="2.6"/><line x1="542.4" y1="720.9" x2="600.9" y2="715.6" stroke="#f0e040" stroke-width="2.6"/><line x1="483.8" y1="726.2" x2="544" y2="718.6" stroke="#ee1111" stroke-width="2.6"/><line x1="544" y1="718.6" x2="604.2" y2="711" stroke="#f07820" stroke-width="2.6"/><line x1="483.8" y1="726.2" x2="478.5" y2="789.5" stroke="#ee1111" stroke-width="2.6"/><line x1="478.5" y1="789.5" x2="473.2" y2="852.7" stroke="#f0e040" stroke-width="2.6"/><line x1="483.8" y1="726.2" x2="475.3" y2="792.4" stroke="#ee1111" stroke-width="2.6"/><line x1="475.3" y1="792.4" x2="466.8" y2="858.5" stroke="#f07820" stroke-width="2.6"/><line x1="626.8" y1="713" x2="567.9" y2="706.6" stroke="#ee1111" stroke-width="2.6"/><line x1="567.9" y1="706.6" x2="508.9" y2="700.1" stroke="#f0e040" stroke-width="2.6"/><line x1="626.8" y1="713" x2="566" y2="703.7" stroke="#ee1111" stroke-width="2.6"/><line x1="566" y1="703.7" x2="505.3" y2="694.4" stroke="#f07820" stroke-width="2.6"/><line x1="626.8" y1="713" x2="613.8" y2="714.3" stroke="#ee1111" stroke-width="2.6"/><line x1="613.8" y1="714.3" x2="600.9" y2="715.6" stroke="#f0e040" stroke-width="2.6"/><line x1="626.8" y1="713" x2="615.5" y2="712" stroke="#ee1111" stroke-width="2.6"/><line x1="615.5" y1="712" x2="604.2" y2="711" stroke="#f07820" stroke-width="2.6"/><line x1="626.8" y1="713" x2="636.3" y2="774.9" stroke="#ee1111" stroke-width="2.6"/><line x1="636.3" y1="774.9" x2="645.8" y2="836.8" stroke="#f0e040" stroke-width="2.6"/><line x1="626.8" y1="713" x2="639.6" y2="777.2" stroke="#ee1111" stroke-width="2.6"/><line x1="639.6" y1="777.2" x2="652.5" y2="841.3" stroke="#f07820" stroke-width="2.6"/>
<circle cx="475.9" cy="1130.1" r="5.4" fill="url(#gSe)"/>
<line x1="264.8" y1="1338.8" x2="268.8" y2="1337.2" stroke="#1c1c1c" stroke-width="2.2" stroke-linecap="round"/>
<circle cx="508.9" cy="700.1" r="4.3" fill="url(#gS)"/><circle cx="600.9" cy="715.6" r="4.3" fill="url(#gS)"/><circle cx="645.8" cy="836.8" r="4.3" fill="url(#gS)"/><circle cx="473.2" cy="852.7" r="4.3" fill="url(#gS)"/><circle cx="505.3" cy="694.4" r="5.2" fill="url(#gSe)"/><circle cx="604.2" cy="711" r="5.2" fill="url(#gSe)"/><circle cx="652.5" cy="841.3" r="5.2" fill="url(#gSe)"/><circle cx="466.8" cy="858.5" r="5.2" fill="url(#gSe)"/><circle cx="597.2" cy="839.4" r="6" fill="url(#gV)"/><circle cx="483.8" cy="726.2" r="6" fill="url(#gV)"/><circle cx="626.8" cy="713" r="6" fill="url(#gV)"/>
<line x1="622.8" y1="776.2" x2="636" y2="776.2" stroke="#1c1c1c" stroke-width="2.2" stroke-linecap="round"/>
<line x1="262.7" y1="789.3" x2="266.7" y2="787.7" stroke="#1c1c1c" stroke-width="2.2" stroke-linecap="round"/>
<line x1="835.1" y1="1237.6" x2="835.5" y2="1251.2" stroke="#1c1c1c" stroke-width="2.2" stroke-linecap="round"/>
<circle cx="341.7" cy="711.5" r="5.4" fill="url(#gSe)"/>
<line x1="636" y1="776.2" x2="649.1" y2="776.1" stroke="#1c1c1c" stroke-width="2.2" stroke-linecap="round"/>
<line x1="834.6" y1="1224" x2="835.1" y2="1237.6" stroke="#1c1c1c" stroke-width="2.2" stroke-linecap="round"/>
<line x1="834.2" y1="1210.4" x2="834.6" y2="1224" stroke="#1c1c1c" stroke-width="2.2" stroke-linecap="round"/>
<line x1="260.8" y1="1340.3" x2="264.8" y2="1338.8" stroke="#1c1c1c" stroke-width="2.2" stroke-linecap="round"/>
<line x1="833.7" y1="1196.9" x2="834.2" y2="1210.4" stroke="#1c1c1c" stroke-width="2.2" stroke-linecap="round"/>
<line x1="649.1" y1="776.1" x2="662.2" y2="776.1" stroke="#1c1c1c" stroke-width="2.2" stroke-linecap="round"/>
<line x1="833.3" y1="1183.3" x2="833.7" y2="1196.9" stroke="#1c1c1c" stroke-width="2.2" stroke-linecap="round"/>
<line x1="832.8" y1="1169.7" x2="833.3" y2="1183.3" stroke="#1c1c1c" stroke-width="2.2" stroke-linecap="round"/>
<line x1="662.2" y1="776.1" x2="675.3" y2="776.1" stroke="#1c1c1c" stroke-width="2.2" stroke-linecap="round"/>
<line x1="832.4" y1="1156.1" x2="832.8" y2="1169.7" stroke="#1c1c1c" stroke-width="2.2" stroke-linecap="round"/>
<line x1="831.9" y1="1142.5" x2="832.4" y2="1156.1" stroke="#1c1c1c" stroke-width="2.2" stroke-linecap="round"/>
<line x1="772.2" y1="1319.2" x2="785.3" y2="1319.2" stroke="#1c1c1c" stroke-width="2.2" stroke-linecap="round"/>
<line x1="785.3" y1="1319.2" x2="798.4" y2="1319.2" stroke="#1c1c1c" stroke-width="2.2" stroke-linecap="round"/>
<line x1="798.4" y1="1319.2" x2="811.6" y2="1319.2" stroke="#1c1c1c" stroke-width="2.2" stroke-linecap="round"/>
<line x1="811.6" y1="1319.2" x2="824.7" y2="1319.1" stroke="#1c1c1c" stroke-width="2.2" stroke-linecap="round"/>
<line x1="824.7" y1="1319.1" x2="837.8" y2="1319.1" stroke="#1c1c1c" stroke-width="2.2" stroke-linecap="round"/>
<line x1="817.8" y1="1326.9" x2="821.8" y2="1325.3" stroke="#1c1c1c" stroke-width="2.2" stroke-linecap="round"/>
<line x1="821.8" y1="1325.3" x2="825.8" y2="1323.8" stroke="#1c1c1c" stroke-width="2.2" stroke-linecap="round"/>
<line x1="825.8" y1="1323.8" x2="829.8" y2="1322.2" stroke="#1c1c1c" stroke-width="2.2" stroke-linecap="round"/>
<line x1="829.8" y1="1322.2" x2="833.8" y2="1320.7" stroke="#1c1c1c" stroke-width="2.2" stroke-linecap="round"/>
<line x1="833.8" y1="1320.7" x2="837.8" y2="1319.1" stroke="#1c1c1c" stroke-width="2.2" stroke-linecap="round"/>
<line x1="835.5" y1="1251.2" x2="836" y2="1264.8" stroke="#1c1c1c" stroke-width="2.2" stroke-linecap="round"/>
<line x1="836" y1="1264.8" x2="836.4" y2="1278.4" stroke="#1c1c1c" stroke-width="2.2" stroke-linecap="round"/>
<line x1="836.4" y1="1278.4" x2="836.9" y2="1291.9" stroke="#1c1c1c" stroke-width="2.2" stroke-linecap="round"/>
<line x1="836.9" y1="1291.9" x2="837.3" y2="1305.5" stroke="#1c1c1c" stroke-width="2.2" stroke-linecap="round"/>
<line x1="837.3" y1="1305.5" x2="837.8" y2="1319.1" stroke="#1c1c1c" stroke-width="2.2" stroke-linecap="round"/>
<line x1="258.7" y1="790.8" x2="262.7" y2="789.3" stroke="#1c1c1c" stroke-width="2.2" stroke-linecap="round"/>
<polygon points="785.9,1237.2 884.8,1253.8 747.4,1401.3" fill="#c4fb8b" fill-opacity="0.7"/>
<polygon points="884.8,1253.8 933.1,1384.1 747.4,1401.3" fill="#65c458" fill-opacity="0.7"/>
<line x1="831.5" y1="1128.9" x2="831.9" y2="1142.5" stroke="#1c1c1c" stroke-width="2.2" stroke-linecap="round"/>
<line x1="675.3" y1="776.1" x2="688.5" y2="776.1" stroke="#1c1c1c" stroke-width="2.2" stroke-linecap="round"/>
<polygon points="785.9,1237.2 884.8,1253.8 845.2,1296.4" fill="#f4ffe0" fill-opacity="0.38"/>
<polygon points="785.9,1237.2 747.4,1401.3 845.2,1296.4" fill="#f4ffe0" fill-opacity="0.38"/>
<polygon points="884.8,1253.8 933.1,1384.1 747.4,1401.3" fill="#e8f4e8" fill-opacity="0.2"/>
<line x1="831" y1="1115.4" x2="831.5" y2="1128.9" stroke="#1c1c1c" stroke-width="2.2" stroke-linecap="round"/>
<circle cx="837.8" cy="1319.1" r="8" fill="url(#gGa)"/>
<line x1="688.5" y1="776.1" x2="701.6" y2="776" stroke="#1c1c1c" stroke-width="2.2" stroke-linecap="round"/>
<line x1="256.8" y1="1341.9" x2="260.8" y2="1340.3" stroke="#1c1c1c" stroke-width="2.2" stroke-linecap="round"/>
<circle cx="785.9" cy="1237.2" r="5.4" fill="url(#gSe)"/>
<circle cx="933.1" cy="1384.1" r="5.4" fill="url(#gSe)"/>
<line x1="701.6" y1="776" x2="714.7" y2="776" stroke="#1c1c1c" stroke-width="2.2" stroke-linecap="round"/>
<line x1="714.7" y1="776" x2="727.8" y2="776" stroke="#1c1c1c" stroke-width="2.2" stroke-linecap="round"/>
<line x1="254.7" y1="792.4" x2="258.7" y2="790.8" stroke="#1c1c1c" stroke-width="2.2" stroke-linecap="round"/>
<line x1="826.5" y1="979.5" x2="826.9" y2="993.1" stroke="#1c1c1c" stroke-width="2.2" stroke-linecap="round"/>
<line x1="826.9" y1="993.1" x2="827.4" y2="1006.7" stroke="#1c1c1c" stroke-width="2.2" stroke-linecap="round"/>
<line x1="827.4" y1="1006.7" x2="827.8" y2="1020.3" stroke="#1c1c1c" stroke-width="2.2" stroke-linecap="round"/>
<line x1="827.8" y1="1020.3" x2="828.3" y2="1033.9" stroke="#1c1c1c" stroke-width="2.2" stroke-linecap="round"/>
<line x1="828.3" y1="1033.9" x2="828.8" y2="1047.5" stroke="#1c1c1c" stroke-width="2.2" stroke-linecap="round"/>
<line x1="828.8" y1="1047.5" x2="829.2" y2="1061" stroke="#1c1c1c" stroke-width="2.2" stroke-linecap="round"/>
<line x1="829.2" y1="1061" x2="829.7" y2="1074.6" stroke="#1c1c1c" stroke-width="2.2" stroke-linecap="round"/>
<line x1="829.7" y1="1074.6" x2="830.1" y2="1088.2" stroke="#1c1c1c" stroke-width="2.2" stroke-linecap="round"/>
<line x1="830.1" y1="1088.2" x2="830.6" y2="1101.8" stroke="#1c1c1c" stroke-width="2.2" stroke-linecap="round"/>
<line x1="830.6" y1="1101.8" x2="831" y2="1115.4" stroke="#1c1c1c" stroke-width="2.2" stroke-linecap="round"/>
<polygon points="755.4,997.4 875.8,982.1 868.7,1110.5 738.4,1129.6" fill="#b4dfe4" fill-opacity="0.62"/>
<polygon points="875.8,982.1 898.3,984.2 924,1112.5 868.7,1110.5" fill="#b4dfe4" fill-opacity="0.62"/>
<polygon points="755.4,997.4 875.8,982.1 898.3,984.2 776.8,965.5" fill="#7bc1c3" fill-opacity="0.6"/>
<line x1="727.8" y1="776" x2="741" y2="776" stroke="#1c1c1c" stroke-width="2.2" stroke-linecap="round"/>
<line x1="252.8" y1="1343.5" x2="256.8" y2="1341.9" stroke="#1c1c1c" stroke-width="2.2" stroke-linecap="round"/>
<line x1="826" y1="966" x2="826.5" y2="979.5" stroke="#1c1c1c" stroke-width="2.2" stroke-linecap="round"/>
<line x1="741" y1="776" x2="754.1" y2="775.9" stroke="#1c1c1c" stroke-width="2.2" stroke-linecap="round"/>
<line x1="825.6" y1="952.4" x2="826" y2="966" stroke="#1c1c1c" stroke-width="2.2" stroke-linecap="round"/>
<polygon points="767.8,693.9 866.7,710.5 915,840.8" fill="#69da44" fill-opacity="0.5"/>
<line x1="868.7" y1="1110.5" x2="870.6" y2="1048.6" stroke="#ee1111" stroke-width="2.6"/><line x1="870.6" y1="1048.6" x2="872.5" y2="986.7" stroke="#f0e040" stroke-width="2.6"/><line x1="868.7" y1="1110.5" x2="872.2" y2="1046.3" stroke="#ee1111" stroke-width="2.6"/><line x1="872.2" y1="1046.3" x2="875.8" y2="982.1" stroke="#f07820" stroke-width="2.6"/><line x1="868.7" y1="1110.5" x2="893" y2="1109.2" stroke="#ee1111" stroke-width="2.6"/><line x1="893" y1="1109.2" x2="917.4" y2="1107.9" stroke="#f0e040" stroke-width="2.6"/><line x1="868.7" y1="1110.5" x2="896.4" y2="1111.5" stroke="#ee1111" stroke-width="2.6"/><line x1="896.4" y1="1111.5" x2="924" y2="1112.5" stroke="#f07820" stroke-width="2.6"/><line x1="868.7" y1="1110.5" x2="806.7" y2="1117.2" stroke="#ee1111" stroke-width="2.6"/><line x1="806.7" y1="1117.2" x2="744.7" y2="1123.9" stroke="#f0e040" stroke-width="2.6"/><line x1="868.7" y1="1110.5" x2="803.6" y2="1120.1" stroke="#ee1111" stroke-width="2.6"/><line x1="803.6" y1="1120.1" x2="738.4" y2="1129.6" stroke="#f07820" stroke-width="2.6"/><line x1="755.4" y1="997.4" x2="767.9" y2="984.3" stroke="#ee1111" stroke-width="2.6"/><line x1="767.9" y1="984.3" x2="780.5" y2="971.3" stroke="#f0e040" stroke-width="2.6"/><line x1="755.4" y1="997.4" x2="766.1" y2="981.4" stroke="#ee1111" stroke-width="2.6"/><line x1="766.1" y1="981.4" x2="776.8" y2="965.5" stroke="#f07820" stroke-width="2.6"/><line x1="755.4" y1="997.4" x2="813.9" y2="992" stroke="#ee1111" stroke-width="2.6"/><line x1="813.9" y1="992" x2="872.5" y2="986.7" stroke="#f0e040" stroke-width="2.6"/><line x1="755.4" y1="997.4" x2="815.6" y2="989.8" stroke="#ee1111" stroke-width="2.6"/><line x1="815.6" y1="989.8" x2="875.8" y2="982.1" stroke="#f07820" stroke-width="2.6"/><line x1="755.4" y1="997.4" x2="750.1" y2="1060.6" stroke="#ee1111" stroke-width="2.6"/><line x1="750.1" y1="1060.6" x2="744.7" y2="1123.9" stroke="#f0e040" stroke-width="2.6"/><line x1="755.4" y1="997.4" x2="746.9" y2="1063.5" stroke="#ee1111" stroke-width="2.6"/><line x1="746.9" y1="1063.5" x2="738.4" y2="1129.6" stroke="#f07820" stroke-width="2.6"/><line x1="898.3" y1="984.2" x2="839.4" y2="977.7" stroke="#ee1111" stroke-width="2.6"/><line x1="839.4" y1="977.7" x2="780.5" y2="971.3" stroke="#f0e040" stroke-width="2.6"/><line x1="898.3" y1="984.2" x2="837.6" y2="974.8" stroke="#ee1111" stroke-width="2.6"/><line x1="837.6" y1="974.8" x2="776.8" y2="965.5" stroke="#f07820" stroke-width="2.6"/><line x1="898.3" y1="984.2" x2="885.4" y2="985.4" stroke="#ee1111" stroke-width="2.6"/><line x1="885.4" y1="985.4" x2="872.5" y2="986.7" stroke="#f0e040" stroke-width="2.6"/><line x1="898.3" y1="984.2" x2="887" y2="983.1" stroke="#ee1111" stroke-width="2.6"/><line x1="887" y1="983.1" x2="875.8" y2="982.1" stroke="#f07820" stroke-width="2.6"/><line x1="898.3" y1="984.2" x2="907.8" y2="1046" stroke="#ee1111" stroke-width="2.6"/><line x1="907.8" y1="1046" x2="917.4" y2="1107.9" stroke="#f0e040" stroke-width="2.6"/><line x1="898.3" y1="984.2" x2="911.2" y2="1048.3" stroke="#ee1111" stroke-width="2.6"/><line x1="911.2" y1="1048.3" x2="924" y2="1112.5" stroke="#f07820" stroke-width="2.6"/>
<polygon points="767.8,693.9 915,840.8 729.3,858" fill="#69da44" fill-opacity="0.5"/>
<line x1="825.1" y1="938.8" x2="825.6" y2="952.4" stroke="#1c1c1c" stroke-width="2.2" stroke-linecap="round"/>
<circle cx="747.4" cy="1401.3" r="5.4" fill="url(#gSe)"/>
<line x1="824.7" y1="925.2" x2="825.1" y2="938.8" stroke="#1c1c1c" stroke-width="2.2" stroke-linecap="round"/>
<line x1="824.2" y1="911.6" x2="824.7" y2="925.2" stroke="#1c1c1c" stroke-width="2.2" stroke-linecap="round"/>
<circle cx="780.5" cy="971.3" r="4.3" fill="url(#gS)"/><circle cx="872.5" cy="986.7" r="4.3" fill="url(#gS)"/><circle cx="917.4" cy="1107.9" r="4.3" fill="url(#gS)"/><circle cx="744.7" cy="1123.9" r="4.3" fill="url(#gS)"/><circle cx="776.8" cy="965.5" r="5.2" fill="url(#gSe)"/><circle cx="875.8" cy="982.1" r="5.2" fill="url(#gSe)"/><circle cx="924" cy="1112.5" r="5.2" fill="url(#gSe)"/><circle cx="738.4" cy="1129.6" r="5.2" fill="url(#gSe)"/><circle cx="868.7" cy="1110.5" r="6" fill="url(#gV)"/><circle cx="755.4" cy="997.4" r="6" fill="url(#gV)"/><circle cx="898.3" cy="984.2" r="6" fill="url(#gV)"/>
<line x1="250.7" y1="793.9" x2="254.7" y2="792.4" stroke="#1c1c1c" stroke-width="2.2" stroke-linecap="round"/>
<line x1="823.8" y1="898" x2="824.2" y2="911.6" stroke="#1c1c1c" stroke-width="2.2" stroke-linecap="round"/>
<line x1="823.3" y1="884.5" x2="823.8" y2="898" stroke="#1c1c1c" stroke-width="2.2" stroke-linecap="round"/>
<line x1="822.9" y1="870.9" x2="823.3" y2="884.5" stroke="#1c1c1c" stroke-width="2.2" stroke-linecap="round"/>
<line x1="822.4" y1="857.3" x2="822.9" y2="870.9" stroke="#1c1c1c" stroke-width="2.2" stroke-linecap="round"/>
<line x1="822" y1="843.7" x2="822.4" y2="857.3" stroke="#1c1c1c" stroke-width="2.2" stroke-linecap="round"/>
<circle cx="613.3" cy="982.6" r="5.4" fill="url(#gSe)"/>
<line x1="246.7" y1="795.5" x2="250.7" y2="793.9" stroke="#1c1c1c" stroke-width="2.2" stroke-linecap="round"/>
<g opacity="0.9"><line x1="196.6" y1="1401.5" x2="190.6" y2="1338.3" stroke="#ee1111" stroke-width="2.6"/><line x1="190.6" y1="1338.3" x2="184.5" y2="1275.1" stroke="#f0e040" stroke-width="2.6"/><line x1="196.6" y1="1401.5" x2="188.7" y2="1335.4" stroke="#ee1111" stroke-width="2.6"/><line x1="188.7" y1="1335.4" x2="180.9" y2="1269.3" stroke="#f07820" stroke-width="2.6"/><line x1="196.6" y1="1401.5" x2="259" y2="1406.6" stroke="#ee1111" stroke-width="2.6"/><line x1="259" y1="1406.6" x2="321.4" y2="1411.7" stroke="#f0e040" stroke-width="2.6"/><line x1="196.6" y1="1401.5" x2="262.3" y2="1408.9" stroke="#ee1111" stroke-width="2.6"/><line x1="262.3" y1="1408.9" x2="328.1" y2="1416.3" stroke="#f07820" stroke-width="2.6"/><line x1="196.6" y1="1401.5" x2="172.7" y2="1414.6" stroke="#ee1111" stroke-width="2.6"/><line x1="172.7" y1="1414.6" x2="148.8" y2="1427.7" stroke="#f0e040" stroke-width="2.6"/><line x1="196.6" y1="1401.5" x2="169.5" y2="1417.5" stroke="#ee1111" stroke-width="2.6"/><line x1="169.5" y1="1417.5" x2="142.4" y2="1433.4" stroke="#f07820" stroke-width="2.6"/></g>
<circle cx="196.6" cy="1401.5" r="6" fill="url(#gV)"/>
<line x1="813.8" y1="1328.4" x2="817.8" y2="1326.9" stroke="#1c1c1c" stroke-width="2.2" stroke-linecap="round"/>
<line x1="242.7" y1="797" x2="246.7" y2="795.5" stroke="#1c1c1c" stroke-width="2.2" stroke-linecap="round"/>
<line x1="754.1" y1="775.9" x2="767.2" y2="775.9" stroke="#1c1c1c" stroke-width="2.2" stroke-linecap="round"/>
<line x1="767.2" y1="775.9" x2="780.3" y2="775.9" stroke="#1c1c1c" stroke-width="2.2" stroke-linecap="round"/>
<line x1="780.3" y1="775.9" x2="793.5" y2="775.9" stroke="#1c1c1c" stroke-width="2.2" stroke-linecap="round"/>
<line x1="793.5" y1="775.9" x2="806.6" y2="775.8" stroke="#1c1c1c" stroke-width="2.2" stroke-linecap="round"/>
<line x1="806.6" y1="775.8" x2="819.7" y2="775.8" stroke="#1c1c1c" stroke-width="2.2" stroke-linecap="round"/>
<line x1="799.7" y1="783.6" x2="803.7" y2="782" stroke="#1c1c1c" stroke-width="2.2" stroke-linecap="round"/>
<line x1="803.7" y1="782" x2="807.7" y2="780.5" stroke="#1c1c1c" stroke-width="2.2" stroke-linecap="round"/>
<line x1="807.7" y1="780.5" x2="811.7" y2="778.9" stroke="#1c1c1c" stroke-width="2.2" stroke-linecap="round"/>
<line x1="811.7" y1="778.9" x2="815.7" y2="777.4" stroke="#1c1c1c" stroke-width="2.2" stroke-linecap="round"/>
<line x1="815.7" y1="777.4" x2="819.7" y2="775.8" stroke="#1c1c1c" stroke-width="2.2" stroke-linecap="round"/>
<line x1="819.7" y1="775.8" x2="820.2" y2="789.4" stroke="#1c1c1c" stroke-width="2.2" stroke-linecap="round"/>
<line x1="820.2" y1="789.4" x2="820.6" y2="803" stroke="#1c1c1c" stroke-width="2.2" stroke-linecap="round"/>
<line x1="820.6" y1="803" x2="821.1" y2="816.5" stroke="#1c1c1c" stroke-width="2.2" stroke-linecap="round"/>
<line x1="821.1" y1="816.5" x2="821.5" y2="830.1" stroke="#1c1c1c" stroke-width="2.2" stroke-linecap="round"/>
<line x1="821.5" y1="830.1" x2="822" y2="843.7" stroke="#1c1c1c" stroke-width="2.2" stroke-linecap="round"/>
<polygon points="767.8,693.9 866.7,710.5 729.3,858" fill="#c4fb8b" fill-opacity="0.7"/>
<polygon points="866.7,710.5 915,840.8 729.3,858" fill="#65c458" fill-opacity="0.7"/>
<polygon points="767.8,693.9 866.7,710.5 827.1,753.1" fill="#f4ffe0" fill-opacity="0.38"/>
<circle cx="819.7" cy="775.8" r="8" fill="url(#gGa)"/>
<line x1="809.8" y1="1330" x2="813.8" y2="1328.4" stroke="#1c1c1c" stroke-width="2.2" stroke-linecap="round"/>
<line x1="238.7" y1="798.6" x2="242.7" y2="797" stroke="#1c1c1c" stroke-width="2.2" stroke-linecap="round"/>
<circle cx="767.8" cy="693.9" r="5.4" fill="url(#gSe)"/>
<circle cx="915" cy="840.8" r="5.4" fill="url(#gSe)"/>
<line x1="805.8" y1="1331.6" x2="809.8" y2="1330" stroke="#1c1c1c" stroke-width="2.2" stroke-linecap="round"/>
<line x1="234.7" y1="800.2" x2="238.7" y2="798.6" stroke="#1c1c1c" stroke-width="2.2" stroke-linecap="round"/>
<circle cx="884.8" cy="1253.8" r="5.4" fill="url(#gSe)"/>
<circle cx="729.3" cy="858" r="5.4" fill="url(#gSe)"/>
<line x1="801.8" y1="1333.1" x2="805.8" y2="1331.6" stroke="#1c1c1c" stroke-width="2.2" stroke-linecap="round"/>
<line x1="212.8" y1="1359" x2="216.8" y2="1357.5" stroke="#1c1c1c" stroke-width="2.2" stroke-linecap="round"/>
<line x1="216.8" y1="1357.5" x2="220.8" y2="1355.9" stroke="#1c1c1c" stroke-width="2.2" stroke-linecap="round"/>
<line x1="220.8" y1="1355.9" x2="224.8" y2="1354.4" stroke="#1c1c1c" stroke-width="2.2" stroke-linecap="round"/>
<line x1="224.8" y1="1354.4" x2="228.8" y2="1352.8" stroke="#1c1c1c" stroke-width="2.2" stroke-linecap="round"/>
<line x1="228.8" y1="1352.8" x2="232.8" y2="1351.2" stroke="#1c1c1c" stroke-width="2.2" stroke-linecap="round"/>
<line x1="232.8" y1="1351.2" x2="236.8" y2="1349.7" stroke="#1c1c1c" stroke-width="2.2" stroke-linecap="round"/>
<line x1="236.8" y1="1349.7" x2="240.8" y2="1348.1" stroke="#1c1c1c" stroke-width="2.2" stroke-linecap="round"/>
<line x1="240.8" y1="1348.1" x2="244.8" y2="1346.6" stroke="#1c1c1c" stroke-width="2.2" stroke-linecap="round"/>
<line x1="244.8" y1="1346.6" x2="248.8" y2="1345" stroke="#1c1c1c" stroke-width="2.2" stroke-linecap="round"/>
<line x1="248.8" y1="1345" x2="252.8" y2="1343.5" stroke="#1c1c1c" stroke-width="2.2" stroke-linecap="round"/>
<polygon points="159.4,1301.2 279.8,1285.9 272.8,1414.3 142.4,1433.4" fill="#b4dfe4" fill-opacity="0.62"/>
<polygon points="279.8,1285.9 302.4,1288 328.1,1416.3 272.8,1414.3" fill="#62b4bc" fill-opacity="0.8"/>
<polygon points="159.4,1301.2 279.8,1285.9 302.4,1288 180.9,1269.3" fill="#7bc1c3" fill-opacity="0.6"/>
<polygon points="171.8,997.7 270.8,1014.3 319,1144.6" fill="#69da44" fill-opacity="0.5"/>
<line x1="272.8" y1="1414.3" x2="274.6" y2="1352.4" stroke="#ee1111" stroke-width="2.6"/><line x1="274.6" y1="1352.4" x2="276.5" y2="1290.5" stroke="#f0e040" stroke-width="2.6"/><line x1="272.8" y1="1414.3" x2="276.3" y2="1350.1" stroke="#ee1111" stroke-width="2.6"/><line x1="276.3" y1="1350.1" x2="279.8" y2="1285.9" stroke="#f07820" stroke-width="2.6"/><line x1="272.8" y1="1414.3" x2="297.1" y2="1413" stroke="#ee1111" stroke-width="2.6"/><line x1="297.1" y1="1413" x2="321.4" y2="1411.7" stroke="#f0e040" stroke-width="2.6"/><line x1="272.8" y1="1414.3" x2="300.4" y2="1415.3" stroke="#ee1111" stroke-width="2.6"/><line x1="300.4" y1="1415.3" x2="328.1" y2="1416.3" stroke="#f07820" stroke-width="2.6"/><line x1="272.8" y1="1414.3" x2="210.8" y2="1421" stroke="#ee1111" stroke-width="2.6"/><line x1="210.8" y1="1421" x2="148.8" y2="1427.7" stroke="#f0e040" stroke-width="2.6"/><line x1="272.8" y1="1414.3" x2="207.6" y2="1423.9" stroke="#ee1111" stroke-width="2.6"/><line x1="207.6" y1="1423.9" x2="142.4" y2="1433.4" stroke="#f07820" stroke-width="2.6"/><line x1="159.4" y1="1301.2" x2="172" y2="1288.1" stroke="#ee1111" stroke-width="2.6"/><line x1="172" y1="1288.1" x2="184.5" y2="1275.1" stroke="#f0e040" stroke-width="2.6"/><line x1="159.4" y1="1301.2" x2="170.2" y2="1285.2" stroke="#ee1111" stroke-width="2.6"/><line x1="170.2" y1="1285.2" x2="180.9" y2="1269.3" stroke="#f07820" stroke-width="2.6"/><line x1="159.4" y1="1301.2" x2="218" y2="1295.8" stroke="#ee1111" stroke-width="2.6"/><line x1="218" y1="1295.8" x2="276.5" y2="1290.5" stroke="#f0e040" stroke-width="2.6"/><line x1="159.4" y1="1301.2" x2="219.6" y2="1293.6" stroke="#ee1111" stroke-width="2.6"/><line x1="219.6" y1="1293.6" x2="279.8" y2="1285.9" stroke="#f07820" stroke-width="2.6"/><line x1="159.4" y1="1301.2" x2="154.1" y2="1364.4" stroke="#ee1111" stroke-width="2.6"/><line x1="154.1" y1="1364.4" x2="148.8" y2="1427.7" stroke="#f0e040" stroke-width="2.6"/><line x1="159.4" y1="1301.2" x2="150.9" y2="1367.3" stroke="#ee1111" stroke-width="2.6"/><line x1="150.9" y1="1367.3" x2="142.4" y2="1433.4" stroke="#f07820" stroke-width="2.6"/><line x1="302.4" y1="1288" x2="243.5" y2="1281.5" stroke="#ee1111" stroke-width="2.6"/><line x1="243.5" y1="1281.5" x2="184.5" y2="1275.1" stroke="#f0e040" stroke-width="2.6"/><line x1="302.4" y1="1288" x2="241.6" y2="1278.6" stroke="#ee1111" stroke-width="2.6"/><line x1="241.6" y1="1278.6" x2="180.9" y2="1269.3" stroke="#f07820" stroke-width="2.6"/><line x1="302.4" y1="1288" x2="289.4" y2="1289.2" stroke="#ee1111" stroke-width="2.6"/><line x1="289.4" y1="1289.2" x2="276.5" y2="1290.5" stroke="#f0e040" stroke-width="2.6"/><line x1="302.4" y1="1288" x2="291.1" y2="1286.9" stroke="#ee1111" stroke-width="2.6"/><line x1="291.1" y1="1286.9" x2="279.8" y2="1285.9" stroke="#f07820" stroke-width="2.6"/><line x1="302.4" y1="1288" x2="311.9" y2="1349.8" stroke="#ee1111" stroke-width="2.6"/><line x1="311.9" y1="1349.8" x2="321.4" y2="1411.7" stroke="#f0e040" stroke-width="2.6"/><line x1="302.4" y1="1288" x2="315.2" y2="1352.1" stroke="#ee1111" stroke-width="2.6"/><line x1="315.2" y1="1352.1" x2="328.1" y2="1416.3" stroke="#f07820" stroke-width="2.6"/>
<polygon points="171.8,997.7 319,1144.6 133.4,1161.8" fill="#69da44" fill-opacity="0.5"/>
<line x1="797.8" y1="1334.7" x2="801.8" y2="1333.1" stroke="#1c1c1c" stroke-width="2.2" stroke-linecap="round"/>
<circle cx="184.5" cy="1275.1" r="4.3" fill="url(#gS)"/><circle cx="276.5" cy="1290.5" r="4.3" fill="url(#gS)"/><circle cx="321.4" cy="1411.7" r="4.3" fill="url(#gS)"/><circle cx="148.8" cy="1427.7" r="4.3" fill="url(#gS)"/><circle cx="180.9" cy="1269.3" r="5.2" fill="url(#gSe)"/><circle cx="279.8" cy="1285.9" r="5.2" fill="url(#gSe)"/><circle cx="328.1" cy="1416.3" r="5.2" fill="url(#gSe)"/><circle cx="142.4" cy="1433.4" r="5.2" fill="url(#gSe)"/><circle cx="272.8" cy="1414.3" r="6" fill="url(#gV)"/><circle cx="159.4" cy="1301.2" r="6" fill="url(#gV)"/><circle cx="302.4" cy="1288" r="6" fill="url(#gV)"/>
<g opacity="0.9"><line x1="178.5" y1="858.2" x2="172.5" y2="795" stroke="#ee1111" stroke-width="2.6"/><line x1="172.5" y1="795" x2="166.4" y2="731.8" stroke="#f0e040" stroke-width="2.6"/><line x1="178.5" y1="858.2" x2="170.6" y2="792.1" stroke="#ee1111" stroke-width="2.6"/><line x1="170.6" y1="792.1" x2="162.8" y2="726" stroke="#f07820" stroke-width="2.6"/><line x1="178.5" y1="858.2" x2="240.9" y2="863.3" stroke="#ee1111" stroke-width="2.6"/><line x1="240.9" y1="863.3" x2="303.3" y2="868.4" stroke="#f0e040" stroke-width="2.6"/><line x1="178.5" y1="858.2" x2="244.2" y2="865.6" stroke="#ee1111" stroke-width="2.6"/><line x1="244.2" y1="865.6" x2="310" y2="873" stroke="#f07820" stroke-width="2.6"/><line x1="178.5" y1="858.2" x2="154.6" y2="871.3" stroke="#ee1111" stroke-width="2.6"/><line x1="154.6" y1="871.3" x2="130.7" y2="884.4" stroke="#f0e040" stroke-width="2.6"/><line x1="178.5" y1="858.2" x2="151.4" y2="874.2" stroke="#ee1111" stroke-width="2.6"/><line x1="151.4" y1="874.2" x2="124.3" y2="890.1" stroke="#f07820" stroke-width="2.6"/></g>
<circle cx="178.5" cy="858.2" r="6" fill="url(#gV)"/>
<line x1="795.7" y1="785.1" x2="799.7" y2="783.6" stroke="#1c1c1c" stroke-width="2.2" stroke-linecap="round"/>
<line x1="793.8" y1="1336.2" x2="797.8" y2="1334.7" stroke="#1c1c1c" stroke-width="2.2" stroke-linecap="round"/>
<line x1="791.7" y1="786.7" x2="795.7" y2="785.1" stroke="#1c1c1c" stroke-width="2.2" stroke-linecap="round"/>
<line x1="789.8" y1="1337.8" x2="793.8" y2="1336.2" stroke="#1c1c1c" stroke-width="2.2" stroke-linecap="round"/>
<line x1="787.7" y1="788.3" x2="791.7" y2="786.7" stroke="#1c1c1c" stroke-width="2.2" stroke-linecap="round"/>
<polygon points="171.8,997.7 270.8,1014.3 133.4,1161.8" fill="#c4fb8b" fill-opacity="0.7"/>
<polygon points="270.8,1014.3 319,1144.6 133.4,1161.8" fill="#65c458" fill-opacity="0.7"/>
<circle cx="866.7" cy="710.5" r="5.4" fill="url(#gSe)"/>
<polygon points="171.8,997.7 270.8,1014.3 231.1,1056.9" fill="#f4ffe0" fill-opacity="0.38"/>
<polygon points="171.8,997.7 133.4,1161.8 231.1,1056.9" fill="#f4ffe0" fill-opacity="0.38"/>
<polygon points="270.8,1014.3 319,1144.6 133.4,1161.8" fill="#e8f4e8" fill-opacity="0.2"/>
<circle cx="223.8" cy="1079.6" r="8" fill="url(#gGa)"/>
<line x1="785.8" y1="1339.3" x2="789.8" y2="1337.8" stroke="#1c1c1c" stroke-width="2.2" stroke-linecap="round"/>
<polygon points="443.4,1268.8 542.3,1285.4 590.6,1415.8" fill="#69da44" fill-opacity="0.5"/>
<circle cx="171.8" cy="997.7" r="5.4" fill="url(#gSe)"/>
<circle cx="319" cy="1144.6" r="5.4" fill="url(#gSe)"/>
<polygon points="443.4,1268.8 590.6,1415.8 404.9,1432.9" fill="#69da44" fill-opacity="0.5"/>
<g opacity="0.9"><line x1="450.1" y1="1129.4" x2="444" y2="1066.2" stroke="#ee1111" stroke-width="2.6"/><line x1="444" y1="1066.2" x2="438" y2="1002.9" stroke="#f0e040" stroke-width="2.6"/><line x1="450.1" y1="1129.4" x2="442.2" y2="1063.3" stroke="#ee1111" stroke-width="2.6"/><line x1="442.2" y1="1063.3" x2="434.3" y2="997.2" stroke="#f07820" stroke-width="2.6"/><line x1="450.1" y1="1129.4" x2="512.5" y2="1134.5" stroke="#ee1111" stroke-width="2.6"/><line x1="512.5" y1="1134.5" x2="574.9" y2="1139.6" stroke="#f0e040" stroke-width="2.6"/><line x1="450.1" y1="1129.4" x2="515.8" y2="1136.8" stroke="#ee1111" stroke-width="2.6"/><line x1="515.8" y1="1136.8" x2="581.5" y2="1144.1" stroke="#f07820" stroke-width="2.6"/><line x1="450.1" y1="1129.4" x2="426.1" y2="1142.5" stroke="#ee1111" stroke-width="2.6"/><line x1="426.1" y1="1142.5" x2="402.2" y2="1155.5" stroke="#f0e040" stroke-width="2.6"/><line x1="450.1" y1="1129.4" x2="423" y2="1145.3" stroke="#ee1111" stroke-width="2.6"/><line x1="423" y1="1145.3" x2="395.9" y2="1161.3" stroke="#f07820" stroke-width="2.6"/></g>
<circle cx="450.1" cy="1129.4" r="6" fill="url(#gV)"/>
<line x1="783.7" y1="789.8" x2="787.7" y2="788.3" stroke="#1c1c1c" stroke-width="2.2" stroke-linecap="round"/>
<line x1="194.7" y1="815.7" x2="198.7" y2="814.2" stroke="#1c1c1c" stroke-width="2.2" stroke-linecap="round"/>
<line x1="198.7" y1="814.2" x2="202.7" y2="812.6" stroke="#1c1c1c" stroke-width="2.2" stroke-linecap="round"/>
<line x1="202.7" y1="812.6" x2="206.7" y2="811.1" stroke="#1c1c1c" stroke-width="2.2" stroke-linecap="round"/>
<line x1="206.7" y1="811.1" x2="210.7" y2="809.5" stroke="#1c1c1c" stroke-width="2.2" stroke-linecap="round"/>
<line x1="210.7" y1="809.5" x2="214.7" y2="808" stroke="#1c1c1c" stroke-width="2.2" stroke-linecap="round"/>
<line x1="214.7" y1="808" x2="218.7" y2="806.4" stroke="#1c1c1c" stroke-width="2.2" stroke-linecap="round"/>
<line x1="218.7" y1="806.4" x2="222.7" y2="804.8" stroke="#1c1c1c" stroke-width="2.2" stroke-linecap="round"/>
<line x1="222.7" y1="804.8" x2="226.7" y2="803.3" stroke="#1c1c1c" stroke-width="2.2" stroke-linecap="round"/>
<line x1="226.7" y1="803.3" x2="230.7" y2="801.7" stroke="#1c1c1c" stroke-width="2.2" stroke-linecap="round"/>
<line x1="230.7" y1="801.7" x2="234.7" y2="800.2" stroke="#1c1c1c" stroke-width="2.2" stroke-linecap="round"/>
<polygon points="141.3,757.9 261.7,742.6 254.7,871 124.3,890.1" fill="#b4dfe4" fill-opacity="0.62"/>
<polygon points="261.7,742.6 284.3,744.7 310,873 254.7,871" fill="#62b4bc" fill-opacity="0.8"/>
<polygon points="141.3,757.9 261.7,742.6 284.3,744.7 162.8,726" fill="#7bc1c3" fill-opacity="0.6"/>
<line x1="781.8" y1="1340.9" x2="785.8" y2="1339.3" stroke="#1c1c1c" stroke-width="2.2" stroke-linecap="round"/>
<line x1="254.7" y1="871" x2="256.5" y2="809.1" stroke="#ee1111" stroke-width="2.6"/><line x1="256.5" y1="809.1" x2="258.4" y2="747.2" stroke="#f0e040" stroke-width="2.6"/><line x1="254.7" y1="871" x2="258.2" y2="806.8" stroke="#ee1111" stroke-width="2.6"/><line x1="258.2" y1="806.8" x2="261.7" y2="742.6" stroke="#f07820" stroke-width="2.6"/><line x1="254.7" y1="871" x2="279" y2="869.7" stroke="#ee1111" stroke-width="2.6"/><line x1="279" y1="869.7" x2="303.3" y2="868.4" stroke="#f0e040" stroke-width="2.6"/><line x1="254.7" y1="871" x2="282.3" y2="872" stroke="#ee1111" stroke-width="2.6"/><line x1="282.3" y1="872" x2="310" y2="873" stroke="#f07820" stroke-width="2.6"/><line x1="254.7" y1="871" x2="192.7" y2="877.7" stroke="#ee1111" stroke-width="2.6"/><line x1="192.7" y1="877.7" x2="130.7" y2="884.4" stroke="#f0e040" stroke-width="2.6"/><line x1="254.7" y1="871" x2="189.5" y2="880.6" stroke="#ee1111" stroke-width="2.6"/><line x1="189.5" y1="880.6" x2="124.3" y2="890.1" stroke="#f07820" stroke-width="2.6"/><line x1="141.3" y1="757.9" x2="153.9" y2="744.8" stroke="#ee1111" stroke-width="2.6"/><line x1="153.9" y1="744.8" x2="166.4" y2="731.8" stroke="#f0e040" stroke-width="2.6"/><line x1="141.3" y1="757.9" x2="152.1" y2="741.9" stroke="#ee1111" stroke-width="2.6"/><line x1="152.1" y1="741.9" x2="162.8" y2="726" stroke="#f07820" stroke-width="2.6"/><line x1="141.3" y1="757.9" x2="199.9" y2="752.5" stroke="#ee1111" stroke-width="2.6"/><line x1="199.9" y1="752.5" x2="258.4" y2="747.2" stroke="#f0e040" stroke-width="2.6"/><line x1="141.3" y1="757.9" x2="201.5" y2="750.3" stroke="#ee1111" stroke-width="2.6"/><line x1="201.5" y1="750.3" x2="261.7" y2="742.6" stroke="#f07820" stroke-width="2.6"/><line x1="141.3" y1="757.9" x2="136" y2="821.1" stroke="#ee1111" stroke-width="2.6"/><line x1="136" y1="821.1" x2="130.7" y2="884.4" stroke="#f0e040" stroke-width="2.6"/><line x1="141.3" y1="757.9" x2="132.8" y2="824" stroke="#ee1111" stroke-width="2.6"/><line x1="132.8" y1="824" x2="124.3" y2="890.1" stroke="#f07820" stroke-width="2.6"/><line x1="284.3" y1="744.7" x2="225.4" y2="738.2" stroke="#ee1111" stroke-width="2.6"/><line x1="225.4" y1="738.2" x2="166.4" y2="731.8" stroke="#f0e040" stroke-width="2.6"/><line x1="284.3" y1="744.7" x2="223.5" y2="735.3" stroke="#ee1111" stroke-width="2.6"/><line x1="223.5" y1="735.3" x2="162.8" y2="726" stroke="#f07820" stroke-width="2.6"/><line x1="284.3" y1="744.7" x2="271.3" y2="745.9" stroke="#ee1111" stroke-width="2.6"/><line x1="271.3" y1="745.9" x2="258.4" y2="747.2" stroke="#f0e040" stroke-width="2.6"/><line x1="284.3" y1="744.7" x2="273" y2="743.6" stroke="#ee1111" stroke-width="2.6"/><line x1="273" y1="743.6" x2="261.7" y2="742.6" stroke="#f07820" stroke-width="2.6"/><line x1="284.3" y1="744.7" x2="293.8" y2="806.5" stroke="#ee1111" stroke-width="2.6"/><line x1="293.8" y1="806.5" x2="303.3" y2="868.4" stroke="#f0e040" stroke-width="2.6"/><line x1="284.3" y1="744.7" x2="297.1" y2="808.8" stroke="#ee1111" stroke-width="2.6"/><line x1="297.1" y1="808.8" x2="310" y2="873" stroke="#f07820" stroke-width="2.6"/>
<line x1="208.8" y1="1360.6" x2="212.8" y2="1359" stroke="#1c1c1c" stroke-width="2.2" stroke-linecap="round"/>
<circle cx="133.4" cy="1161.8" r="5.4" fill="url(#gSe)"/>
<line x1="779.7" y1="791.4" x2="783.7" y2="789.8" stroke="#1c1c1c" stroke-width="2.2" stroke-linecap="round"/>
<circle cx="166.4" cy="731.8" r="4.3" fill="url(#gS)"/><circle cx="258.4" cy="747.2" r="4.3" fill="url(#gS)"/><circle cx="303.3" cy="868.4" r="4.3" fill="url(#gS)"/><circle cx="130.7" cy="884.4" r="4.3" fill="url(#gS)"/><circle cx="162.8" cy="726" r="5.2" fill="url(#gSe)"/><circle cx="261.7" cy="742.6" r="5.2" fill="url(#gSe)"/><circle cx="310" cy="873" r="5.2" fill="url(#gSe)"/><circle cx="124.3" cy="890.1" r="5.2" fill="url(#gSe)"/><circle cx="254.7" cy="871" r="6" fill="url(#gV)"/><circle cx="141.3" cy="757.9" r="6" fill="url(#gV)"/><circle cx="284.3" cy="744.7" r="6" fill="url(#gV)"/>
<line x1="777.8" y1="1342.5" x2="781.8" y2="1340.9" stroke="#1c1c1c" stroke-width="2.2" stroke-linecap="round"/>
<line x1="204.8" y1="1362.2" x2="208.8" y2="1360.6" stroke="#1c1c1c" stroke-width="2.2" stroke-linecap="round"/>
<line x1="775.7" y1="792.9" x2="779.7" y2="791.4" stroke="#1c1c1c" stroke-width="2.2" stroke-linecap="round"/>
<polygon points="443.4,1268.8 542.3,1285.4 404.9,1432.9" fill="#c4fb8b" fill-opacity="0.7"/>
<polygon points="542.3,1285.4 590.6,1415.8 404.9,1432.9" fill="#65c458" fill-opacity="0.7"/>
<polygon points="443.4,1268.8 404.9,1432.9 502.7,1328" fill="#f4ffe0" fill-opacity="0.38"/>
<line x1="200.8" y1="1363.7" x2="204.8" y2="1362.2" stroke="#1c1c1c" stroke-width="2.2" stroke-linecap="round"/>
<circle cx="495.3" cy="1350.8" r="8" fill="url(#gGa)"/>
<circle cx="443.4" cy="1268.8" r="5.4" fill="url(#gSe)"/>
<circle cx="590.6" cy="1415.8" r="5.4" fill="url(#gSe)"/>
<line x1="771.7" y1="794.5" x2="775.7" y2="792.9" stroke="#1c1c1c" stroke-width="2.2" stroke-linecap="round"/>
<g opacity="0.9"><line x1="721.6" y1="1400.5" x2="715.6" y2="1337.3" stroke="#ee1111" stroke-width="2.6"/><line x1="715.6" y1="1337.3" x2="709.5" y2="1274.1" stroke="#f0e040" stroke-width="2.6"/><line x1="721.6" y1="1400.5" x2="713.7" y2="1334.4" stroke="#ee1111" stroke-width="2.6"/><line x1="713.7" y1="1334.4" x2="705.9" y2="1268.3" stroke="#f07820" stroke-width="2.6"/><line x1="721.6" y1="1400.5" x2="784" y2="1405.6" stroke="#ee1111" stroke-width="2.6"/><line x1="784" y1="1405.6" x2="846.4" y2="1410.7" stroke="#f0e040" stroke-width="2.6"/><line x1="721.6" y1="1400.5" x2="787.3" y2="1407.9" stroke="#ee1111" stroke-width="2.6"/><line x1="787.3" y1="1407.9" x2="853.1" y2="1415.3" stroke="#f07820" stroke-width="2.6"/><line x1="721.6" y1="1400.5" x2="697.7" y2="1413.6" stroke="#ee1111" stroke-width="2.6"/><line x1="697.7" y1="1413.6" x2="673.8" y2="1426.7" stroke="#f0e040" stroke-width="2.6"/><line x1="721.6" y1="1400.5" x2="694.5" y2="1416.5" stroke="#ee1111" stroke-width="2.6"/><line x1="694.5" y1="1416.5" x2="667.4" y2="1432.4" stroke="#f07820" stroke-width="2.6"/></g>
<circle cx="721.6" cy="1400.5" r="6" fill="url(#gV)"/>
<line x1="196.8" y1="1365.3" x2="200.8" y2="1363.7" stroke="#1c1c1c" stroke-width="2.2" stroke-linecap="round"/>
<polygon points="412.9,1029 533.3,1013.8 526.2,1142.2 395.9,1161.3" fill="#b4dfe4" fill-opacity="0.62"/>
<polygon points="533.3,1013.8 555.8,1015.8 581.5,1144.1 526.2,1142.2" fill="#62b4bc" fill-opacity="0.8"/>
<polygon points="412.9,1029 533.3,1013.8 555.8,1015.8 434.3,997.2" fill="#7bc1c3" fill-opacity="0.6"/>
<line x1="767.7" y1="796" x2="771.7" y2="794.5" stroke="#1c1c1c" stroke-width="2.2" stroke-linecap="round"/>
<polygon points="425.3,725.5 524.2,742.1 572.5,872.5" fill="#69da44" fill-opacity="0.5"/>
<line x1="526.2" y1="1142.2" x2="528.1" y2="1080.3" stroke="#ee1111" stroke-width="2.6"/><line x1="528.1" y1="1080.3" x2="530" y2="1018.4" stroke="#f0e040" stroke-width="2.6"/><line x1="526.2" y1="1142.2" x2="529.7" y2="1078" stroke="#ee1111" stroke-width="2.6"/><line x1="529.7" y1="1078" x2="533.3" y2="1013.8" stroke="#f07820" stroke-width="2.6"/><line x1="526.2" y1="1142.2" x2="550.5" y2="1140.9" stroke="#ee1111" stroke-width="2.6"/><line x1="550.5" y1="1140.9" x2="574.9" y2="1139.6" stroke="#f0e040" stroke-width="2.6"/><line x1="526.2" y1="1142.2" x2="553.9" y2="1143.2" stroke="#ee1111" stroke-width="2.6"/><line x1="553.9" y1="1143.2" x2="581.5" y2="1144.1" stroke="#f07820" stroke-width="2.6"/><line x1="526.2" y1="1142.2" x2="464.2" y2="1148.9" stroke="#ee1111" stroke-width="2.6"/><line x1="464.2" y1="1148.9" x2="402.2" y2="1155.5" stroke="#f0e040" stroke-width="2.6"/><line x1="526.2" y1="1142.2" x2="461.1" y2="1151.7" stroke="#ee1111" stroke-width="2.6"/><line x1="461.1" y1="1151.7" x2="395.9" y2="1161.3" stroke="#f07820" stroke-width="2.6"/><line x1="412.9" y1="1029" x2="425.4" y2="1016" stroke="#ee1111" stroke-width="2.6"/><line x1="425.4" y1="1016" x2="438" y2="1002.9" stroke="#f0e040" stroke-width="2.6"/><line x1="412.9" y1="1029" x2="423.6" y2="1013.1" stroke="#ee1111" stroke-width="2.6"/><line x1="423.6" y1="1013.1" x2="434.3" y2="997.2" stroke="#f07820" stroke-width="2.6"/><line x1="412.9" y1="1029" x2="471.4" y2="1023.7" stroke="#ee1111" stroke-width="2.6"/><line x1="471.4" y1="1023.7" x2="530" y2="1018.4" stroke="#f0e040" stroke-width="2.6"/><line x1="412.9" y1="1029" x2="473.1" y2="1021.4" stroke="#ee1111" stroke-width="2.6"/><line x1="473.1" y1="1021.4" x2="533.3" y2="1013.8" stroke="#f07820" stroke-width="2.6"/><line x1="412.9" y1="1029" x2="407.6" y2="1092.3" stroke="#ee1111" stroke-width="2.6"/><line x1="407.6" y1="1092.3" x2="402.2" y2="1155.5" stroke="#f0e040" stroke-width="2.6"/><line x1="412.9" y1="1029" x2="404.4" y2="1095.2" stroke="#ee1111" stroke-width="2.6"/><line x1="404.4" y1="1095.2" x2="395.9" y2="1161.3" stroke="#f07820" stroke-width="2.6"/><line x1="555.8" y1="1015.8" x2="496.9" y2="1009.4" stroke="#ee1111" stroke-width="2.6"/><line x1="496.9" y1="1009.4" x2="438" y2="1002.9" stroke="#f0e040" stroke-width="2.6"/><line x1="555.8" y1="1015.8" x2="495.1" y2="1006.5" stroke="#ee1111" stroke-width="2.6"/><line x1="495.1" y1="1006.5" x2="434.3" y2="997.2" stroke="#f07820" stroke-width="2.6"/><line x1="555.8" y1="1015.8" x2="542.9" y2="1017.1" stroke="#ee1111" stroke-width="2.6"/><line x1="542.9" y1="1017.1" x2="530" y2="1018.4" stroke="#f0e040" stroke-width="2.6"/><line x1="555.8" y1="1015.8" x2="544.5" y2="1014.8" stroke="#ee1111" stroke-width="2.6"/><line x1="544.5" y1="1014.8" x2="533.3" y2="1013.8" stroke="#f07820" stroke-width="2.6"/><line x1="555.8" y1="1015.8" x2="565.3" y2="1077.7" stroke="#ee1111" stroke-width="2.6"/><line x1="565.3" y1="1077.7" x2="574.9" y2="1139.6" stroke="#f0e040" stroke-width="2.6"/><line x1="555.8" y1="1015.8" x2="568.7" y2="1080" stroke="#ee1111" stroke-width="2.6"/><line x1="568.7" y1="1080" x2="581.5" y2="1144.1" stroke="#f07820" stroke-width="2.6"/>
<polygon points="425.3,725.5 572.5,872.5 386.8,889.6" fill="#69da44" fill-opacity="0.5"/>
<circle cx="404.9" cy="1432.9" r="5.4" fill="url(#gSe)"/>
<circle cx="438" cy="1002.9" r="4.3" fill="url(#gS)"/><circle cx="530" cy="1018.4" r="4.3" fill="url(#gS)"/><circle cx="574.9" cy="1139.6" r="4.3" fill="url(#gS)"/><circle cx="402.2" cy="1155.5" r="4.3" fill="url(#gS)"/><circle cx="434.3" cy="997.2" r="5.2" fill="url(#gSe)"/><circle cx="533.3" cy="1013.8" r="5.2" fill="url(#gSe)"/><circle cx="581.5" cy="1144.1" r="5.2" fill="url(#gSe)"/><circle cx="395.9" cy="1161.3" r="5.2" fill="url(#gSe)"/><circle cx="526.2" cy="1142.2" r="6" fill="url(#gV)"/><circle cx="412.9" cy="1029" r="6" fill="url(#gV)"/><circle cx="555.8" cy="1015.8" r="6" fill="url(#gV)"/>
<line x1="192.8" y1="1366.8" x2="196.8" y2="1365.3" stroke="#1c1c1c" stroke-width="2.2" stroke-linecap="round"/>
<line x1="763.7" y1="797.6" x2="767.7" y2="796" stroke="#1c1c1c" stroke-width="2.2" stroke-linecap="round"/>
<circle cx="270.8" cy="1014.3" r="5.4" fill="url(#gSe)"/>
<line x1="190.7" y1="817.3" x2="194.7" y2="815.7" stroke="#1c1c1c" stroke-width="2.2" stroke-linecap="round"/>
<line x1="188.8" y1="1368.4" x2="192.8" y2="1366.8" stroke="#1c1c1c" stroke-width="2.2" stroke-linecap="round"/>
<line x1="759.7" y1="799.2" x2="763.7" y2="797.6" stroke="#1c1c1c" stroke-width="2.2" stroke-linecap="round"/>
<line x1="186.7" y1="818.9" x2="190.7" y2="817.3" stroke="#1c1c1c" stroke-width="2.2" stroke-linecap="round"/>
<line x1="184.8" y1="1369.9" x2="188.8" y2="1368.4" stroke="#1c1c1c" stroke-width="2.2" stroke-linecap="round"/>
<line x1="737.8" y1="1358" x2="741.8" y2="1356.5" stroke="#1c1c1c" stroke-width="2.2" stroke-linecap="round"/>
<line x1="741.8" y1="1356.5" x2="745.8" y2="1354.9" stroke="#1c1c1c" stroke-width="2.2" stroke-linecap="round"/>
<line x1="745.8" y1="1354.9" x2="749.8" y2="1353.4" stroke="#1c1c1c" stroke-width="2.2" stroke-linecap="round"/>
<line x1="749.8" y1="1353.4" x2="753.8" y2="1351.8" stroke="#1c1c1c" stroke-width="2.2" stroke-linecap="round"/>
<line x1="753.8" y1="1351.8" x2="757.8" y2="1350.2" stroke="#1c1c1c" stroke-width="2.2" stroke-linecap="round"/>
<line x1="757.8" y1="1350.2" x2="761.8" y2="1348.7" stroke="#1c1c1c" stroke-width="2.2" stroke-linecap="round"/>
<line x1="761.8" y1="1348.7" x2="765.8" y2="1347.1" stroke="#1c1c1c" stroke-width="2.2" stroke-linecap="round"/>
<line x1="765.8" y1="1347.1" x2="769.8" y2="1345.6" stroke="#1c1c1c" stroke-width="2.2" stroke-linecap="round"/>
<line x1="769.8" y1="1345.6" x2="773.8" y2="1344" stroke="#1c1c1c" stroke-width="2.2" stroke-linecap="round"/>
<line x1="773.8" y1="1344" x2="777.8" y2="1342.5" stroke="#1c1c1c" stroke-width="2.2" stroke-linecap="round"/>
<polygon points="425.3,725.5 524.2,742.1 386.8,889.6" fill="#c4fb8b" fill-opacity="0.7"/>
<polygon points="524.2,742.1 572.5,872.5 386.8,889.6" fill="#65c458" fill-opacity="0.7"/>
<polygon points="684.4,1300.2 804.8,1284.9 797.8,1413.3 667.4,1432.4" fill="#b4dfe4" fill-opacity="0.62"/>
<polygon points="804.8,1284.9 827.4,1287 853.1,1415.3 797.8,1413.3" fill="#62b4bc" fill-opacity="0.8"/>
<polygon points="684.4,1300.2 804.8,1284.9 827.4,1287 705.9,1268.3" fill="#7bc1c3" fill-opacity="0.6"/>
<line x1="182.7" y1="820.4" x2="186.7" y2="818.9" stroke="#1c1c1c" stroke-width="2.2" stroke-linecap="round"/>
<circle cx="477.2" cy="807.5" r="8" fill="url(#gGa)"/>
<polygon points="696.8,996.7 795.8,1013.3 844,1143.6" fill="#69da44" fill-opacity="0.5"/>
<circle cx="425.3" cy="725.5" r="5.4" fill="url(#gSe)"/>
<circle cx="572.5" cy="872.5" r="5.4" fill="url(#gSe)"/>
<line x1="797.8" y1="1413.3" x2="799.6" y2="1351.4" stroke="#ee1111" stroke-width="2.6"/><line x1="799.6" y1="1351.4" x2="801.5" y2="1289.5" stroke="#f0e040" stroke-width="2.6"/><line x1="797.8" y1="1413.3" x2="801.3" y2="1349.1" stroke="#ee1111" stroke-width="2.6"/><line x1="801.3" y1="1349.1" x2="804.8" y2="1284.9" stroke="#f07820" stroke-width="2.6"/><line x1="797.8" y1="1413.3" x2="822.1" y2="1412" stroke="#ee1111" stroke-width="2.6"/><line x1="822.1" y1="1412" x2="846.4" y2="1410.7" stroke="#f0e040" stroke-width="2.6"/><line x1="797.8" y1="1413.3" x2="825.4" y2="1414.3" stroke="#ee1111" stroke-width="2.6"/><line x1="825.4" y1="1414.3" x2="853.1" y2="1415.3" stroke="#f07820" stroke-width="2.6"/><line x1="797.8" y1="1413.3" x2="735.8" y2="1420" stroke="#ee1111" stroke-width="2.6"/><line x1="735.8" y1="1420" x2="673.8" y2="1426.7" stroke="#f0e040" stroke-width="2.6"/><line x1="797.8" y1="1413.3" x2="732.6" y2="1422.9" stroke="#ee1111" stroke-width="2.6"/><line x1="732.6" y1="1422.9" x2="667.4" y2="1432.4" stroke="#f07820" stroke-width="2.6"/><line x1="684.4" y1="1300.2" x2="697" y2="1287.1" stroke="#ee1111" stroke-width="2.6"/><line x1="697" y1="1287.1" x2="709.5" y2="1274.1" stroke="#f0e040" stroke-width="2.6"/><line x1="684.4" y1="1300.2" x2="695.2" y2="1284.2" stroke="#ee1111" stroke-width="2.6"/><line x1="695.2" y1="1284.2" x2="705.9" y2="1268.3" stroke="#f07820" stroke-width="2.6"/><line x1="684.4" y1="1300.2" x2="743" y2="1294.8" stroke="#ee1111" stroke-width="2.6"/><line x1="743" y1="1294.8" x2="801.5" y2="1289.5" stroke="#f0e040" stroke-width="2.6"/><line x1="684.4" y1="1300.2" x2="744.6" y2="1292.6" stroke="#ee1111" stroke-width="2.6"/><line x1="744.6" y1="1292.6" x2="804.8" y2="1284.9" stroke="#f07820" stroke-width="2.6"/><line x1="684.4" y1="1300.2" x2="679.1" y2="1363.4" stroke="#ee1111" stroke-width="2.6"/><line x1="679.1" y1="1363.4" x2="673.8" y2="1426.7" stroke="#f0e040" stroke-width="2.6"/><line x1="684.4" y1="1300.2" x2="675.9" y2="1366.3" stroke="#ee1111" stroke-width="2.6"/><line x1="675.9" y1="1366.3" x2="667.4" y2="1432.4" stroke="#f07820" stroke-width="2.6"/><line x1="827.4" y1="1287" x2="768.5" y2="1280.5" stroke="#ee1111" stroke-width="2.6"/><line x1="768.5" y1="1280.5" x2="709.5" y2="1274.1" stroke="#f0e040" stroke-width="2.6"/><line x1="827.4" y1="1287" x2="766.6" y2="1277.6" stroke="#ee1111" stroke-width="2.6"/><line x1="766.6" y1="1277.6" x2="705.9" y2="1268.3" stroke="#f07820" stroke-width="2.6"/><line x1="827.4" y1="1287" x2="814.4" y2="1288.2" stroke="#ee1111" stroke-width="2.6"/><line x1="814.4" y1="1288.2" x2="801.5" y2="1289.5" stroke="#f0e040" stroke-width="2.6"/><line x1="827.4" y1="1287" x2="816.1" y2="1285.9" stroke="#ee1111" stroke-width="2.6"/><line x1="816.1" y1="1285.9" x2="804.8" y2="1284.9" stroke="#f07820" stroke-width="2.6"/><line x1="827.4" y1="1287" x2="836.9" y2="1348.8" stroke="#ee1111" stroke-width="2.6"/><line x1="836.9" y1="1348.8" x2="846.4" y2="1410.7" stroke="#f0e040" stroke-width="2.6"/><line x1="827.4" y1="1287" x2="840.2" y2="1351.1" stroke="#ee1111" stroke-width="2.6"/><line x1="840.2" y1="1351.1" x2="853.1" y2="1415.3" stroke="#f07820" stroke-width="2.6"/>
<polygon points="696.8,996.7 844,1143.6 658.4,1160.8" fill="#69da44" fill-opacity="0.5"/>
<line x1="180.8" y1="1371.5" x2="184.8" y2="1369.9" stroke="#1c1c1c" stroke-width="2.2" stroke-linecap="round"/>
<g opacity="0.9"><line x1="703.5" y1="857.2" x2="697.5" y2="794" stroke="#ee1111" stroke-width="2.6"/><line x1="697.5" y1="794" x2="691.4" y2="730.8" stroke="#f0e040" stroke-width="2.6"/><line x1="703.5" y1="857.2" x2="695.6" y2="791.1" stroke="#ee1111" stroke-width="2.6"/><line x1="695.6" y1="791.1" x2="687.8" y2="725" stroke="#f07820" stroke-width="2.6"/><line x1="703.5" y1="857.2" x2="765.9" y2="862.3" stroke="#ee1111" stroke-width="2.6"/><line x1="765.9" y1="862.3" x2="828.3" y2="867.4" stroke="#f0e040" stroke-width="2.6"/><line x1="703.5" y1="857.2" x2="769.2" y2="864.6" stroke="#ee1111" stroke-width="2.6"/><line x1="769.2" y1="864.6" x2="835" y2="872" stroke="#f07820" stroke-width="2.6"/><line x1="703.5" y1="857.2" x2="679.6" y2="870.3" stroke="#ee1111" stroke-width="2.6"/><line x1="679.6" y1="870.3" x2="655.7" y2="883.4" stroke="#f0e040" stroke-width="2.6"/><line x1="703.5" y1="857.2" x2="676.4" y2="873.2" stroke="#ee1111" stroke-width="2.6"/><line x1="676.4" y1="873.2" x2="649.3" y2="889.1" stroke="#f07820" stroke-width="2.6"/></g>
<circle cx="709.5" cy="1274.1" r="4.3" fill="url(#gS)"/><circle cx="801.5" cy="1289.5" r="4.3" fill="url(#gS)"/><circle cx="846.4" cy="1410.7" r="4.3" fill="url(#gS)"/><circle cx="673.8" cy="1426.7" r="4.3" fill="url(#gS)"/><circle cx="705.9" cy="1268.3" r="5.2" fill="url(#gSe)"/><circle cx="804.8" cy="1284.9" r="5.2" fill="url(#gSe)"/><circle cx="853.1" cy="1415.3" r="5.2" fill="url(#gSe)"/><circle cx="667.4" cy="1432.4" r="5.2" fill="url(#gSe)"/><circle cx="797.8" cy="1413.3" r="6" fill="url(#gV)"/><circle cx="684.4" cy="1300.2" r="6" fill="url(#gV)"/><circle cx="827.4" cy="1287" r="6" fill="url(#gV)"/>
<circle cx="703.5" cy="857.2" r="6" fill="url(#gV)"/>
<line x1="178.7" y1="822" x2="182.7" y2="820.4" stroke="#1c1c1c" stroke-width="2.2" stroke-linecap="round"/>
<circle cx="542.3" cy="1285.4" r="5.4" fill="url(#gSe)"/>
<line x1="176.8" y1="1373.1" x2="180.8" y2="1371.5" stroke="#1c1c1c" stroke-width="2.2" stroke-linecap="round"/>
<circle cx="386.8" cy="889.6" r="5.4" fill="url(#gSe)"/>
<line x1="174.7" y1="823.5" x2="178.7" y2="822" stroke="#1c1c1c" stroke-width="2.2" stroke-linecap="round"/>
<line x1="172.8" y1="1374.6" x2="176.8" y2="1373.1" stroke="#1c1c1c" stroke-width="2.2" stroke-linecap="round"/>
<line x1="170.7" y1="825.1" x2="174.7" y2="823.5" stroke="#1c1c1c" stroke-width="2.2" stroke-linecap="round"/>
<polygon points="696.8,996.7 795.8,1013.3 658.4,1160.8" fill="#c4fb8b" fill-opacity="0.7"/>
<polygon points="795.8,1013.3 844,1143.6 658.4,1160.8" fill="#65c458" fill-opacity="0.7"/>
<polygon points="696.8,996.7 658.4,1160.8 756.1,1055.9" fill="#f4ffe0" fill-opacity="0.38"/>
<circle cx="748.8" cy="1078.6" r="8" fill="url(#gGa)"/>
<circle cx="696.8" cy="996.7" r="5.4" fill="url(#gSe)"/>
<circle cx="844" cy="1143.6" r="5.4" fill="url(#gSe)"/>
<line x1="166.7" y1="826.6" x2="170.7" y2="825.1" stroke="#1c1c1c" stroke-width="2.2" stroke-linecap="round"/>
<line x1="719.7" y1="814.7" x2="723.7" y2="813.2" stroke="#1c1c1c" stroke-width="2.2" stroke-linecap="round"/>
<line x1="723.7" y1="813.2" x2="727.7" y2="811.6" stroke="#1c1c1c" stroke-width="2.2" stroke-linecap="round"/>
<line x1="727.7" y1="811.6" x2="731.7" y2="810.1" stroke="#1c1c1c" stroke-width="2.2" stroke-linecap="round"/>
<line x1="731.7" y1="810.1" x2="735.7" y2="808.5" stroke="#1c1c1c" stroke-width="2.2" stroke-linecap="round"/>
<line x1="735.7" y1="808.5" x2="739.7" y2="807" stroke="#1c1c1c" stroke-width="2.2" stroke-linecap="round"/>
<line x1="739.7" y1="807" x2="743.7" y2="805.4" stroke="#1c1c1c" stroke-width="2.2" stroke-linecap="round"/>
<line x1="743.7" y1="805.4" x2="747.7" y2="803.8" stroke="#1c1c1c" stroke-width="2.2" stroke-linecap="round"/>
<line x1="747.7" y1="803.8" x2="751.7" y2="802.3" stroke="#1c1c1c" stroke-width="2.2" stroke-linecap="round"/>
<line x1="751.7" y1="802.3" x2="755.7" y2="800.7" stroke="#1c1c1c" stroke-width="2.2" stroke-linecap="round"/>
<line x1="755.7" y1="800.7" x2="759.7" y2="799.2" stroke="#1c1c1c" stroke-width="2.2" stroke-linecap="round"/>
<polygon points="666.3,756.9 786.7,741.6 779.7,870 649.3,889.1" fill="#b4dfe4" fill-opacity="0.62"/>
<polygon points="786.7,741.6 809.3,743.7 835,872 779.7,870" fill="#62b4bc" fill-opacity="0.8"/>
<polygon points="666.3,756.9 786.7,741.6 809.3,743.7 687.8,725" fill="#7bc1c3" fill-opacity="0.6"/>
<line x1="779.7" y1="870" x2="781.5" y2="808.1" stroke="#ee1111" stroke-width="2.6"/><line x1="781.5" y1="808.1" x2="783.4" y2="746.2" stroke="#f0e040" stroke-width="2.6"/><line x1="779.7" y1="870" x2="783.2" y2="805.8" stroke="#ee1111" stroke-width="2.6"/><line x1="783.2" y1="805.8" x2="786.7" y2="741.6" stroke="#f07820" stroke-width="2.6"/><line x1="779.7" y1="870" x2="804" y2="868.7" stroke="#ee1111" stroke-width="2.6"/><line x1="804" y1="868.7" x2="828.3" y2="867.4" stroke="#f0e040" stroke-width="2.6"/><line x1="779.7" y1="870" x2="807.3" y2="871" stroke="#ee1111" stroke-width="2.6"/><line x1="807.3" y1="871" x2="835" y2="872" stroke="#f07820" stroke-width="2.6"/><line x1="779.7" y1="870" x2="717.7" y2="876.7" stroke="#ee1111" stroke-width="2.6"/><line x1="717.7" y1="876.7" x2="655.7" y2="883.4" stroke="#f0e040" stroke-width="2.6"/><line x1="779.7" y1="870" x2="714.5" y2="879.6" stroke="#ee1111" stroke-width="2.6"/><line x1="714.5" y1="879.6" x2="649.3" y2="889.1" stroke="#f07820" stroke-width="2.6"/><line x1="666.3" y1="756.9" x2="678.9" y2="743.8" stroke="#ee1111" stroke-width="2.6"/><line x1="678.9" y1="743.8" x2="691.4" y2="730.8" stroke="#f0e040" stroke-width="2.6"/><line x1="666.3" y1="756.9" x2="677.1" y2="740.9" stroke="#ee1111" stroke-width="2.6"/><line x1="677.1" y1="740.9" x2="687.8" y2="725" stroke="#f07820" stroke-width="2.6"/><line x1="666.3" y1="756.9" x2="724.9" y2="751.5" stroke="#ee1111" stroke-width="2.6"/><line x1="724.9" y1="751.5" x2="783.4" y2="746.2" stroke="#f0e040" stroke-width="2.6"/><line x1="666.3" y1="756.9" x2="726.5" y2="749.3" stroke="#ee1111" stroke-width="2.6"/><line x1="726.5" y1="749.3" x2="786.7" y2="741.6" stroke="#f07820" stroke-width="2.6"/><line x1="666.3" y1="756.9" x2="661" y2="820.1" stroke="#ee1111" stroke-width="2.6"/><line x1="661" y1="820.1" x2="655.7" y2="883.4" stroke="#f0e040" stroke-width="2.6"/><line x1="666.3" y1="756.9" x2="657.8" y2="823" stroke="#ee1111" stroke-width="2.6"/><line x1="657.8" y1="823" x2="649.3" y2="889.1" stroke="#f07820" stroke-width="2.6"/><line x1="809.3" y1="743.7" x2="750.4" y2="737.2" stroke="#ee1111" stroke-width="2.6"/><line x1="750.4" y1="737.2" x2="691.4" y2="730.8" stroke="#f0e040" stroke-width="2.6"/><line x1="809.3" y1="743.7" x2="748.5" y2="734.3" stroke="#ee1111" stroke-width="2.6"/><line x1="748.5" y1="734.3" x2="687.8" y2="725" stroke="#f07820" stroke-width="2.6"/><line x1="809.3" y1="743.7" x2="796.3" y2="744.9" stroke="#ee1111" stroke-width="2.6"/><line x1="796.3" y1="744.9" x2="783.4" y2="746.2" stroke="#f0e040" stroke-width="2.6"/><line x1="809.3" y1="743.7" x2="798" y2="742.6" stroke="#ee1111" stroke-width="2.6"/><line x1="798" y1="742.6" x2="786.7" y2="741.6" stroke="#f07820" stroke-width="2.6"/><line x1="809.3" y1="743.7" x2="818.8" y2="805.5" stroke="#ee1111" stroke-width="2.6"/><line x1="818.8" y1="805.5" x2="828.3" y2="867.4" stroke="#f0e040" stroke-width="2.6"/><line x1="809.3" y1="743.7" x2="822.1" y2="807.8" stroke="#ee1111" stroke-width="2.6"/><line x1="822.1" y1="807.8" x2="835" y2="872" stroke="#f07820" stroke-width="2.6"/>
<line x1="733.8" y1="1359.6" x2="737.8" y2="1358" stroke="#1c1c1c" stroke-width="2.2" stroke-linecap="round"/>
<line x1="162.7" y1="828.2" x2="166.7" y2="826.6" stroke="#1c1c1c" stroke-width="2.2" stroke-linecap="round"/>
<circle cx="658.4" cy="1160.8" r="5.4" fill="url(#gSe)"/>
<circle cx="691.4" cy="730.8" r="4.3" fill="url(#gS)"/><circle cx="783.4" cy="746.2" r="4.3" fill="url(#gS)"/><circle cx="828.3" cy="867.4" r="4.3" fill="url(#gS)"/><circle cx="655.7" cy="883.4" r="4.3" fill="url(#gS)"/><circle cx="687.8" cy="725" r="5.2" fill="url(#gSe)"/><circle cx="786.7" cy="741.6" r="5.2" fill="url(#gSe)"/><circle cx="835" cy="872" r="5.2" fill="url(#gSe)"/><circle cx="649.3" cy="889.1" r="5.2" fill="url(#gSe)"/><circle cx="779.7" cy="870" r="6" fill="url(#gV)"/><circle cx="666.3" cy="756.9" r="6" fill="url(#gV)"/><circle cx="809.3" cy="743.7" r="6" fill="url(#gV)"/>
<circle cx="524.2" cy="742.1" r="5.4" fill="url(#gSe)"/>
<line x1="729.8" y1="1361.2" x2="733.8" y2="1359.6" stroke="#1c1c1c" stroke-width="2.2" stroke-linecap="round"/>
<line x1="158.7" y1="829.8" x2="162.7" y2="828.2" stroke="#1c1c1c" stroke-width="2.2" stroke-linecap="round"/>
<polygon points="100.9,1300.5 199.8,1317.1 248.1,1447.4" fill="#69da44" fill-opacity="0.5"/>
<polygon points="100.9,1300.5 248.1,1447.4 62.4,1464.6" fill="#69da44" fill-opacity="0.5"/>
<g opacity="0.9"><line x1="107.6" y1="1161" x2="101.5" y2="1097.8" stroke="#ee1111" stroke-width="2.6"/><line x1="101.5" y1="1097.8" x2="95.5" y2="1034.6" stroke="#f0e040" stroke-width="2.6"/><line x1="107.6" y1="1161" x2="99.7" y2="1094.9" stroke="#ee1111" stroke-width="2.6"/><line x1="99.7" y1="1094.9" x2="91.8" y2="1028.8" stroke="#f07820" stroke-width="2.6"/><line x1="107.6" y1="1161" x2="170" y2="1166.1" stroke="#ee1111" stroke-width="2.6"/><line x1="170" y1="1166.1" x2="232.4" y2="1171.2" stroke="#f0e040" stroke-width="2.6"/><line x1="107.6" y1="1161" x2="173.3" y2="1168.4" stroke="#ee1111" stroke-width="2.6"/><line x1="173.3" y1="1168.4" x2="239" y2="1175.8" stroke="#f07820" stroke-width="2.6"/><line x1="107.6" y1="1161" x2="83.6" y2="1174.1" stroke="#ee1111" stroke-width="2.6"/><line x1="83.6" y1="1174.1" x2="59.7" y2="1187.2" stroke="#f0e040" stroke-width="2.6"/><line x1="107.6" y1="1161" x2="80.5" y2="1177" stroke="#ee1111" stroke-width="2.6"/><line x1="80.5" y1="1177" x2="53.4" y2="1192.9" stroke="#f07820" stroke-width="2.6"/></g>
<circle cx="107.6" cy="1161" r="6" fill="url(#gV)"/>
<line x1="725.8" y1="1362.7" x2="729.8" y2="1361.2" stroke="#1c1c1c" stroke-width="2.2" stroke-linecap="round"/>
<line x1="154.7" y1="831.3" x2="158.7" y2="829.8" stroke="#1c1c1c" stroke-width="2.2" stroke-linecap="round"/>
<line x1="721.8" y1="1364.3" x2="725.8" y2="1362.7" stroke="#1c1c1c" stroke-width="2.2" stroke-linecap="round"/>
<line x1="150.1" y1="1300.9" x2="150.5" y2="1314.5" stroke="#1c1c1c" stroke-width="2.2" stroke-linecap="round"/>
<line x1="149.6" y1="1287.3" x2="150.1" y2="1300.9" stroke="#1c1c1c" stroke-width="2.2" stroke-linecap="round"/>
<line x1="149.2" y1="1273.7" x2="149.6" y2="1287.3" stroke="#1c1c1c" stroke-width="2.2" stroke-linecap="round"/>
<line x1="148.7" y1="1260.2" x2="149.2" y2="1273.7" stroke="#1c1c1c" stroke-width="2.2" stroke-linecap="round"/>
<line x1="148.3" y1="1246.6" x2="148.7" y2="1260.2" stroke="#1c1c1c" stroke-width="2.2" stroke-linecap="round"/>
<line x1="717.8" y1="1365.8" x2="721.8" y2="1364.3" stroke="#1c1c1c" stroke-width="2.2" stroke-linecap="round"/>
<line x1="147.8" y1="1233" x2="148.3" y2="1246.6" stroke="#1c1c1c" stroke-width="2.2" stroke-linecap="round"/>
<line x1="147.4" y1="1219.4" x2="147.8" y2="1233" stroke="#1c1c1c" stroke-width="2.2" stroke-linecap="round"/>
<line x1="146.9" y1="1205.8" x2="147.4" y2="1219.4" stroke="#1c1c1c" stroke-width="2.2" stroke-linecap="round"/>
<line x1="152.8" y1="1382.4" x2="165.9" y2="1382.4" stroke="#1c1c1c" stroke-width="2.2" stroke-linecap="round"/>
<line x1="165.9" y1="1382.4" x2="179" y2="1382.3" stroke="#1c1c1c" stroke-width="2.2" stroke-linecap="round"/>
<line x1="179" y1="1382.3" x2="192.2" y2="1382.3" stroke="#1c1c1c" stroke-width="2.2" stroke-linecap="round"/>
<line x1="192.2" y1="1382.3" x2="205.3" y2="1382.3" stroke="#1c1c1c" stroke-width="2.2" stroke-linecap="round"/>
<line x1="205.3" y1="1382.3" x2="218.4" y2="1382.3" stroke="#1c1c1c" stroke-width="2.2" stroke-linecap="round"/>
<line x1="152.8" y1="1382.4" x2="156.8" y2="1380.8" stroke="#1c1c1c" stroke-width="2.2" stroke-linecap="round"/>
<line x1="156.8" y1="1380.8" x2="160.8" y2="1379.3" stroke="#1c1c1c" stroke-width="2.2" stroke-linecap="round"/>
<line x1="160.8" y1="1379.3" x2="164.8" y2="1377.7" stroke="#1c1c1c" stroke-width="2.2" stroke-linecap="round"/>
<line x1="164.8" y1="1377.7" x2="168.8" y2="1376.2" stroke="#1c1c1c" stroke-width="2.2" stroke-linecap="round"/>
<line x1="168.8" y1="1376.2" x2="172.8" y2="1374.6" stroke="#1c1c1c" stroke-width="2.2" stroke-linecap="round"/>
<line x1="150.5" y1="1314.5" x2="151" y2="1328.1" stroke="#1c1c1c" stroke-width="2.2" stroke-linecap="round"/>
<line x1="151" y1="1328.1" x2="151.4" y2="1341.7" stroke="#1c1c1c" stroke-width="2.2" stroke-linecap="round"/>
<line x1="151.4" y1="1341.7" x2="151.9" y2="1355.2" stroke="#1c1c1c" stroke-width="2.2" stroke-linecap="round"/>
<line x1="151.9" y1="1355.2" x2="152.3" y2="1368.8" stroke="#1c1c1c" stroke-width="2.2" stroke-linecap="round"/>
<line x1="152.3" y1="1368.8" x2="152.8" y2="1382.4" stroke="#1c1c1c" stroke-width="2.2" stroke-linecap="round"/>
<polygon points="100.9,1300.5 199.8,1317.1 62.4,1464.6" fill="#c4fb8b" fill-opacity="0.7"/>
<polygon points="199.8,1317.1 248.1,1447.4 62.4,1464.6" fill="#65c458" fill-opacity="0.7"/>
<circle cx="795.8" cy="1013.3" r="5.4" fill="url(#gSe)"/>
<line x1="146.5" y1="1192.2" x2="146.9" y2="1205.8" stroke="#1c1c1c" stroke-width="2.2" stroke-linecap="round"/>
<line x1="218.4" y1="1382.3" x2="231.5" y2="1382.2" stroke="#1c1c1c" stroke-width="2.2" stroke-linecap="round"/>
<line x1="146" y1="1178.7" x2="146.5" y2="1192.2" stroke="#1c1c1c" stroke-width="2.2" stroke-linecap="round"/>
<circle cx="152.8" cy="1382.4" r="8" fill="url(#gGa)"/>
<line x1="715.7" y1="816.3" x2="719.7" y2="814.7" stroke="#1c1c1c" stroke-width="2.2" stroke-linecap="round"/>
<line x1="231.5" y1="1382.2" x2="244.7" y2="1382.2" stroke="#1c1c1c" stroke-width="2.2" stroke-linecap="round"/>
<circle cx="100.9" cy="1300.5" r="5.4" fill="url(#gSe)"/>
<circle cx="248.1" cy="1447.4" r="5.4" fill="url(#gSe)"/>
<line x1="713.8" y1="1367.4" x2="717.8" y2="1365.8" stroke="#1c1c1c" stroke-width="2.2" stroke-linecap="round"/>
<line x1="244.7" y1="1382.2" x2="257.8" y2="1382.2" stroke="#1c1c1c" stroke-width="2.2" stroke-linecap="round"/>
<g opacity="0.9"><line x1="379.1" y1="1432.2" x2="373.1" y2="1369" stroke="#ee1111" stroke-width="2.6"/><line x1="373.1" y1="1369" x2="367" y2="1305.7" stroke="#f0e040" stroke-width="2.6"/><line x1="379.1" y1="1432.2" x2="371.2" y2="1366.1" stroke="#ee1111" stroke-width="2.6"/><line x1="371.2" y1="1366.1" x2="363.4" y2="1300" stroke="#f07820" stroke-width="2.6"/><line x1="379.1" y1="1432.2" x2="441.5" y2="1437.3" stroke="#ee1111" stroke-width="2.6"/><line x1="441.5" y1="1437.3" x2="503.9" y2="1442.4" stroke="#f0e040" stroke-width="2.6"/><line x1="379.1" y1="1432.2" x2="444.8" y2="1439.6" stroke="#ee1111" stroke-width="2.6"/><line x1="444.8" y1="1439.6" x2="510.6" y2="1446.9" stroke="#f07820" stroke-width="2.6"/><line x1="379.1" y1="1432.2" x2="355.2" y2="1445.3" stroke="#ee1111" stroke-width="2.6"/><line x1="355.2" y1="1445.3" x2="331.3" y2="1458.3" stroke="#f0e040" stroke-width="2.6"/><line x1="379.1" y1="1432.2" x2="352" y2="1448.1" stroke="#ee1111" stroke-width="2.6"/><line x1="352" y1="1448.1" x2="324.9" y2="1464.1" stroke="#f07820" stroke-width="2.6"/></g>
<circle cx="379.1" cy="1432.2" r="6" fill="url(#gV)"/>
<line x1="257.8" y1="1382.2" x2="270.9" y2="1382.2" stroke="#1c1c1c" stroke-width="2.2" stroke-linecap="round"/>
<line x1="141.5" y1="1042.8" x2="141.9" y2="1056.4" stroke="#1c1c1c" stroke-width="2.2" stroke-linecap="round"/>
<line x1="141.9" y1="1056.4" x2="142.4" y2="1070" stroke="#1c1c1c" stroke-width="2.2" stroke-linecap="round"/>
<line x1="142.4" y1="1070" x2="142.8" y2="1083.6" stroke="#1c1c1c" stroke-width="2.2" stroke-linecap="round"/>
<line x1="142.8" y1="1083.6" x2="143.3" y2="1097.2" stroke="#1c1c1c" stroke-width="2.2" stroke-linecap="round"/>
<line x1="143.3" y1="1097.2" x2="143.8" y2="1110.8" stroke="#1c1c1c" stroke-width="2.2" stroke-linecap="round"/>
<line x1="143.8" y1="1110.8" x2="144.2" y2="1124.3" stroke="#1c1c1c" stroke-width="2.2" stroke-linecap="round"/>
<line x1="144.2" y1="1124.3" x2="144.7" y2="1137.9" stroke="#1c1c1c" stroke-width="2.2" stroke-linecap="round"/>
<line x1="144.7" y1="1137.9" x2="145.1" y2="1151.5" stroke="#1c1c1c" stroke-width="2.2" stroke-linecap="round"/>
<line x1="145.1" y1="1151.5" x2="145.6" y2="1165.1" stroke="#1c1c1c" stroke-width="2.2" stroke-linecap="round"/>
<line x1="145.6" y1="1165.1" x2="146" y2="1178.7" stroke="#1c1c1c" stroke-width="2.2" stroke-linecap="round"/>
<polygon points="70.4,1060.7 190.8,1045.4 183.7,1173.8 53.4,1192.9" fill="#b4dfe4" fill-opacity="0.62"/>
<polygon points="190.8,1045.4 213.3,1047.5 239,1175.8 183.7,1173.8" fill="#62b4bc" fill-opacity="0.8"/>
<polygon points="70.4,1060.7 190.8,1045.4 213.3,1047.5 91.8,1028.8" fill="#7bc1c3" fill-opacity="0.6"/>
<line x1="711.7" y1="817.9" x2="715.7" y2="816.3" stroke="#1c1c1c" stroke-width="2.2" stroke-linecap="round"/>
<line x1="270.9" y1="1382.2" x2="284.1" y2="1382.2" stroke="#1c1c1c" stroke-width="2.2" stroke-linecap="round"/>
<line x1="141" y1="1029.3" x2="141.5" y2="1042.8" stroke="#1c1c1c" stroke-width="2.2" stroke-linecap="round"/>
<line x1="284.1" y1="1382.2" x2="297.2" y2="1382.1" stroke="#1c1c1c" stroke-width="2.2" stroke-linecap="round"/>
<line x1="140.6" y1="1015.7" x2="141" y2="1029.3" stroke="#1c1c1c" stroke-width="2.2" stroke-linecap="round"/>
<polygon points="82.8,757.2 181.7,773.8 230,904.1" fill="#69da44" fill-opacity="0.5"/>
<line x1="183.7" y1="1173.8" x2="185.6" y2="1111.9" stroke="#ee1111" stroke-width="2.6"/><line x1="185.6" y1="1111.9" x2="187.5" y2="1050" stroke="#f0e040" stroke-width="2.6"/><line x1="183.7" y1="1173.8" x2="187.2" y2="1109.6" stroke="#ee1111" stroke-width="2.6"/><line x1="187.2" y1="1109.6" x2="190.8" y2="1045.4" stroke="#f07820" stroke-width="2.6"/><line x1="183.7" y1="1173.8" x2="208" y2="1172.5" stroke="#ee1111" stroke-width="2.6"/><line x1="208" y1="1172.5" x2="232.4" y2="1171.2" stroke="#f0e040" stroke-width="2.6"/><line x1="183.7" y1="1173.8" x2="211.4" y2="1174.8" stroke="#ee1111" stroke-width="2.6"/><line x1="211.4" y1="1174.8" x2="239" y2="1175.8" stroke="#f07820" stroke-width="2.6"/><line x1="183.7" y1="1173.8" x2="121.7" y2="1180.5" stroke="#ee1111" stroke-width="2.6"/><line x1="121.7" y1="1180.5" x2="59.7" y2="1187.2" stroke="#f0e040" stroke-width="2.6"/><line x1="183.7" y1="1173.8" x2="118.6" y2="1183.4" stroke="#ee1111" stroke-width="2.6"/><line x1="118.6" y1="1183.4" x2="53.4" y2="1192.9" stroke="#f07820" stroke-width="2.6"/><line x1="70.4" y1="1060.7" x2="82.9" y2="1047.6" stroke="#ee1111" stroke-width="2.6"/><line x1="82.9" y1="1047.6" x2="95.5" y2="1034.6" stroke="#f0e040" stroke-width="2.6"/><line x1="70.4" y1="1060.7" x2="81.1" y2="1044.7" stroke="#ee1111" stroke-width="2.6"/><line x1="81.1" y1="1044.7" x2="91.8" y2="1028.8" stroke="#f07820" stroke-width="2.6"/><line x1="70.4" y1="1060.7" x2="128.9" y2="1055.3" stroke="#ee1111" stroke-width="2.6"/><line x1="128.9" y1="1055.3" x2="187.5" y2="1050" stroke="#f0e040" stroke-width="2.6"/><line x1="70.4" y1="1060.7" x2="130.6" y2="1053.1" stroke="#ee1111" stroke-width="2.6"/><line x1="130.6" y1="1053.1" x2="190.8" y2="1045.4" stroke="#f07820" stroke-width="2.6"/><line x1="70.4" y1="1060.7" x2="65.1" y2="1123.9" stroke="#ee1111" stroke-width="2.6"/><line x1="65.1" y1="1123.9" x2="59.7" y2="1187.2" stroke="#f0e040" stroke-width="2.6"/><line x1="70.4" y1="1060.7" x2="61.9" y2="1126.8" stroke="#ee1111" stroke-width="2.6"/><line x1="61.9" y1="1126.8" x2="53.4" y2="1192.9" stroke="#f07820" stroke-width="2.6"/><line x1="213.3" y1="1047.5" x2="154.4" y2="1041" stroke="#ee1111" stroke-width="2.6"/><line x1="154.4" y1="1041" x2="95.5" y2="1034.6" stroke="#f0e040" stroke-width="2.6"/><line x1="213.3" y1="1047.5" x2="152.6" y2="1038.1" stroke="#ee1111" stroke-width="2.6"/><line x1="152.6" y1="1038.1" x2="91.8" y2="1028.8" stroke="#f07820" stroke-width="2.6"/><line x1="213.3" y1="1047.5" x2="200.4" y2="1048.7" stroke="#ee1111" stroke-width="2.6"/><line x1="200.4" y1="1048.7" x2="187.5" y2="1050" stroke="#f0e040" stroke-width="2.6"/><line x1="213.3" y1="1047.5" x2="202" y2="1046.4" stroke="#ee1111" stroke-width="2.6"/><line x1="202" y1="1046.4" x2="190.8" y2="1045.4" stroke="#f07820" stroke-width="2.6"/><line x1="213.3" y1="1047.5" x2="222.8" y2="1109.3" stroke="#ee1111" stroke-width="2.6"/><line x1="222.8" y1="1109.3" x2="232.4" y2="1171.2" stroke="#f0e040" stroke-width="2.6"/><line x1="213.3" y1="1047.5" x2="226.2" y2="1111.6" stroke="#ee1111" stroke-width="2.6"/><line x1="226.2" y1="1111.6" x2="239" y2="1175.8" stroke="#f07820" stroke-width="2.6"/>
<line x1="709.8" y1="1368.9" x2="713.8" y2="1367.4" stroke="#1c1c1c" stroke-width="2.2" stroke-linecap="round"/>
<polygon points="82.8,757.2 230,904.1 44.3,921.3" fill="#69da44" fill-opacity="0.5"/>
<line x1="140.1" y1="1002.1" x2="140.6" y2="1015.7" stroke="#1c1c1c" stroke-width="2.2" stroke-linecap="round"/>
<circle cx="62.4" cy="1464.6" r="5.4" fill="url(#gSe)"/>
<line x1="139.7" y1="988.5" x2="140.1" y2="1002.1" stroke="#1c1c1c" stroke-width="2.2" stroke-linecap="round"/>
<line x1="297.2" y1="1382.1" x2="310.3" y2="1382.1" stroke="#1c1c1c" stroke-width="2.2" stroke-linecap="round"/>
<line x1="139.2" y1="974.9" x2="139.7" y2="988.5" stroke="#1c1c1c" stroke-width="2.2" stroke-linecap="round"/>
<circle cx="95.5" cy="1034.6" r="4.3" fill="url(#gS)"/><circle cx="187.5" cy="1050" r="4.3" fill="url(#gS)"/><circle cx="232.4" cy="1171.2" r="4.3" fill="url(#gS)"/><circle cx="59.7" cy="1187.2" r="4.3" fill="url(#gS)"/><circle cx="91.8" cy="1028.8" r="5.2" fill="url(#gSe)"/><circle cx="190.8" cy="1045.4" r="5.2" fill="url(#gSe)"/><circle cx="239" cy="1175.8" r="5.2" fill="url(#gSe)"/><circle cx="53.4" cy="1192.9" r="5.2" fill="url(#gSe)"/><circle cx="183.7" cy="1173.8" r="6" fill="url(#gV)"/><circle cx="70.4" cy="1060.7" r="6" fill="url(#gV)"/><circle cx="213.3" cy="1047.5" r="6" fill="url(#gV)"/>
<line x1="138.8" y1="961.3" x2="139.2" y2="974.9" stroke="#1c1c1c" stroke-width="2.2" stroke-linecap="round"/>
<line x1="310.3" y1="1382.1" x2="323.4" y2="1382.1" stroke="#1c1c1c" stroke-width="2.2" stroke-linecap="round"/>
<line x1="138.3" y1="947.8" x2="138.8" y2="961.3" stroke="#1c1c1c" stroke-width="2.2" stroke-linecap="round"/>
<line x1="707.7" y1="819.4" x2="711.7" y2="817.9" stroke="#1c1c1c" stroke-width="2.2" stroke-linecap="round"/>
<line x1="137.9" y1="934.2" x2="138.3" y2="947.8" stroke="#1c1c1c" stroke-width="2.2" stroke-linecap="round"/>
<line x1="137.4" y1="920.6" x2="137.9" y2="934.2" stroke="#1c1c1c" stroke-width="2.2" stroke-linecap="round"/>
<line x1="323.4" y1="1382.1" x2="336.6" y2="1382" stroke="#1c1c1c" stroke-width="2.2" stroke-linecap="round"/>
<line x1="137" y1="907" x2="137.4" y2="920.6" stroke="#1c1c1c" stroke-width="2.2" stroke-linecap="round"/>
<line x1="705.8" y1="1370.5" x2="709.8" y2="1368.9" stroke="#1c1c1c" stroke-width="2.2" stroke-linecap="round"/>
<line x1="336.6" y1="1382" x2="349.7" y2="1382" stroke="#1c1c1c" stroke-width="2.2" stroke-linecap="round"/>
<line x1="703.7" y1="821" x2="707.7" y2="819.4" stroke="#1c1c1c" stroke-width="2.2" stroke-linecap="round"/>
<line x1="701.8" y1="1372.1" x2="705.8" y2="1370.5" stroke="#1c1c1c" stroke-width="2.2" stroke-linecap="round"/>
<line x1="699.7" y1="822.5" x2="703.7" y2="821" stroke="#1c1c1c" stroke-width="2.2" stroke-linecap="round"/>
<line x1="697.8" y1="1373.6" x2="701.8" y2="1372.1" stroke="#1c1c1c" stroke-width="2.2" stroke-linecap="round"/>
<line x1="134.7" y1="839.1" x2="147.8" y2="839.1" stroke="#1c1c1c" stroke-width="2.2" stroke-linecap="round"/>
<line x1="147.8" y1="839.1" x2="160.9" y2="839.1" stroke="#1c1c1c" stroke-width="2.2" stroke-linecap="round"/>
<line x1="160.9" y1="839.1" x2="174.1" y2="839" stroke="#1c1c1c" stroke-width="2.2" stroke-linecap="round"/>
<line x1="174.1" y1="839" x2="187.2" y2="839" stroke="#1c1c1c" stroke-width="2.2" stroke-linecap="round"/>
<line x1="187.2" y1="839" x2="200.3" y2="839" stroke="#1c1c1c" stroke-width="2.2" stroke-linecap="round"/>
<line x1="349.7" y1="1382" x2="362.8" y2="1382" stroke="#1c1c1c" stroke-width="2.2" stroke-linecap="round"/>
<line x1="362.8" y1="1382" x2="375.9" y2="1382" stroke="#1c1c1c" stroke-width="2.2" stroke-linecap="round"/>
<line x1="375.9" y1="1382" x2="389.1" y2="1381.9" stroke="#1c1c1c" stroke-width="2.2" stroke-linecap="round"/>
<line x1="389.1" y1="1381.9" x2="402.2" y2="1381.9" stroke="#1c1c1c" stroke-width="2.2" stroke-linecap="round"/>
<line x1="402.2" y1="1381.9" x2="415.3" y2="1381.9" stroke="#1c1c1c" stroke-width="2.2" stroke-linecap="round"/>
<line x1="415.3" y1="1381.9" x2="428.4" y2="1381.9" stroke="#1c1c1c" stroke-width="2.2" stroke-linecap="round"/>
<line x1="428.4" y1="1381.9" x2="441.6" y2="1381.8" stroke="#1c1c1c" stroke-width="2.2" stroke-linecap="round"/>
<line x1="441.6" y1="1381.8" x2="454.7" y2="1381.8" stroke="#1c1c1c" stroke-width="2.2" stroke-linecap="round"/>
<line x1="454.7" y1="1381.8" x2="467.8" y2="1381.8" stroke="#1c1c1c" stroke-width="2.2" stroke-linecap="round"/>
<line x1="467.8" y1="1381.8" x2="480.9" y2="1381.8" stroke="#1c1c1c" stroke-width="2.2" stroke-linecap="round"/>
<line x1="134.7" y1="839.1" x2="138.7" y2="837.5" stroke="#1c1c1c" stroke-width="2.2" stroke-linecap="round"/>
<line x1="138.7" y1="837.5" x2="142.7" y2="836" stroke="#1c1c1c" stroke-width="2.2" stroke-linecap="round"/>
<line x1="142.7" y1="836" x2="146.7" y2="834.4" stroke="#1c1c1c" stroke-width="2.2" stroke-linecap="round"/>
<line x1="146.7" y1="834.4" x2="150.7" y2="832.9" stroke="#1c1c1c" stroke-width="2.2" stroke-linecap="round"/>
<line x1="150.7" y1="832.9" x2="154.7" y2="831.3" stroke="#1c1c1c" stroke-width="2.2" stroke-linecap="round"/>
<line x1="134.7" y1="839.1" x2="135.2" y2="852.7" stroke="#1c1c1c" stroke-width="2.2" stroke-linecap="round"/>
<line x1="135.2" y1="852.7" x2="135.6" y2="866.3" stroke="#1c1c1c" stroke-width="2.2" stroke-linecap="round"/>
<line x1="135.6" y1="866.3" x2="136.1" y2="879.8" stroke="#1c1c1c" stroke-width="2.2" stroke-linecap="round"/>
<line x1="136.1" y1="879.8" x2="136.5" y2="893.4" stroke="#1c1c1c" stroke-width="2.2" stroke-linecap="round"/>
<line x1="136.5" y1="893.4" x2="137" y2="907" stroke="#1c1c1c" stroke-width="2.2" stroke-linecap="round"/>
<polygon points="82.8,757.2 181.7,773.8 44.3,921.3" fill="#c4fb8b" fill-opacity="0.7"/>
<polygon points="181.7,773.8 230,904.1 44.3,921.3" fill="#65c458" fill-opacity="0.7"/>
<polygon points="341.9,1331.8 462.3,1316.6 455.3,1445 324.9,1464.1" fill="#b4dfe4" fill-opacity="0.62"/>
<polygon points="462.3,1316.6 484.9,1318.6 510.6,1446.9 455.3,1445" fill="#62b4bc" fill-opacity="0.8"/>
<polygon points="341.9,1331.8 462.3,1316.6 484.9,1318.6 363.4,1300" fill="#7bc1c3" fill-opacity="0.6"/>
<line x1="200.3" y1="839" x2="213.4" y2="839" stroke="#1c1c1c" stroke-width="2.2" stroke-linecap="round"/>
<polygon points="82.8,757.2 181.7,773.8 142.1,816.4" fill="#f4ffe0" fill-opacity="0.38"/>
<polygon points="181.7,773.8 230,904.1 44.3,921.3" fill="#e8f4e8" fill-opacity="0.2"/>
<circle cx="134.7" cy="839.1" r="8" fill="url(#gGa)"/>
<line x1="213.4" y1="839" x2="226.6" y2="838.9" stroke="#1c1c1c" stroke-width="2.2" stroke-linecap="round"/>
<polygon points="354.3,1028.3 453.3,1044.9 501.5,1175.3" fill="#69da44" fill-opacity="0.5"/>
<circle cx="82.8" cy="757.2" r="5.4" fill="url(#gSe)"/>
<circle cx="230" cy="904.1" r="5.4" fill="url(#gSe)"/>
<line x1="455.3" y1="1445" x2="457.1" y2="1383.1" stroke="#ee1111" stroke-width="2.6"/><line x1="457.1" y1="1383.1" x2="459" y2="1321.2" stroke="#f0e040" stroke-width="2.6"/><line x1="455.3" y1="1445" x2="458.8" y2="1380.8" stroke="#ee1111" stroke-width="2.6"/><line x1="458.8" y1="1380.8" x2="462.3" y2="1316.6" stroke="#f07820" stroke-width="2.6"/><line x1="455.3" y1="1445" x2="479.6" y2="1443.7" stroke="#ee1111" stroke-width="2.6"/><line x1="479.6" y1="1443.7" x2="503.9" y2="1442.4" stroke="#f0e040" stroke-width="2.6"/><line x1="455.3" y1="1445" x2="482.9" y2="1446" stroke="#ee1111" stroke-width="2.6"/><line x1="482.9" y1="1446" x2="510.6" y2="1446.9" stroke="#f07820" stroke-width="2.6"/><line x1="455.3" y1="1445" x2="393.3" y2="1451.7" stroke="#ee1111" stroke-width="2.6"/><line x1="393.3" y1="1451.7" x2="331.3" y2="1458.3" stroke="#f0e040" stroke-width="2.6"/><line x1="455.3" y1="1445" x2="390.1" y2="1454.5" stroke="#ee1111" stroke-width="2.6"/><line x1="390.1" y1="1454.5" x2="324.9" y2="1464.1" stroke="#f07820" stroke-width="2.6"/><line x1="341.9" y1="1331.8" x2="354.5" y2="1318.8" stroke="#ee1111" stroke-width="2.6"/><line x1="354.5" y1="1318.8" x2="367" y2="1305.7" stroke="#f0e040" stroke-width="2.6"/><line x1="341.9" y1="1331.8" x2="352.7" y2="1315.9" stroke="#ee1111" stroke-width="2.6"/><line x1="352.7" y1="1315.9" x2="363.4" y2="1300" stroke="#f07820" stroke-width="2.6"/><line x1="341.9" y1="1331.8" x2="400.5" y2="1326.5" stroke="#ee1111" stroke-width="2.6"/><line x1="400.5" y1="1326.5" x2="459" y2="1321.2" stroke="#f0e040" stroke-width="2.6"/><line x1="341.9" y1="1331.8" x2="402.1" y2="1324.2" stroke="#ee1111" stroke-width="2.6"/><line x1="402.1" y1="1324.2" x2="462.3" y2="1316.6" stroke="#f07820" stroke-width="2.6"/><line x1="341.9" y1="1331.8" x2="336.6" y2="1395.1" stroke="#ee1111" stroke-width="2.6"/><line x1="336.6" y1="1395.1" x2="331.3" y2="1458.3" stroke="#f0e040" stroke-width="2.6"/><line x1="341.9" y1="1331.8" x2="333.4" y2="1398" stroke="#ee1111" stroke-width="2.6"/><line x1="333.4" y1="1398" x2="324.9" y2="1464.1" stroke="#f07820" stroke-width="2.6"/><line x1="484.9" y1="1318.6" x2="426" y2="1312.2" stroke="#ee1111" stroke-width="2.6"/><line x1="426" y1="1312.2" x2="367" y2="1305.7" stroke="#f0e040" stroke-width="2.6"/><line x1="484.9" y1="1318.6" x2="424.1" y2="1309.3" stroke="#ee1111" stroke-width="2.6"/><line x1="424.1" y1="1309.3" x2="363.4" y2="1300" stroke="#f07820" stroke-width="2.6"/><line x1="484.9" y1="1318.6" x2="471.9" y2="1319.9" stroke="#ee1111" stroke-width="2.6"/><line x1="471.9" y1="1319.9" x2="459" y2="1321.2" stroke="#f0e040" stroke-width="2.6"/><line x1="484.9" y1="1318.6" x2="473.6" y2="1317.6" stroke="#ee1111" stroke-width="2.6"/><line x1="473.6" y1="1317.6" x2="462.3" y2="1316.6" stroke="#f07820" stroke-width="2.6"/><line x1="484.9" y1="1318.6" x2="494.4" y2="1380.5" stroke="#ee1111" stroke-width="2.6"/><line x1="494.4" y1="1380.5" x2="503.9" y2="1442.4" stroke="#f0e040" stroke-width="2.6"/><line x1="484.9" y1="1318.6" x2="497.7" y2="1382.8" stroke="#ee1111" stroke-width="2.6"/><line x1="497.7" y1="1382.8" x2="510.6" y2="1446.9" stroke="#f07820" stroke-width="2.6"/>
<polygon points="354.3,1028.3 501.5,1175.3 315.9,1192.4" fill="#69da44" fill-opacity="0.5"/>
<line x1="695.7" y1="824.1" x2="699.7" y2="822.5" stroke="#1c1c1c" stroke-width="2.2" stroke-linecap="round"/>
<line x1="226.6" y1="838.9" x2="239.7" y2="838.9" stroke="#1c1c1c" stroke-width="2.2" stroke-linecap="round"/>
<circle cx="367" cy="1305.7" r="4.3" fill="url(#gS)"/><circle cx="459" cy="1321.2" r="4.3" fill="url(#gS)"/><circle cx="503.9" cy="1442.4" r="4.3" fill="url(#gS)"/><circle cx="331.3" cy="1458.3" r="4.3" fill="url(#gS)"/><circle cx="363.4" cy="1300" r="5.2" fill="url(#gSe)"/><circle cx="462.3" cy="1316.6" r="5.2" fill="url(#gSe)"/><circle cx="510.6" cy="1446.9" r="5.2" fill="url(#gSe)"/><circle cx="324.9" cy="1464.1" r="5.2" fill="url(#gSe)"/><circle cx="455.3" cy="1445" r="6" fill="url(#gV)"/><circle cx="341.9" cy="1331.8" r="6" fill="url(#gV)"/><circle cx="484.9" cy="1318.6" r="6" fill="url(#gV)"/>
<g opacity="0.9"><line x1="361" y1="888.9" x2="355" y2="825.7" stroke="#ee1111" stroke-width="2.6"/><line x1="355" y1="825.7" x2="348.9" y2="762.4" stroke="#f0e040" stroke-width="2.6"/><line x1="361" y1="888.9" x2="353.1" y2="822.8" stroke="#ee1111" stroke-width="2.6"/><line x1="353.1" y1="822.8" x2="345.3" y2="756.7" stroke="#f07820" stroke-width="2.6"/><line x1="361" y1="888.9" x2="423.4" y2="894" stroke="#ee1111" stroke-width="2.6"/><line x1="423.4" y1="894" x2="485.8" y2="899.1" stroke="#f0e040" stroke-width="2.6"/><line x1="361" y1="888.9" x2="426.7" y2="896.3" stroke="#ee1111" stroke-width="2.6"/><line x1="426.7" y1="896.3" x2="492.5" y2="903.6" stroke="#f07820" stroke-width="2.6"/><line x1="361" y1="888.9" x2="337.1" y2="902" stroke="#ee1111" stroke-width="2.6"/><line x1="337.1" y1="902" x2="313.2" y2="915" stroke="#f0e040" stroke-width="2.6"/><line x1="361" y1="888.9" x2="333.9" y2="904.8" stroke="#ee1111" stroke-width="2.6"/><line x1="333.9" y1="904.8" x2="306.8" y2="920.8" stroke="#f07820" stroke-width="2.6"/></g>
<circle cx="361" cy="888.9" r="6" fill="url(#gV)"/>
<line x1="239.7" y1="838.9" x2="252.8" y2="838.9" stroke="#1c1c1c" stroke-width="2.2" stroke-linecap="round"/>
<line x1="252.8" y1="838.9" x2="265.9" y2="838.9" stroke="#1c1c1c" stroke-width="2.2" stroke-linecap="round"/>
<line x1="480.9" y1="1381.8" x2="494.1" y2="1381.8" stroke="#1c1c1c" stroke-width="2.2" stroke-linecap="round"/>
<circle cx="199.8" cy="1317.1" r="5.4" fill="url(#gSe)"/>
<line x1="265.9" y1="838.9" x2="279.1" y2="838.8" stroke="#1c1c1c" stroke-width="2.2" stroke-linecap="round"/>
<line x1="494.1" y1="1381.8" x2="507.2" y2="1381.7" stroke="#1c1c1c" stroke-width="2.2" stroke-linecap="round"/>
<line x1="691.7" y1="825.6" x2="695.7" y2="824.1" stroke="#1c1c1c" stroke-width="2.2" stroke-linecap="round"/>
<circle cx="44.3" cy="921.3" r="5.4" fill="url(#gSe)"/>
<line x1="279.1" y1="838.8" x2="292.2" y2="838.8" stroke="#1c1c1c" stroke-width="2.2" stroke-linecap="round"/>
<line x1="507.2" y1="1381.7" x2="520.3" y2="1381.7" stroke="#1c1c1c" stroke-width="2.2" stroke-linecap="round"/>
<line x1="520.3" y1="1381.7" x2="533.4" y2="1381.7" stroke="#1c1c1c" stroke-width="2.2" stroke-linecap="round"/>
<line x1="292.2" y1="838.8" x2="305.3" y2="838.8" stroke="#1c1c1c" stroke-width="2.2" stroke-linecap="round"/>
<line x1="305.3" y1="838.8" x2="318.4" y2="838.8" stroke="#1c1c1c" stroke-width="2.2" stroke-linecap="round"/>
<line x1="533.4" y1="1381.7" x2="546.6" y2="1381.7" stroke="#1c1c1c" stroke-width="2.2" stroke-linecap="round"/>
<line x1="687.7" y1="827.2" x2="691.7" y2="825.6" stroke="#1c1c1c" stroke-width="2.2" stroke-linecap="round"/>
<line x1="318.4" y1="838.8" x2="331.6" y2="838.7" stroke="#1c1c1c" stroke-width="2.2" stroke-linecap="round"/>
<line x1="546.6" y1="1381.7" x2="559.7" y2="1381.6" stroke="#1c1c1c" stroke-width="2.2" stroke-linecap="round"/>
<line x1="559.7" y1="1381.6" x2="572.8" y2="1381.6" stroke="#1c1c1c" stroke-width="2.2" stroke-linecap="round"/>
<line x1="572.8" y1="1381.6" x2="585.9" y2="1381.6" stroke="#1c1c1c" stroke-width="2.2" stroke-linecap="round"/>
<polygon points="354.3,1028.3 453.3,1044.9 315.9,1192.4" fill="#c4fb8b" fill-opacity="0.7"/>
<polygon points="453.3,1044.9 501.5,1175.3 315.9,1192.4" fill="#65c458" fill-opacity="0.7"/>
<line x1="585.9" y1="1381.6" x2="599.1" y2="1381.5" stroke="#1c1c1c" stroke-width="2.2" stroke-linecap="round"/>
<line x1="683.7" y1="828.8" x2="687.7" y2="827.2" stroke="#1c1c1c" stroke-width="2.2" stroke-linecap="round"/>
<polygon points="354.3,1028.3 315.9,1192.4 413.6,1087.5" fill="#f4ffe0" fill-opacity="0.38"/>
<circle cx="406.2" cy="1110.2" r="8" fill="url(#gGa)"/>
<line x1="599.1" y1="1381.5" x2="612.2" y2="1381.5" stroke="#1c1c1c" stroke-width="2.2" stroke-linecap="round"/>
<polygon points="625.9,1299.5 724.8,1316.1 773.1,1446.4" fill="#69da44" fill-opacity="0.5"/>
<circle cx="354.3" cy="1028.3" r="5.4" fill="url(#gSe)"/>
<circle cx="501.5" cy="1175.3" r="5.4" fill="url(#gSe)"/>
<polygon points="625.9,1299.5 773.1,1446.4 587.4,1463.6" fill="#69da44" fill-opacity="0.5"/>
<g opacity="0.9"><line x1="632.6" y1="1160" x2="626.5" y2="1096.8" stroke="#ee1111" stroke-width="2.6"/><line x1="626.5" y1="1096.8" x2="620.5" y2="1033.6" stroke="#f0e040" stroke-width="2.6"/><line x1="632.6" y1="1160" x2="624.7" y2="1093.9" stroke="#ee1111" stroke-width="2.6"/><line x1="624.7" y1="1093.9" x2="616.8" y2="1027.8" stroke="#f07820" stroke-width="2.6"/><line x1="632.6" y1="1160" x2="695" y2="1165.1" stroke="#ee1111" stroke-width="2.6"/><line x1="695" y1="1165.1" x2="757.4" y2="1170.2" stroke="#f0e040" stroke-width="2.6"/><line x1="632.6" y1="1160" x2="698.3" y2="1167.4" stroke="#ee1111" stroke-width="2.6"/><line x1="698.3" y1="1167.4" x2="764" y2="1174.8" stroke="#f07820" stroke-width="2.6"/><line x1="632.6" y1="1160" x2="608.6" y2="1173.1" stroke="#ee1111" stroke-width="2.6"/><line x1="608.6" y1="1173.1" x2="584.7" y2="1186.2" stroke="#f0e040" stroke-width="2.6"/><line x1="632.6" y1="1160" x2="605.5" y2="1176" stroke="#ee1111" stroke-width="2.6"/><line x1="605.5" y1="1176" x2="578.4" y2="1191.9" stroke="#f07820" stroke-width="2.6"/></g>
<circle cx="632.6" cy="1160" r="6" fill="url(#gV)"/>
<line x1="679.7" y1="830.3" x2="683.7" y2="828.8" stroke="#1c1c1c" stroke-width="2.2" stroke-linecap="round"/>
<line x1="331.6" y1="838.7" x2="344.7" y2="838.7" stroke="#1c1c1c" stroke-width="2.2" stroke-linecap="round"/>
<line x1="344.7" y1="838.7" x2="357.8" y2="838.7" stroke="#1c1c1c" stroke-width="2.2" stroke-linecap="round"/>
<line x1="357.8" y1="838.7" x2="370.9" y2="838.6" stroke="#1c1c1c" stroke-width="2.2" stroke-linecap="round"/>
<line x1="370.9" y1="838.6" x2="384.1" y2="838.6" stroke="#1c1c1c" stroke-width="2.2" stroke-linecap="round"/>
<line x1="384.1" y1="838.6" x2="397.2" y2="838.6" stroke="#1c1c1c" stroke-width="2.2" stroke-linecap="round"/>
<line x1="397.2" y1="838.6" x2="410.3" y2="838.6" stroke="#1c1c1c" stroke-width="2.2" stroke-linecap="round"/>
<line x1="410.3" y1="838.6" x2="423.4" y2="838.6" stroke="#1c1c1c" stroke-width="2.2" stroke-linecap="round"/>
<line x1="423.4" y1="838.6" x2="436.6" y2="838.5" stroke="#1c1c1c" stroke-width="2.2" stroke-linecap="round"/>
<line x1="436.6" y1="838.5" x2="449.7" y2="838.5" stroke="#1c1c1c" stroke-width="2.2" stroke-linecap="round"/>
<line x1="449.7" y1="838.5" x2="462.8" y2="838.5" stroke="#1c1c1c" stroke-width="2.2" stroke-linecap="round"/>
<polygon points="323.8,788.5 444.2,773.3 437.2,901.7 306.8,920.8" fill="#b4dfe4" fill-opacity="0.62"/>
<polygon points="444.2,773.3 466.8,775.3 492.5,903.6 437.2,901.7" fill="#62b4bc" fill-opacity="0.8"/>
<polygon points="323.8,788.5 444.2,773.3 466.8,775.3 345.3,756.7" fill="#7bc1c3" fill-opacity="0.6"/>
<line x1="437.2" y1="901.7" x2="439" y2="839.8" stroke="#ee1111" stroke-width="2.6"/><line x1="439" y1="839.8" x2="440.9" y2="777.9" stroke="#f0e040" stroke-width="2.6"/><line x1="437.2" y1="901.7" x2="440.7" y2="837.5" stroke="#ee1111" stroke-width="2.6"/><line x1="440.7" y1="837.5" x2="444.2" y2="773.3" stroke="#f07820" stroke-width="2.6"/><line x1="437.2" y1="901.7" x2="461.5" y2="900.4" stroke="#ee1111" stroke-width="2.6"/><line x1="461.5" y1="900.4" x2="485.8" y2="899.1" stroke="#f0e040" stroke-width="2.6"/><line x1="437.2" y1="901.7" x2="464.8" y2="902.7" stroke="#ee1111" stroke-width="2.6"/><line x1="464.8" y1="902.7" x2="492.5" y2="903.6" stroke="#f07820" stroke-width="2.6"/><line x1="437.2" y1="901.7" x2="375.2" y2="908.4" stroke="#ee1111" stroke-width="2.6"/><line x1="375.2" y1="908.4" x2="313.2" y2="915" stroke="#f0e040" stroke-width="2.6"/><line x1="437.2" y1="901.7" x2="372" y2="911.2" stroke="#ee1111" stroke-width="2.6"/><line x1="372" y1="911.2" x2="306.8" y2="920.8" stroke="#f07820" stroke-width="2.6"/><line x1="323.8" y1="788.5" x2="336.4" y2="775.5" stroke="#ee1111" stroke-width="2.6"/><line x1="336.4" y1="775.5" x2="348.9" y2="762.4" stroke="#f0e040" stroke-width="2.6"/><line x1="323.8" y1="788.5" x2="334.6" y2="772.6" stroke="#ee1111" stroke-width="2.6"/><line x1="334.6" y1="772.6" x2="345.3" y2="756.7" stroke="#f07820" stroke-width="2.6"/><line x1="323.8" y1="788.5" x2="382.4" y2="783.2" stroke="#ee1111" stroke-width="2.6"/><line x1="382.4" y1="783.2" x2="440.9" y2="777.9" stroke="#f0e040" stroke-width="2.6"/><line x1="323.8" y1="788.5" x2="384" y2="780.9" stroke="#ee1111" stroke-width="2.6"/><line x1="384" y1="780.9" x2="444.2" y2="773.3" stroke="#f07820" stroke-width="2.6"/><line x1="323.8" y1="788.5" x2="318.5" y2="851.8" stroke="#ee1111" stroke-width="2.6"/><line x1="318.5" y1="851.8" x2="313.2" y2="915" stroke="#f0e040" stroke-width="2.6"/><line x1="323.8" y1="788.5" x2="315.3" y2="854.7" stroke="#ee1111" stroke-width="2.6"/><line x1="315.3" y1="854.7" x2="306.8" y2="920.8" stroke="#f07820" stroke-width="2.6"/><line x1="466.8" y1="775.3" x2="407.9" y2="768.9" stroke="#ee1111" stroke-width="2.6"/><line x1="407.9" y1="768.9" x2="348.9" y2="762.4" stroke="#f0e040" stroke-width="2.6"/><line x1="466.8" y1="775.3" x2="406" y2="766" stroke="#ee1111" stroke-width="2.6"/><line x1="406" y1="766" x2="345.3" y2="756.7" stroke="#f07820" stroke-width="2.6"/><line x1="466.8" y1="775.3" x2="453.8" y2="776.6" stroke="#ee1111" stroke-width="2.6"/><line x1="453.8" y1="776.6" x2="440.9" y2="777.9" stroke="#f0e040" stroke-width="2.6"/><line x1="466.8" y1="775.3" x2="455.5" y2="774.3" stroke="#ee1111" stroke-width="2.6"/><line x1="455.5" y1="774.3" x2="444.2" y2="773.3" stroke="#f07820" stroke-width="2.6"/><line x1="466.8" y1="775.3" x2="476.3" y2="837.2" stroke="#ee1111" stroke-width="2.6"/><line x1="476.3" y1="837.2" x2="485.8" y2="899.1" stroke="#f0e040" stroke-width="2.6"/><line x1="466.8" y1="775.3" x2="479.6" y2="839.5" stroke="#ee1111" stroke-width="2.6"/><line x1="479.6" y1="839.5" x2="492.5" y2="903.6" stroke="#f07820" stroke-width="2.6"/>
<circle cx="315.9" cy="1192.4" r="5.4" fill="url(#gSe)"/>
<circle cx="348.9" cy="762.4" r="4.3" fill="url(#gS)"/><circle cx="440.9" cy="777.9" r="4.3" fill="url(#gS)"/><circle cx="485.8" cy="899.1" r="4.3" fill="url(#gS)"/><circle cx="313.2" cy="915" r="4.3" fill="url(#gS)"/><circle cx="345.3" cy="756.7" r="5.2" fill="url(#gSe)"/><circle cx="444.2" cy="773.3" r="5.2" fill="url(#gSe)"/><circle cx="492.5" cy="903.6" r="5.2" fill="url(#gSe)"/><circle cx="306.8" cy="920.8" r="5.2" fill="url(#gSe)"/><circle cx="437.2" cy="901.7" r="6" fill="url(#gV)"/><circle cx="323.8" cy="788.5" r="6" fill="url(#gV)"/><circle cx="466.8" cy="775.3" r="6" fill="url(#gV)"/>
<line x1="462.8" y1="838.5" x2="475.9" y2="838.5" stroke="#1c1c1c" stroke-width="2.2" stroke-linecap="round"/>
<line x1="675.1" y1="1299.9" x2="675.5" y2="1313.5" stroke="#1c1c1c" stroke-width="2.2" stroke-linecap="round"/>
<circle cx="181.7" cy="773.8" r="5.4" fill="url(#gSe)"/>
<line x1="475.9" y1="838.5" x2="489.1" y2="838.4" stroke="#1c1c1c" stroke-width="2.2" stroke-linecap="round"/>
<line x1="674.6" y1="1286.3" x2="675.1" y2="1299.9" stroke="#1c1c1c" stroke-width="2.2" stroke-linecap="round"/>
<line x1="674.2" y1="1272.7" x2="674.6" y2="1286.3" stroke="#1c1c1c" stroke-width="2.2" stroke-linecap="round"/>
<line x1="673.7" y1="1259.2" x2="674.2" y2="1272.7" stroke="#1c1c1c" stroke-width="2.2" stroke-linecap="round"/>
<line x1="489.1" y1="838.4" x2="502.2" y2="838.4" stroke="#1c1c1c" stroke-width="2.2" stroke-linecap="round"/>
<line x1="673.3" y1="1245.6" x2="673.7" y2="1259.2" stroke="#1c1c1c" stroke-width="2.2" stroke-linecap="round"/>
<line x1="672.8" y1="1232" x2="673.3" y2="1245.6" stroke="#1c1c1c" stroke-width="2.2" stroke-linecap="round"/>
<line x1="502.2" y1="838.4" x2="515.3" y2="838.4" stroke="#1c1c1c" stroke-width="2.2" stroke-linecap="round"/>
<line x1="672.4" y1="1218.4" x2="672.8" y2="1232" stroke="#1c1c1c" stroke-width="2.2" stroke-linecap="round"/>
<line x1="671.9" y1="1204.8" x2="672.4" y2="1218.4" stroke="#1c1c1c" stroke-width="2.2" stroke-linecap="round"/>
<line x1="612.2" y1="1381.5" x2="625.3" y2="1381.5" stroke="#1c1c1c" stroke-width="2.2" stroke-linecap="round"/>
<line x1="625.3" y1="1381.5" x2="638.4" y2="1381.5" stroke="#1c1c1c" stroke-width="2.2" stroke-linecap="round"/>
<line x1="638.4" y1="1381.5" x2="651.6" y2="1381.4" stroke="#1c1c1c" stroke-width="2.2" stroke-linecap="round"/>
<line x1="651.6" y1="1381.4" x2="664.7" y2="1381.4" stroke="#1c1c1c" stroke-width="2.2" stroke-linecap="round"/>
<line x1="664.7" y1="1381.4" x2="677.8" y2="1381.4" stroke="#1c1c1c" stroke-width="2.2" stroke-linecap="round"/>
<line x1="677.8" y1="1381.4" x2="681.8" y2="1379.8" stroke="#1c1c1c" stroke-width="2.2" stroke-linecap="round"/>
<line x1="681.8" y1="1379.8" x2="685.8" y2="1378.3" stroke="#1c1c1c" stroke-width="2.2" stroke-linecap="round"/>
<line x1="685.8" y1="1378.3" x2="689.8" y2="1376.7" stroke="#1c1c1c" stroke-width="2.2" stroke-linecap="round"/>
<line x1="689.8" y1="1376.7" x2="693.8" y2="1375.2" stroke="#1c1c1c" stroke-width="2.2" stroke-linecap="round"/>
<line x1="693.8" y1="1375.2" x2="697.8" y2="1373.6" stroke="#1c1c1c" stroke-width="2.2" stroke-linecap="round"/>
<line x1="675.5" y1="1313.5" x2="676" y2="1327.1" stroke="#1c1c1c" stroke-width="2.2" stroke-linecap="round"/>
<line x1="676" y1="1327.1" x2="676.4" y2="1340.7" stroke="#1c1c1c" stroke-width="2.2" stroke-linecap="round"/>
<line x1="676.4" y1="1340.7" x2="676.9" y2="1354.2" stroke="#1c1c1c" stroke-width="2.2" stroke-linecap="round"/>
<line x1="676.9" y1="1354.2" x2="677.3" y2="1367.8" stroke="#1c1c1c" stroke-width="2.2" stroke-linecap="round"/>
<line x1="677.3" y1="1367.8" x2="677.8" y2="1381.4" stroke="#1c1c1c" stroke-width="2.2" stroke-linecap="round"/>
<polygon points="625.9,1299.5 724.8,1316.1 587.4,1463.6" fill="#c4fb8b" fill-opacity="0.7"/>
<polygon points="724.8,1316.1 773.1,1446.4 587.4,1463.6" fill="#65c458" fill-opacity="0.7"/>
<line x1="671.5" y1="1191.2" x2="671.9" y2="1204.8" stroke="#1c1c1c" stroke-width="2.2" stroke-linecap="round"/>
<line x1="515.3" y1="838.4" x2="528.5" y2="838.4" stroke="#1c1c1c" stroke-width="2.2" stroke-linecap="round"/>
<polygon points="625.9,1299.5 587.4,1463.6 685.2,1358.7" fill="#f4ffe0" fill-opacity="0.38"/>
<line x1="671" y1="1177.7" x2="671.5" y2="1191.2" stroke="#1c1c1c" stroke-width="2.2" stroke-linecap="round"/>
<circle cx="677.8" cy="1381.4" r="8" fill="url(#gGa)"/>
<line x1="528.5" y1="838.4" x2="541.6" y2="838.3" stroke="#1c1c1c" stroke-width="2.2" stroke-linecap="round"/>
<circle cx="625.9" cy="1299.5" r="5.4" fill="url(#gSe)"/>
<circle cx="773.1" cy="1446.4" r="5.4" fill="url(#gSe)"/>
<line x1="541.6" y1="838.3" x2="554.7" y2="838.3" stroke="#1c1c1c" stroke-width="2.2" stroke-linecap="round"/>
<line x1="554.7" y1="838.3" x2="567.8" y2="838.3" stroke="#1c1c1c" stroke-width="2.2" stroke-linecap="round"/>
<line x1="666.5" y1="1041.8" x2="666.9" y2="1055.4" stroke="#1c1c1c" stroke-width="2.2" stroke-linecap="round"/>
<line x1="666.9" y1="1055.4" x2="667.4" y2="1069" stroke="#1c1c1c" stroke-width="2.2" stroke-linecap="round"/>
<line x1="667.4" y1="1069" x2="667.8" y2="1082.6" stroke="#1c1c1c" stroke-width="2.2" stroke-linecap="round"/>
<line x1="667.8" y1="1082.6" x2="668.3" y2="1096.2" stroke="#1c1c1c" stroke-width="2.2" stroke-linecap="round"/>
<line x1="668.3" y1="1096.2" x2="668.8" y2="1109.8" stroke="#1c1c1c" stroke-width="2.2" stroke-linecap="round"/>
<line x1="668.8" y1="1109.8" x2="669.2" y2="1123.3" stroke="#1c1c1c" stroke-width="2.2" stroke-linecap="round"/>
<line x1="669.2" y1="1123.3" x2="669.7" y2="1136.9" stroke="#1c1c1c" stroke-width="2.2" stroke-linecap="round"/>
<line x1="669.7" y1="1136.9" x2="670.1" y2="1150.5" stroke="#1c1c1c" stroke-width="2.2" stroke-linecap="round"/>
<line x1="670.1" y1="1150.5" x2="670.6" y2="1164.1" stroke="#1c1c1c" stroke-width="2.2" stroke-linecap="round"/>
<line x1="670.6" y1="1164.1" x2="671" y2="1177.7" stroke="#1c1c1c" stroke-width="2.2" stroke-linecap="round"/>
<polygon points="595.4,1059.7 715.8,1044.4 708.7,1172.8 578.4,1191.9" fill="#b4dfe4" fill-opacity="0.62"/>
<polygon points="715.8,1044.4 738.3,1046.5 764,1174.8 708.7,1172.8" fill="#62b4bc" fill-opacity="0.8"/>
<polygon points="595.4,1059.7 715.8,1044.4 738.3,1046.5 616.8,1027.8" fill="#7bc1c3" fill-opacity="0.6"/>
<line x1="567.8" y1="838.3" x2="581" y2="838.2" stroke="#1c1c1c" stroke-width="2.2" stroke-linecap="round"/>
<line x1="666" y1="1028.3" x2="666.5" y2="1041.8" stroke="#1c1c1c" stroke-width="2.2" stroke-linecap="round"/>
<line x1="581" y1="838.2" x2="594.1" y2="838.2" stroke="#1c1c1c" stroke-width="2.2" stroke-linecap="round"/>
<line x1="665.6" y1="1014.7" x2="666" y2="1028.3" stroke="#1c1c1c" stroke-width="2.2" stroke-linecap="round"/>
<polygon points="607.8,756.2 706.7,772.8 755,903.1" fill="#69da44" fill-opacity="0.5"/>
<line x1="708.7" y1="1172.8" x2="710.6" y2="1110.9" stroke="#ee1111" stroke-width="2.6"/><line x1="710.6" y1="1110.9" x2="712.5" y2="1049" stroke="#f0e040" stroke-width="2.6"/><line x1="708.7" y1="1172.8" x2="712.2" y2="1108.6" stroke="#ee1111" stroke-width="2.6"/><line x1="712.2" y1="1108.6" x2="715.8" y2="1044.4" stroke="#f07820" stroke-width="2.6"/><line x1="708.7" y1="1172.8" x2="733" y2="1171.5" stroke="#ee1111" stroke-width="2.6"/><line x1="733" y1="1171.5" x2="757.4" y2="1170.2" stroke="#f0e040" stroke-width="2.6"/><line x1="708.7" y1="1172.8" x2="736.4" y2="1173.8" stroke="#ee1111" stroke-width="2.6"/><line x1="736.4" y1="1173.8" x2="764" y2="1174.8" stroke="#f07820" stroke-width="2.6"/><line x1="708.7" y1="1172.8" x2="646.7" y2="1179.5" stroke="#ee1111" stroke-width="2.6"/><line x1="646.7" y1="1179.5" x2="584.7" y2="1186.2" stroke="#f0e040" stroke-width="2.6"/><line x1="708.7" y1="1172.8" x2="643.6" y2="1182.4" stroke="#ee1111" stroke-width="2.6"/><line x1="643.6" y1="1182.4" x2="578.4" y2="1191.9" stroke="#f07820" stroke-width="2.6"/><line x1="595.4" y1="1059.7" x2="607.9" y2="1046.6" stroke="#ee1111" stroke-width="2.6"/><line x1="607.9" y1="1046.6" x2="620.5" y2="1033.6" stroke="#f0e040" stroke-width="2.6"/><line x1="595.4" y1="1059.7" x2="606.1" y2="1043.7" stroke="#ee1111" stroke-width="2.6"/><line x1="606.1" y1="1043.7" x2="616.8" y2="1027.8" stroke="#f07820" stroke-width="2.6"/><line x1="595.4" y1="1059.7" x2="653.9" y2="1054.3" stroke="#ee1111" stroke-width="2.6"/><line x1="653.9" y1="1054.3" x2="712.5" y2="1049" stroke="#f0e040" stroke-width="2.6"/><line x1="595.4" y1="1059.7" x2="655.6" y2="1052.1" stroke="#ee1111" stroke-width="2.6"/><line x1="655.6" y1="1052.1" x2="715.8" y2="1044.4" stroke="#f07820" stroke-width="2.6"/><line x1="595.4" y1="1059.7" x2="590.1" y2="1122.9" stroke="#ee1111" stroke-width="2.6"/><line x1="590.1" y1="1122.9" x2="584.7" y2="1186.2" stroke="#f0e040" stroke-width="2.6"/><line x1="595.4" y1="1059.7" x2="586.9" y2="1125.8" stroke="#ee1111" stroke-width="2.6"/><line x1="586.9" y1="1125.8" x2="578.4" y2="1191.9" stroke="#f07820" stroke-width="2.6"/><line x1="738.3" y1="1046.5" x2="679.4" y2="1040" stroke="#ee1111" stroke-width="2.6"/><line x1="679.4" y1="1040" x2="620.5" y2="1033.6" stroke="#f0e040" stroke-width="2.6"/><line x1="738.3" y1="1046.5" x2="677.6" y2="1037.1" stroke="#ee1111" stroke-width="2.6"/><line x1="677.6" y1="1037.1" x2="616.8" y2="1027.8" stroke="#f07820" stroke-width="2.6"/><line x1="738.3" y1="1046.5" x2="725.4" y2="1047.7" stroke="#ee1111" stroke-width="2.6"/><line x1="725.4" y1="1047.7" x2="712.5" y2="1049" stroke="#f0e040" stroke-width="2.6"/><line x1="738.3" y1="1046.5" x2="727" y2="1045.4" stroke="#ee1111" stroke-width="2.6"/><line x1="727" y1="1045.4" x2="715.8" y2="1044.4" stroke="#f07820" stroke-width="2.6"/><line x1="738.3" y1="1046.5" x2="747.8" y2="1108.3" stroke="#ee1111" stroke-width="2.6"/><line x1="747.8" y1="1108.3" x2="757.4" y2="1170.2" stroke="#f0e040" stroke-width="2.6"/><line x1="738.3" y1="1046.5" x2="751.2" y2="1110.6" stroke="#ee1111" stroke-width="2.6"/><line x1="751.2" y1="1110.6" x2="764" y2="1174.8" stroke="#f07820" stroke-width="2.6"/>
<polygon points="607.8,756.2 755,903.1 569.3,920.3" fill="#69da44" fill-opacity="0.5"/>
<line x1="665.1" y1="1001.1" x2="665.6" y2="1014.7" stroke="#1c1c1c" stroke-width="2.2" stroke-linecap="round"/>
<circle cx="587.4" cy="1463.6" r="5.4" fill="url(#gSe)"/>
<line x1="664.7" y1="987.5" x2="665.1" y2="1001.1" stroke="#1c1c1c" stroke-width="2.2" stroke-linecap="round"/>
<line x1="664.2" y1="973.9" x2="664.7" y2="987.5" stroke="#1c1c1c" stroke-width="2.2" stroke-linecap="round"/>
<circle cx="620.5" cy="1033.6" r="4.3" fill="url(#gS)"/><circle cx="712.5" cy="1049" r="4.3" fill="url(#gS)"/><circle cx="757.4" cy="1170.2" r="4.3" fill="url(#gS)"/><circle cx="584.7" cy="1186.2" r="4.3" fill="url(#gS)"/><circle cx="616.8" cy="1027.8" r="5.2" fill="url(#gSe)"/><circle cx="715.8" cy="1044.4" r="5.2" fill="url(#gSe)"/><circle cx="764" cy="1174.8" r="5.2" fill="url(#gSe)"/><circle cx="578.4" cy="1191.9" r="5.2" fill="url(#gSe)"/><circle cx="708.7" cy="1172.8" r="6" fill="url(#gV)"/><circle cx="595.4" cy="1059.7" r="6" fill="url(#gV)"/><circle cx="738.3" cy="1046.5" r="6" fill="url(#gV)"/>
<line x1="663.8" y1="960.3" x2="664.2" y2="973.9" stroke="#1c1c1c" stroke-width="2.2" stroke-linecap="round"/>
<line x1="663.3" y1="946.8" x2="663.8" y2="960.3" stroke="#1c1c1c" stroke-width="2.2" stroke-linecap="round"/>
<line x1="662.9" y1="933.2" x2="663.3" y2="946.8" stroke="#1c1c1c" stroke-width="2.2" stroke-linecap="round"/>
<line x1="662.4" y1="919.6" x2="662.9" y2="933.2" stroke="#1c1c1c" stroke-width="2.2" stroke-linecap="round"/>
<line x1="662" y1="906" x2="662.4" y2="919.6" stroke="#1c1c1c" stroke-width="2.2" stroke-linecap="round"/>
<circle cx="453.3" cy="1044.9" r="5.4" fill="url(#gSe)"/>
<line x1="594.1" y1="838.2" x2="607.2" y2="838.2" stroke="#1c1c1c" stroke-width="2.2" stroke-linecap="round"/>
<line x1="607.2" y1="838.2" x2="620.3" y2="838.2" stroke="#1c1c1c" stroke-width="2.2" stroke-linecap="round"/>
<line x1="620.3" y1="838.2" x2="633.5" y2="838.1" stroke="#1c1c1c" stroke-width="2.2" stroke-linecap="round"/>
<line x1="633.5" y1="838.1" x2="646.6" y2="838.1" stroke="#1c1c1c" stroke-width="2.2" stroke-linecap="round"/>
<line x1="646.6" y1="838.1" x2="659.7" y2="838.1" stroke="#1c1c1c" stroke-width="2.2" stroke-linecap="round"/>
<line x1="659.7" y1="838.1" x2="663.7" y2="836.5" stroke="#1c1c1c" stroke-width="2.2" stroke-linecap="round"/>
<line x1="663.7" y1="836.5" x2="667.7" y2="835" stroke="#1c1c1c" stroke-width="2.2" stroke-linecap="round"/>
<line x1="667.7" y1="835" x2="671.7" y2="833.4" stroke="#1c1c1c" stroke-width="2.2" stroke-linecap="round"/>
<line x1="671.7" y1="833.4" x2="675.7" y2="831.9" stroke="#1c1c1c" stroke-width="2.2" stroke-linecap="round"/>
<line x1="675.7" y1="831.9" x2="679.7" y2="830.3" stroke="#1c1c1c" stroke-width="2.2" stroke-linecap="round"/>
<line x1="659.7" y1="838.1" x2="660.2" y2="851.7" stroke="#1c1c1c" stroke-width="2.2" stroke-linecap="round"/>
<line x1="660.2" y1="851.7" x2="660.6" y2="865.3" stroke="#1c1c1c" stroke-width="2.2" stroke-linecap="round"/>
<line x1="660.6" y1="865.3" x2="661.1" y2="878.8" stroke="#1c1c1c" stroke-width="2.2" stroke-linecap="round"/>
<line x1="661.1" y1="878.8" x2="661.5" y2="892.4" stroke="#1c1c1c" stroke-width="2.2" stroke-linecap="round"/>
<line x1="661.5" y1="892.4" x2="662" y2="906" stroke="#1c1c1c" stroke-width="2.2" stroke-linecap="round"/>
<polygon points="607.8,756.2 706.7,772.8 569.3,920.3" fill="#c4fb8b" fill-opacity="0.7"/>
<polygon points="706.7,772.8 755,903.1 569.3,920.3" fill="#65c458" fill-opacity="0.7"/>
<polygon points="607.8,756.2 569.3,920.3 667.1,815.4" fill="#f4ffe0" fill-opacity="0.38"/>
<circle cx="659.7" cy="838.1" r="8" fill="url(#gGa)"/>
<circle cx="607.8" cy="756.2" r="5.4" fill="url(#gSe)"/>
<circle cx="755" cy="903.1" r="5.4" fill="url(#gSe)"/>
<circle cx="724.8" cy="1316.1" r="5.4" fill="url(#gSe)"/>
<circle cx="569.3" cy="920.3" r="5.4" fill="url(#gSe)"/>
<circle cx="706.7" cy="772.8" r="5.4" fill="url(#gSe)"/>
</g>
<text x="93.5" y="707.5" font-family="Liberation Serif" font-size="38.5">c)</text>
<circle cx="970.4" cy="762.9" r="19.2" fill="url(#gGaL)"/>
<text x="993" y="772.9" font-family="Liberation Mono" font-weight="bold" font-size="34" fill="#707070">Ga</text>
<circle cx="970.4" cy="805.4" r="19.2" fill="url(#gS)"/>
<text x="993" y="815.4" font-family="Liberation Mono" font-weight="bold" font-size="34" fill="#707070">S</text>
<circle cx="970.4" cy="847.9" r="19.2" fill="url(#gSe)"/>
<text x="993" y="857.9" font-family="Liberation Mono" font-weight="bold" font-size="34" fill="#707070">Se</text>
<circle cx="970.4" cy="890.4" r="19.2" fill="url(#gV)"/>
<text x="993" y="900.4" font-family="Liberation Mono" font-weight="bold" font-size="34" fill="#707070">V</text>
<polygon points="1299,699.5 1425,794.5 1473.6,1030.6 1254.6,1045 1081.5,1022 1120.5,790.3" fill="#b9e0e0"/>
<polygon points="1081.5,1022 1299,949 1473.6,1030.6 1254.6,1045" fill="#bfe4e4" opacity="0.6"/>
<line x1="1299" y1="949" x2="1299" y2="830.5" stroke="#ee1111" stroke-width="5.5" opacity="0.6"/><line x1="1299" y1="830.5" x2="1299" y2="712" stroke="#c8e080" stroke-width="5.5" opacity="0.6"/><line x1="1299" y1="949" x2="1196" y2="981.2" stroke="#ee1111" stroke-width="5.5" opacity="0.6"/><line x1="1196" y1="981.2" x2="1093" y2="1013.4" stroke="#e8e070" stroke-width="5.5" opacity="0.6"/><line x1="1299" y1="949" x2="1380.5" y2="986.2" stroke="#ee1111" stroke-width="5.5" opacity="0.6"/><line x1="1380.5" y1="986.2" x2="1462" y2="1023.4" stroke="#d8e070" stroke-width="5.5" opacity="0.6"/>
<circle cx="1299" cy="949" r="11" fill="#9a8a92" opacity="0.85"/>
<polygon points="1299,699.5 1120.5,790.3 1241.5,824.8 1425,794.5" fill="#b3dede" opacity="0.75"/>
<polygon points="1120.5,790.3 1241.5,824.8 1254.6,1045 1081.5,1022" fill="#8ccccc" opacity="0.55"/>
<polygon points="1241.5,824.8 1425,794.5 1473.6,1030.6 1254.6,1045" fill="#92cfcf" opacity="0.5"/>
<line x1="1120.5" y1="790.3" x2="1209.8" y2="751.1" stroke="#ee1111" stroke-width="5.2" opacity="1"/><line x1="1209.8" y1="751.1" x2="1299" y2="712" stroke="#f0d830" stroke-width="5.2" opacity="1"/><line x1="1120.5" y1="790.3" x2="1209.8" y2="744.9" stroke="#ee1111" stroke-width="5.2" opacity="1"/><line x1="1209.8" y1="744.9" x2="1299" y2="699.5" stroke="#f26a10" stroke-width="5.2" opacity="1"/><line x1="1425" y1="794.5" x2="1362" y2="753.2" stroke="#ee1111" stroke-width="5.2" opacity="1"/><line x1="1362" y1="753.2" x2="1299" y2="712" stroke="#f0d830" stroke-width="5.2" opacity="1"/><line x1="1425" y1="794.5" x2="1362" y2="747" stroke="#ee1111" stroke-width="5.2" opacity="1"/><line x1="1362" y1="747" x2="1299" y2="699.5" stroke="#f26a10" stroke-width="5.2" opacity="1"/><line x1="1120.5" y1="790.3" x2="1182.5" y2="810.6" stroke="#ee1111" stroke-width="5.2" opacity="1"/><line x1="1182.5" y1="810.6" x2="1244.5" y2="831" stroke="#f0d830" stroke-width="5.2" opacity="1"/><line x1="1120.5" y1="790.3" x2="1181" y2="807.5" stroke="#ee1111" stroke-width="5.2" opacity="1"/><line x1="1181" y1="807.5" x2="1241.5" y2="824.8" stroke="#f26a10" stroke-width="5.2" opacity="1"/><line x1="1425" y1="794.5" x2="1334.8" y2="812.8" stroke="#ee1111" stroke-width="5.2" opacity="1"/><line x1="1334.8" y1="812.8" x2="1244.5" y2="831" stroke="#f0d830" stroke-width="5.2" opacity="1"/><line x1="1425" y1="794.5" x2="1333.2" y2="809.6" stroke="#ee1111" stroke-width="5.2" opacity="1"/><line x1="1333.2" y1="809.6" x2="1241.5" y2="824.8" stroke="#f26a10" stroke-width="5.2" opacity="1"/><line x1="1120.5" y1="790.3" x2="1106.8" y2="901.8" stroke="#ee1111" stroke-width="5.2" opacity="1"/><line x1="1106.8" y1="901.8" x2="1093" y2="1013.4" stroke="#f0d830" stroke-width="5.2" opacity="1"/><line x1="1120.5" y1="790.3" x2="1101" y2="906.1" stroke="#ee1111" stroke-width="5.2" opacity="1"/><line x1="1101" y1="906.1" x2="1081.5" y2="1022" stroke="#f26a10" stroke-width="5.2" opacity="1"/><line x1="1425" y1="794.5" x2="1443.5" y2="909" stroke="#ee1111" stroke-width="5.2" opacity="1"/><line x1="1443.5" y1="909" x2="1462" y2="1023.4" stroke="#f0d830" stroke-width="5.2" opacity="1"/><line x1="1425" y1="794.5" x2="1449.3" y2="912.5" stroke="#ee1111" stroke-width="5.2" opacity="1"/><line x1="1449.3" y1="912.5" x2="1473.6" y2="1030.6" stroke="#f26a10" stroke-width="5.2" opacity="1"/><line x1="1254.6" y1="1045" x2="1249.5" y2="938" stroke="#ee1111" stroke-width="5.2" opacity="1"/><line x1="1249.5" y1="938" x2="1244.5" y2="831" stroke="#f0d830" stroke-width="5.2" opacity="1"/><line x1="1254.6" y1="1045" x2="1248" y2="934.9" stroke="#ee1111" stroke-width="5.2" opacity="1"/><line x1="1248" y1="934.9" x2="1241.5" y2="824.8" stroke="#f26a10" stroke-width="5.2" opacity="1"/><line x1="1254.6" y1="1045" x2="1173.8" y2="1029.2" stroke="#ee1111" stroke-width="5.2" opacity="1"/><line x1="1173.8" y1="1029.2" x2="1093" y2="1013.4" stroke="#f0d830" stroke-width="5.2" opacity="1"/><line x1="1254.6" y1="1045" x2="1168" y2="1033.5" stroke="#ee1111" stroke-width="5.2" opacity="1"/><line x1="1168" y1="1033.5" x2="1081.5" y2="1022" stroke="#f26a10" stroke-width="5.2" opacity="1"/><line x1="1254.6" y1="1045" x2="1358.3" y2="1034.2" stroke="#ee1111" stroke-width="5.2" opacity="1"/><line x1="1358.3" y1="1034.2" x2="1462" y2="1023.4" stroke="#f0d830" stroke-width="5.2" opacity="1"/><line x1="1254.6" y1="1045" x2="1364.1" y2="1037.8" stroke="#ee1111" stroke-width="5.2" opacity="1"/><line x1="1364.1" y1="1037.8" x2="1473.6" y2="1030.6" stroke="#f26a10" stroke-width="5.2" opacity="1"/>
<circle cx="1299" cy="712" r="9.5" fill="url(#gS)"/>
<circle cx="1244.5" cy="831" r="9.5" fill="url(#gS)"/>
<circle cx="1093" cy="1013.4" r="9.5" fill="url(#gS)"/>
<circle cx="1462" cy="1023.4" r="9.5" fill="url(#gS)"/>
<circle cx="1299" cy="699.5" r="10.5" fill="url(#gSe)"/>
<circle cx="1241.5" cy="824.8" r="10.5" fill="url(#gSe)"/>
<circle cx="1081.5" cy="1022" r="10.5" fill="url(#gSe)"/>
<circle cx="1473.6" cy="1030.6" r="10.5" fill="url(#gSe)"/>
<circle cx="1120.5" cy="790.3" r="11.5" fill="url(#gV)"/>
<circle cx="1425" cy="794.5" r="11.5" fill="url(#gV)"/>
<circle cx="1254.6" cy="1045" r="11.5" fill="url(#gV)"/>
<text transform="translate(1314.5,706) scale(1,1.1)" font-weight="bold" font-size="25">Se1</text>
<text transform="translate(1281,747) scale(1,1.1)" font-weight="bold" font-size="23.5">S1</text>
<polygon points="1278.3,1111.8 1099.6,1391.3 1460.4,1390.5" fill="#d9fcb0"/>
<polygon points="1099.6,1391.3 1277.7,1429.5 1460.4,1390.5" fill="#6abb62"/>
<polygon points="1099.6,1391.3 1277.7,1429.5 1280,1391" fill="#5aae58" opacity="0.5"/>
<line x1="1278.5" y1="1330" x2="1278.4" y2="1220.9" stroke="#8ed860" stroke-width="4"/><line x1="1278.4" y1="1220.9" x2="1278.3" y2="1111.8" stroke="#d8c858" stroke-width="4"/><line x1="1278.5" y1="1330" x2="1189" y2="1360.7" stroke="#8ed860" stroke-width="4"/><line x1="1189" y1="1360.7" x2="1099.6" y2="1391.3" stroke="#d8c858" stroke-width="4"/><line x1="1278.5" y1="1330" x2="1369.5" y2="1360.2" stroke="#8ed860" stroke-width="4"/><line x1="1369.5" y1="1360.2" x2="1460.4" y2="1390.5" stroke="#d8c858" stroke-width="4"/><line x1="1278.5" y1="1330" x2="1278.1" y2="1379.8" stroke="#8ed860" stroke-width="4"/><line x1="1278.1" y1="1379.8" x2="1277.7" y2="1429.5" stroke="#d8c858" stroke-width="4"/>
<circle cx="1278.5" cy="1330" r="13" fill="url(#gGaB)"/>
<circle cx="1278.3" cy="1111.8" r="9.6" fill="url(#gSe)"/>
<circle cx="1099.6" cy="1391.3" r="9.6" fill="url(#gSe)"/>
<circle cx="1460.4" cy="1390.5" r="9.6" fill="url(#gSe)"/>
<circle cx="1277.7" cy="1429.5" r="9.6" fill="url(#gSe)"/>
<text transform="translate(1170,1120) scale(1,1.06)" font-weight="bold" font-size="25" letter-spacing="1.1">S2/Se2</text>
<g stroke="#000" stroke-width="3.4" fill="none"><path d="M949,1422.8 L948.5,1326"/><path d="M949,1422.8 L1034,1422.8"/><path d="M949,1422.8 L975,1411.5"/></g>
<g fill="#000"><path d="M942,1328 L948.5,1315.8 L954.5,1328Z"/><path d="M1033,1417 L1045,1423 L1033,1429.3Z"/><path d="M970.5,1407 L983.8,1408.2 L975.5,1417.5Z"/></g>
<g font-weight="bold" font-style="italic" font-size="26"><text x="942" y="1307">c</text><text x="980" y="1404">b</text><text x="1049" y="1430">a</text></g>
</svg></body></html>
